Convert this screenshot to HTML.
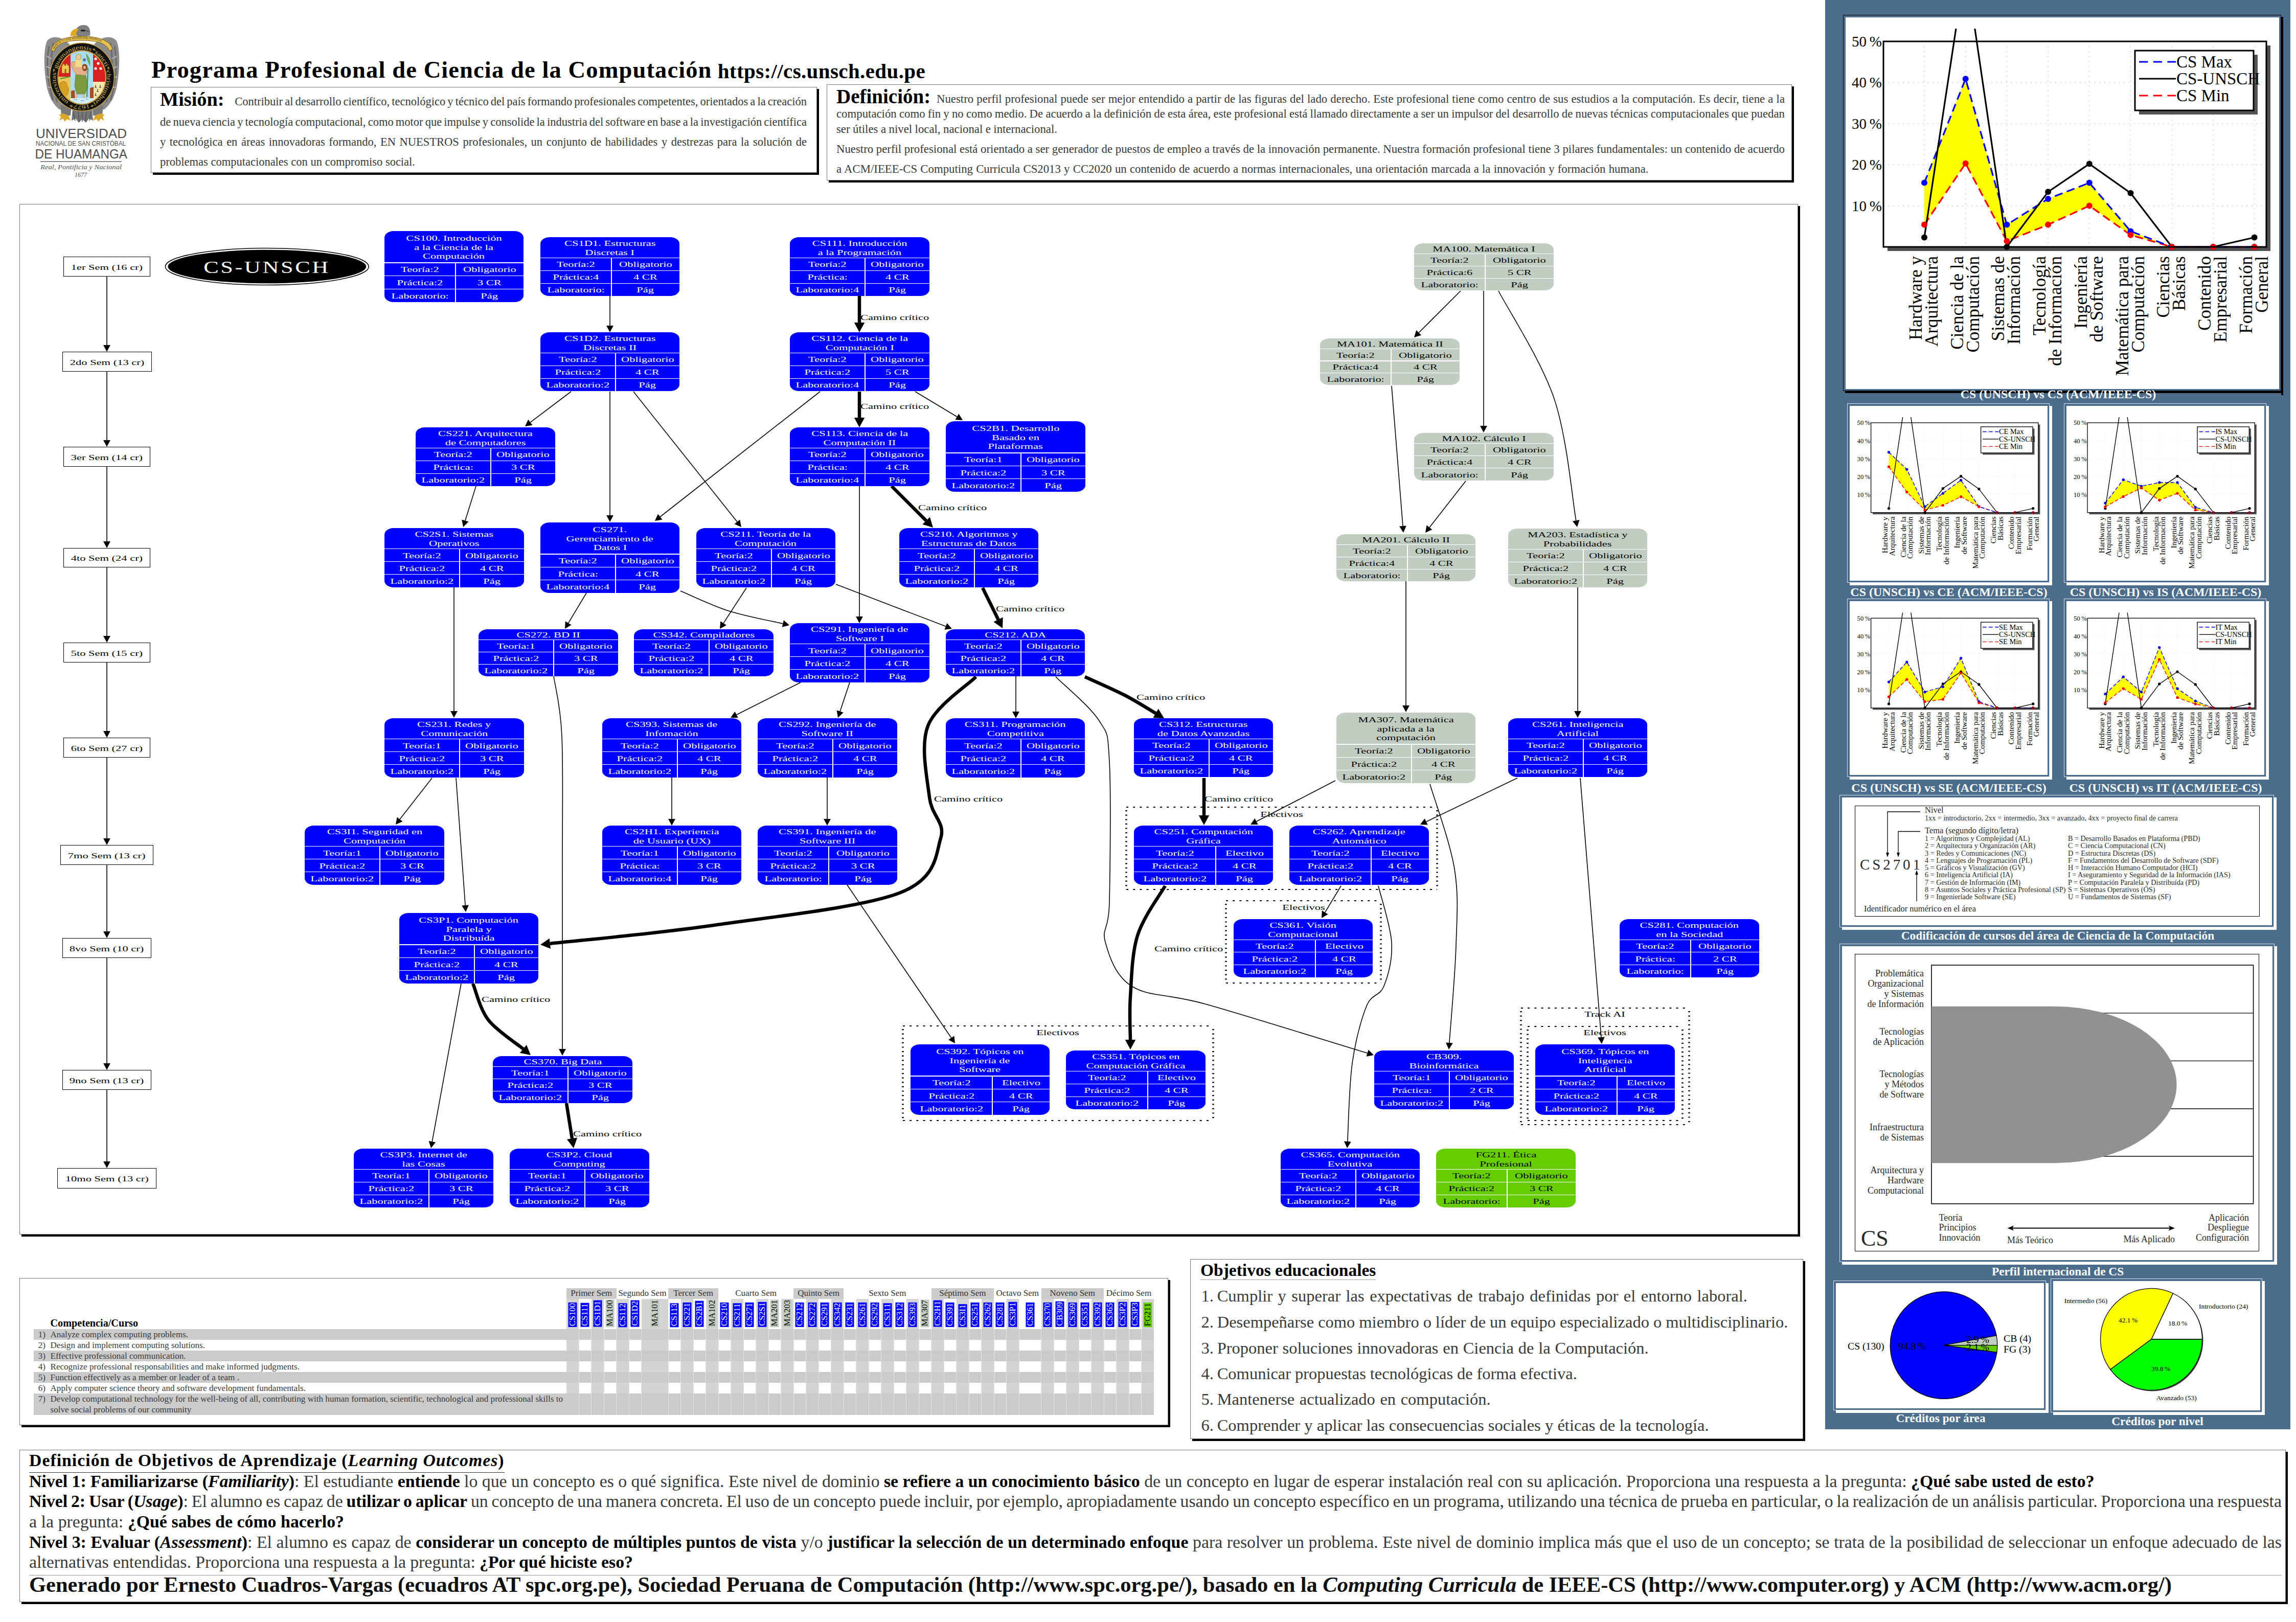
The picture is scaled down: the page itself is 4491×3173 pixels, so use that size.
<!DOCTYPE html><html><head><meta charset="utf-8"><style>
*{margin:0;padding:0;box-sizing:border-box}
html,body{width:4491px;height:3173px;background:#fff;overflow:hidden}
body{position:relative;font-family:"Liberation Serif",serif;color:#000}
b{color:#000}
.ab{position:absolute}
.nw{white-space:nowrap}
.cb{position:absolute;overflow:hidden;border-radius:18px/13px;color:#fff;font-size:14.7px;line-height:17.7px}
.sx{display:inline-block;transform:scaleX(1.53);white-space:nowrap;position:relative;top:1.5px}

.cb.g{color:#000}
.cb.v{color:#000}
.cb .hd{position:absolute;left:0;right:0;top:0;display:flex;flex-direction:column;justify-content:center;align-items:center;text-align:center}
.cb .hl{position:absolute;left:0;right:0;height:1.2px;background:#fff}
.cb .vl{position:absolute;width:1.4px;background:#fff}
.cb .cell{position:absolute;display:flex;align-items:center;justify-content:center;white-space:nowrap}
.sem{position:absolute;border:1.3px solid #000;background:#fff;display:flex;align-items:center;justify-content:center;font-size:14.7px;white-space:nowrap}
.frame{position:absolute;border:1px solid #666;background:#fff}
.shadow{position:absolute;background:#000}
.cam{position:absolute;font-size:14.7px;white-space:nowrap;line-height:1;transform:scaleX(1.53);transform-origin:0 50%}
.clab{position:absolute;font-size:14.7px;white-space:nowrap;line-height:1;transform:translate(-50%,-50%) scaleX(1.53)}
.jl{display:block;text-align:justify;text-align-last:justify;white-space:nowrap}
.ln{position:absolute;white-space:nowrap}
</style></head><body><svg class="ab" style="left:0;top:0" width="300" height="360" viewBox="0 0 300 360"><defs><path id="ribp" d="M106 97 C112 83 130 76 160 76 C190 76 208 83 214 97"/><path id="ringp" d="M134.3 198.9 A50 55 0 1 1 184.3 198.9 A50 55 0 0 1 134.3 198.9" /></defs><path d="M140 92 C128 74 104 66 92 80 C84 100 86 140 92 172 C97 192 104 204 116 214 L150 214 Z" fill="#8c8c8c"/><path d="M180 92 C192 74 216 66 228 80 C236 100 234 140 228 172 C223 192 216 204 204 214 L170 214 Z" fill="#8c8c8c"/><path d="M96 90 C90 120 92 160 104 196 M104 84 C98 118 100 160 112 200 M224 90 C230 120 228 160 216 196 M216 84 C222 118 220 160 208 200" stroke="#666" stroke-width="2.4" fill="none"/><path d="M92 110 l9 5 M91 130 l9 4 M91 150 l10 3 M93 170 l10 2 M228 110 l-9 5 M229 130 l-9 4 M229 150 l-10 3 M227 170 l-10 2" stroke="#b5b5b5" stroke-width="2.2" fill="none"/><path d="M118 206 L140 206 L138 226 L120 226 Z M180 206 L202 206 L200 226 L182 226 Z" fill="#7a7a7a"/><path d="M142 212 L180 212 L182 236 L174 232 L168 240 L161 233 L154 240 L148 232 L140 236 Z" fill="#777"/><path d="M143 218 L147 236 M153 218 L155 238 M161 218 L161 238 M169 218 L167 238 M178 218 L175 236" stroke="#555" stroke-width="1.5"/><path d="M116 224 L124 222 L134 226 L138 236 L131 233 L127 238 L123 232 L116 236 L119 229 Z" fill="#dba828"/><path d="M204 224 L196 222 L186 226 L182 236 L189 233 L193 238 L197 232 L204 236 L201 229 Z" fill="#dba828"/><path d="M148 66 C146 54 156 48 166 49 C174 50 178 58 176 70 L152 72 Z" fill="#808080"/><path d="M150 56 C142 57 137 63 138 70 L150 71 C148 66 149 61 154 58 Z" fill="#e2a620"/><path d="M157 60 C160 57 165 57 168 60 C165 62 160 62 157 60 Z" fill="#222"/><path d="M168 60 l6 2" stroke="#333" stroke-width="1"/><path d="M100 98 C104 80 126 71 160 71 C194 71 216 80 220 96 L214 100 C210 86 192 79 160 79 C128 79 110 86 106 101 Z" fill="#e6c050" stroke="#6b5010" stroke-width="0.9"/><text font-family="Liberation Serif" font-size="6" fill="#4a3800" textLength="100" lengthAdjust="spacingAndGlyphs"><textPath href="#ribp">PRIMVM VIVERE DEINDE PHILOSOPHARI</textPath></text><ellipse cx="160.5" cy="150.5" rx="63" ry="66.5" fill="#111" stroke="#c9a040" stroke-width="1.5"/><text font-family="Liberation Serif" font-size="11.5" fill="#dcb858" textLength="325" lengthAdjust="spacingAndGlyphs"><textPath href="#ringp" textLength="325" lengthAdjust="spacingAndGlyphs">universitas*guamangensis*sancti*christophori*1677*</textPath></text><ellipse cx="160.2" cy="151.5" rx="48" ry="53.5" fill="#c9a040"/><clipPath id="shc"><ellipse cx="160.2" cy="151.5" rx="45.8" ry="51.2"/></clipPath><g clip-path="url(#shc)"><rect x="110" y="95" width="30" height="57" fill="#d82020"/><rect x="110" y="150" width="30" height="60" fill="#e9c75c"/><rect x="138" y="95" width="45" height="115" fill="#a9dcf2"/><rect x="182" y="95" width="30" height="66" fill="#d82020"/><rect x="182" y="160" width="30" height="50" fill="#f6e7ad"/><path d="M121 143 L121 128 L123 128 L123 125 L126 125 L126 128 L129 128 L129 125 L132 125 L132 128 L135 128 L135 143 Z" fill="#ecc850" stroke="#8a6a10" stroke-width="0.6"/><rect x="126.5" y="135" width="3" height="8" fill="#8a6a10"/><path d="M118 162 C124 156 132 160 131 168 C136 172 134 184 128 190 C124 186 120 182 121 176 C117 172 116 166 118 162 Z" fill="#d8a020" stroke="#8a5a10" stroke-width="0.6"/><path d="M118 154 L136 150" stroke="#3a9a30" stroke-width="2"/><path d="M140 122 C146 118 156 124 164 132 L170 140 L166 150 L150 146 C143 140 139 130 140 122 Z" fill="#e6b08a" stroke="#8a5030" stroke-width="0.5"/><path d="M161 128 C163 124 170 124 171 130 C172 136 168 140 164 139 C161 137 160 132 161 128 Z" fill="#8a4a20"/><path d="M163 130 C165 128 168 129 168 132 C168 135 165 136 163 134 Z" fill="#eab898"/><path d="M148 146 L168 148 L172 170 L166 184 L150 184 L146 168 Z" fill="#7b9a3e" stroke="#4a6a20" stroke-width="0.5"/><path d="M151 184 L149 196 M163 184 L165 196" stroke="#e6b08a" stroke-width="3.5"/><path d="M139 178 L146 176 L147 200 L139 200 Z M176 172 L183 170 L183 200 L176 200 Z" fill="#a0502a"/><rect x="138" y="192" width="45" height="12" fill="#d2eefa"/><path d="M145 195 h6 M158 197 h7 M168 194 h5" stroke="#5a8a9a" stroke-width="1"/><circle cx="153.5" cy="111.5" r="5.2" fill="none" stroke="#d8a830" stroke-width="1.5"/><circle cx="153.5" cy="112" r="3.6" fill="#f0c8a0"/><path d="M148 117 L159 117 L161 131 L147 131 Z" fill="#f2dc8a"/><circle cx="165" cy="117" r="3" fill="#3a70c0" stroke="#c8a030" stroke-width="0.8"/><path d="M172 133 L170 190" stroke="#4a8a3a" stroke-width="2"/><path d="M168 104 C174 110 178 118 176 130 C172 122 169 114 168 104 Z" fill="#6aaa50"/><circle cx="187" cy="115" r="2.6" fill="#fff"/><circle cx="197" cy="115" r="2.6" fill="#fff"/><circle cx="192" cy="124" r="2.6" fill="#fff"/><circle cx="187" cy="134" r="2.6" fill="#fff"/><circle cx="197" cy="134" r="2.6" fill="#fff"/><path d="M187 166 l0 4 M187 170 l-2 2 M187 170 l2 2" stroke="#111" stroke-width="1"/><path d="M196 166 l0 4 M196 170 l-2 2 M196 170 l2 2" stroke="#111" stroke-width="1"/><path d="M191 174 l0 4 M191 178 l-2 2 M191 178 l2 2" stroke="#111" stroke-width="1"/><path d="M187 182 l0 4 M187 186 l-2 2 M187 186 l2 2" stroke="#111" stroke-width="1"/><path d="M197 182 l0 4 M197 186 l-2 2 M197 186 l2 2" stroke="#111" stroke-width="1"/><path d="M192 190 l0 4 M192 194 l-2 2 M192 194 l2 2" stroke="#111" stroke-width="1"/></g><text x="70" y="270" textLength="178" lengthAdjust="spacingAndGlyphs" font-family="Liberation Sans" font-size="26.5" fill="#4d4d4d">UNIVERSIDAD</text><text x="70" y="285.3" textLength="176" lengthAdjust="spacingAndGlyphs" font-family="Liberation Sans" font-size="12.5" fill="#4d4d4d">NACIONAL DE SAN CRISTÓBAL</text><text x="68.6" y="310" textLength="180.4" lengthAdjust="spacingAndGlyphs" font-family="Liberation Sans" font-size="25" fill="#4d4d4d">DE HUAMANGA</text><rect x="79" y="315.3" width="159" height="1.6" fill="#6a6a6a"/><text x="79" y="331" textLength="159" lengthAdjust="spacingAndGlyphs" font-family="Liberation Serif" font-style="italic" font-size="13.5" fill="#555">Real, Pontificia y Nacional</text><text x="158" y="345.5" text-anchor="middle" font-family="Liberation Serif" font-style="italic" font-size="12" fill="#555">1677</text></svg>
<div class="ln" style="left:296px;top:114.1px;font-weight:bold;font-size:46.5px;line-height:46.5px"><span id="ls_title" style="display:inline-block;letter-spacing:1.117px">Programa Profesional de Ciencia de la Computación</span></div>
<div class="ln" style="left:1403.7px;top:118.7px;font-weight:bold;font-size:41px;line-height:41px"><span id="ls_url0" style="display:inline-block;letter-spacing:0.383px">https://cs.unsch.edu.pe</span></div>
<div class="ab" style="left:1598px;top:174px;width:4px;height:168px;background:#000"></div>
<div class="ab" style="left:299px;top:338px;width:1303px;height:4px;background:#000"></div>
<div class="ab" style="left:295px;top:170px;width:1303px;height:168px;border:1px solid #777;background:#fff"></div>
<div class="ln" style="left:313px;top:174.92374999999998px;font-weight:bold;font-size:38.3px;line-height:38.3px"><span>Misión:</span></div>
<div class="ln" style="left:459.3px;top:188.2px;font-size:22.5px;line-height:22.5px;color:#3a3a3a"><span id="mis0" style="display:inline-block;word-spacing:-1.518px">Contribuir al desarrollo científico, tecnológico y técnico del país formando profesionales competentes, orientados a la creación</span></div>
<div class="ln" style="left:313px;top:227.5px;font-size:22.5px;line-height:22.5px;color:#3a3a3a"><span id="mis1" style="display:inline-block;word-spacing:-1.467px">de nueva ciencia y tecnología computacional, como motor que impulse y consolide la industria del software en base a la investigación científica</span></div>
<div class="ln" style="left:313px;top:266.9px;font-size:22.5px;line-height:22.5px;color:#3a3a3a"><span id="mis2" style="display:inline-block;word-spacing:1.964px">y tecnológica en áreas innovadoras formando, EN NUESTROS profesionales, un conjunto de habilidades y destrezas para la solución de</span></div>
<div class="ln" style="left:313px;top:306.3px;font-size:22.5px;line-height:22.5px;color:#3a3a3a"><span id="mis3" style="display:inline-block;word-spacing:0.072px">problemas computacionales con un compromiso social.</span></div>
<div class="ab" style="left:3505px;top:169px;width:4px;height:188px;background:#000"></div>
<div class="ab" style="left:1621px;top:353px;width:1888px;height:4px;background:#000"></div>
<div class="ab" style="left:1617px;top:165px;width:1888px;height:188px;border:1px solid #777;background:#fff"></div>
<div class="ln" style="left:1636px;top:169.3375px;font-weight:bold;font-size:39px;line-height:39px"><span>Definición:</span></div>
<div class="ln" style="left:1832px;top:182.9px;font-size:22.8px;line-height:22.8px;color:#3a3a3a"><span id="def0" style="display:inline-block;word-spacing:0.405px">Nuestro perfil profesional puede ser mejor entendido a partir de las figuras del lado derecho. Este profesional tiene como centro de sus estudios a la computación. Es decir, tiene a la</span></div>
<div class="ln" style="left:1636px;top:212.2px;font-size:22.8px;line-height:22.8px;color:#3a3a3a"><span id="def1" style="display:inline-block;word-spacing:-0.502px">computación como fin y no como medio. De acuerdo a la definición de esta área, este profesional está llamado directamente a ser un impulsor del desarrollo de nuevas técnicas computacionales que puedan</span></div>
<div class="ln" style="left:1636px;top:241.5px;font-size:22.8px;line-height:22.8px;color:#3a3a3a"><span id="def2" style="display:inline-block;word-spacing:-0.230px">ser útiles a nivel local, nacional e internacional.</span></div>
<div class="ln" style="left:1636px;top:280.9px;font-size:22.8px;line-height:22.8px;color:#3a3a3a"><span id="def3" style="display:inline-block;word-spacing:-0.058px">Nuestro perfil profesional está orientado a ser generador de puestos de empleo a través de la innovación permanente. Nuestra formación profesional tiene 3 pilares fundamentales: un contenido de acuerdo</span></div>
<div class="ln" style="left:1636px;top:320.4px;font-size:22.8px;line-height:22.8px;color:#3a3a3a"><span id="def4" style="display:inline-block;word-spacing:0.493px">a ACM/IEEE-CS Computing Curricula CS2013 y CC2020 un contenido de acuerdo a normas internacionales, una orientación marcada a la innovación y formación humana.</span></div>
<div class="ab" style="left:3517px;top:403px;width:4px;height:2016px;background:#000"></div>
<div class="ab" style="left:42px;top:2415px;width:3479px;height:4px;background:#000"></div>
<div class="ab" style="left:38px;top:399px;width:3479px;height:2016px;border:1px solid #777;background:#fff"></div>
<svg class="ab" style="left:0;top:0" width="4491" height="3173"><line x1="2203" y1="1579" x2="2811" y2="1579" stroke="#000" stroke-width="2.2" stroke-dasharray="4 9.2"/><line x1="2203" y1="1740" x2="2811" y2="1740" stroke="#000" stroke-width="2.2" stroke-dasharray="4 9.2"/><line x1="2203" y1="1585" x2="2203" y2="1740" stroke="#000" stroke-width="3.6" stroke-dasharray="2.2 6.4"/><line x1="2811" y1="1585" x2="2811" y2="1740" stroke="#000" stroke-width="3.6" stroke-dasharray="2.2 6.4"/><line x1="2398" y1="1762" x2="2701" y2="1762" stroke="#000" stroke-width="2.2" stroke-dasharray="4 9.2"/><line x1="2398" y1="1923" x2="2701" y2="1923" stroke="#000" stroke-width="2.2" stroke-dasharray="4 9.2"/><line x1="2398" y1="1768" x2="2398" y2="1923" stroke="#000" stroke-width="3.6" stroke-dasharray="2.2 6.4"/><line x1="2701" y1="1768" x2="2701" y2="1923" stroke="#000" stroke-width="3.6" stroke-dasharray="2.2 6.4"/><line x1="1766" y1="2007" x2="2373" y2="2007" stroke="#000" stroke-width="2.2" stroke-dasharray="4 9.2"/><line x1="1766" y1="2192" x2="2373" y2="2192" stroke="#000" stroke-width="2.2" stroke-dasharray="4 9.2"/><line x1="1766" y1="2013" x2="1766" y2="2192" stroke="#000" stroke-width="3.6" stroke-dasharray="2.2 6.4"/><line x1="2373" y1="2013" x2="2373" y2="2192" stroke="#000" stroke-width="3.6" stroke-dasharray="2.2 6.4"/><line x1="2975" y1="1972" x2="3304" y2="1972" stroke="#000" stroke-width="2.2" stroke-dasharray="4 9.2"/><line x1="2975" y1="2200" x2="3304" y2="2200" stroke="#000" stroke-width="2.2" stroke-dasharray="4 9.2"/><line x1="2975" y1="1978" x2="2975" y2="2200" stroke="#000" stroke-width="3.6" stroke-dasharray="2.2 6.4"/><line x1="3304" y1="1978" x2="3304" y2="2200" stroke="#000" stroke-width="3.6" stroke-dasharray="2.2 6.4"/><line x1="2988" y1="2008" x2="3291" y2="2008" stroke="#000" stroke-width="2.2" stroke-dasharray="4 9.2"/><line x1="2988" y1="2192" x2="3291" y2="2192" stroke="#000" stroke-width="2.2" stroke-dasharray="4 9.2"/><line x1="2988" y1="2014" x2="2988" y2="2192" stroke="#000" stroke-width="3.6" stroke-dasharray="2.2 6.4"/><line x1="3291" y1="2014" x2="3291" y2="2192" stroke="#000" stroke-width="3.6" stroke-dasharray="2.2 6.4"/><path d="M209.0 541.0 L209.0 675.0" fill="none" stroke="#000" stroke-width="1.6"/><polygon points="209.0,688.0 202.1,675.0 215.9,675.0" fill="#000"/><path d="M209.0 727.0 L209.0 861.0" fill="none" stroke="#000" stroke-width="1.6"/><polygon points="209.0,874.0 202.1,861.0 215.9,861.0" fill="#000"/><path d="M209.0 913.0 L209.0 1059.0" fill="none" stroke="#000" stroke-width="1.6"/><polygon points="209.0,1072.0 202.1,1059.0 215.9,1059.0" fill="#000"/><path d="M209.0 1110.0 L209.0 1244.0" fill="none" stroke="#000" stroke-width="1.6"/><polygon points="209.0,1257.0 202.1,1244.0 215.9,1244.0" fill="#000"/><path d="M209.0 1296.0 L209.0 1430.0" fill="none" stroke="#000" stroke-width="1.6"/><polygon points="209.0,1443.0 202.1,1430.0 215.9,1430.0" fill="#000"/><path d="M209.0 1482.0 L209.0 1640.0" fill="none" stroke="#000" stroke-width="1.6"/><polygon points="209.0,1653.0 202.1,1640.0 215.9,1640.0" fill="#000"/><path d="M209.0 1692.0 L209.0 1822.0" fill="none" stroke="#000" stroke-width="1.6"/><polygon points="209.0,1835.0 202.1,1822.0 215.9,1822.0" fill="#000"/><path d="M209.0 1874.0 L209.0 2080.0" fill="none" stroke="#000" stroke-width="1.6"/><polygon points="209.0,2093.0 202.1,2080.0 215.9,2080.0" fill="#000"/><path d="M209.0 2132.0 L209.0 2272.0" fill="none" stroke="#000" stroke-width="1.6"/><polygon points="209.0,2285.0 202.1,2272.0 215.9,2272.0" fill="#000"/><path d="M1193.0 579.0 L1193.0 637.0" fill="none" stroke="#000" stroke-width="1.6"/><polygon points="1193.0,650.0 1186.1,637.0 1199.9,637.0" fill="#000"/><path d="M1681.0 579.0 L1681.0 631.0" fill="none" stroke="#000" stroke-width="6.5"/><polygon points="1681.0,650.0 1670.8,631.0 1691.2,631.0" fill="#000"/><path d="M1117.0 766.0 L1037.4 826.2" fill="none" stroke="#000" stroke-width="1.6"/><polygon points="1027.0,834.0 1033.2,820.7 1041.5,831.7" fill="#000"/><path d="M1193.0 766.0 L1193.0 1008.0" fill="none" stroke="#000" stroke-width="1.6"/><polygon points="1193.0,1021.0 1186.1,1008.0 1199.9,1008.0" fill="#000"/><path d="M1239.0 766.0 L1441.9 1020.8" fill="none" stroke="#000" stroke-width="1.6"/><polygon points="1450.0,1031.0 1436.5,1025.1 1447.3,1016.5" fill="#000"/><path d="M1604.0 766.0 L1291.2 1011.0" fill="none" stroke="#000" stroke-width="1.6"/><polygon points="1281.0,1019.0 1287.0,1005.6 1295.5,1016.4" fill="#000"/><path d="M1681.0 766.0 L1681.0 817.0" fill="none" stroke="#000" stroke-width="6.5"/><polygon points="1681.0,836.0 1670.8,817.0 1691.2,817.0" fill="#000"/><path d="M1790.0 766.0 L1871.9 815.3" fill="none" stroke="#000" stroke-width="1.6"/><polygon points="1883.0,822.0 1868.3,821.2 1875.4,809.4" fill="#000"/><path d="M1744.0 951.0 L1811.6 1018.6" fill="none" stroke="#000" stroke-width="6.5"/><polygon points="1825.0,1032.0 1804.4,1025.8 1818.8,1011.4" fill="#000"/><path d="M1681.0 951.0 L1681.0 1206.0" fill="none" stroke="#000" stroke-width="1.6"/><polygon points="1681.0,1219.0 1674.1,1206.0 1687.9,1206.0" fill="#000"/><path d="M931.0 951.0 L909.9 1018.6" fill="none" stroke="#000" stroke-width="1.6"/><polygon points="906.0,1031.0 903.3,1016.5 916.5,1020.6" fill="#000"/><path d="M888.0 1149.0 L888.0 1391.0" fill="none" stroke="#000" stroke-width="1.6"/><polygon points="888.0,1404.0 881.1,1391.0 894.9,1391.0" fill="#000"/><path d="M1147.0 1160.0 L1111.7 1218.9" fill="none" stroke="#000" stroke-width="1.6"/><polygon points="1105.0,1230.0 1105.8,1215.3 1117.6,1222.4" fill="#000"/><path d="M1331.0 1156.0 C1346.7 1162.5 1391.6 1184.3 1425.0 1195.0 C1458.4 1205.7 1513.6 1215.9 1531.3 1220.0" fill="none" stroke="#000" stroke-width="1.6"/><polygon points="1544.0,1223.0 1529.8,1226.7 1532.9,1213.3" fill="#000"/><path d="M1460.0 1150.0 L1415.1 1219.1" fill="none" stroke="#000" stroke-width="1.6"/><polygon points="1408.0,1230.0 1409.3,1215.3 1420.9,1222.9" fill="#000"/><path d="M1635.0 1143.0 L1849.9 1225.3" fill="none" stroke="#000" stroke-width="1.6"/><polygon points="1862.0,1230.0 1847.4,1231.8 1852.3,1218.9" fill="#000"/><path d="M1922.0 1150.0 L1952.6 1212.0" fill="none" stroke="#000" stroke-width="6.5"/><polygon points="1961.0,1229.0 1943.4,1216.5 1961.7,1207.4" fill="#000"/><path d="M1083.0 1323.0 C1085.7 1342.5 1096.2 1377.2 1099.0 1440.0 C1101.8 1502.8 1099.8 1598.0 1100.0 1700.0 C1100.2 1802.0 1100.0 1993.3 1100.0 2052.0" fill="none" stroke="#000" stroke-width="1.6"/><polygon points="1100.0,2065.0 1093.1,2052.0 1106.9,2052.0" fill="#000"/><path d="M1566.0 1335.0 L1440.6 1398.2" fill="none" stroke="#000" stroke-width="1.6"/><polygon points="1429.0,1404.0 1437.5,1392.0 1443.7,1404.3" fill="#000"/><path d="M1662.0 1335.0 L1643.1 1391.7" fill="none" stroke="#000" stroke-width="1.6"/><polygon points="1639.0,1404.0 1636.6,1389.5 1649.7,1393.8" fill="#000"/><path d="M1987.0 1323.0 L1987.0 1392.0" fill="none" stroke="#000" stroke-width="1.6"/><polygon points="1987.0,1405.0 1980.1,1392.0 1993.9,1392.0" fill="#000"/><path d="M2122.0 1324.0 C2135.0 1330.0 2176.9 1348.1 2200.0 1360.0 C2223.1 1371.9 2250.5 1389.5 2260.6 1395.4" fill="none" stroke="#000" stroke-width="6.5"/><polygon points="2277.0,1405.0 2255.4,1404.2 2265.7,1386.6" fill="#000"/><path d="M1909.0 1324.0 C1893.3 1340.0 1830.2 1380.7 1815.0 1420.0 C1799.8 1459.3 1813.8 1523.3 1818.0 1560.0 C1822.2 1596.7 1849.8 1608.8 1840.0 1640.0 C1830.2 1671.2 1833.0 1718.7 1759.0 1747.0 C1685.0 1775.3 1509.9 1793.5 1396.0 1810.0 C1282.1 1826.5 1129.2 1839.9 1075.9 1845.9" fill="none" stroke="#000" stroke-width="6.5"/><polygon points="1057.0,1848.0 1074.7,1835.7 1077.0,1856.0" fill="#000"/><path d="M2065.0 1324.0 C2079.2 1338.3 2132.5 1382.3 2150.0 1410.0 C2167.5 1437.7 2166.7 1431.0 2170.0 1490.0 C2173.3 1549.0 2171.3 1705.2 2170.0 1764.0 C2168.7 1822.8 2154.5 1815.3 2162.0 1843.0 C2169.5 1870.7 2181.8 1909.7 2215.0 1930.0 C2248.2 1950.3 2284.4 1943.3 2361.0 1965.0 C2437.6 1986.7 2622.3 2044.4 2674.6 2060.2" fill="none" stroke="#000" stroke-width="1.6"/><polygon points="2687.0,2064.0 2672.6,2066.8 2676.6,2053.6" fill="#000"/><path d="M845.0 1522.0 L782.0 1602.8" fill="none" stroke="#000" stroke-width="1.6"/><polygon points="774.0,1613.0 776.6,1598.5 787.4,1607.0" fill="#000"/><path d="M892.0 1522.0 L910.1 1771.0" fill="none" stroke="#000" stroke-width="1.6"/><polygon points="911.0,1784.0 903.2,1771.5 916.9,1770.5" fill="#000"/><path d="M1314.0 1521.0 L1314.0 1602.0" fill="none" stroke="#000" stroke-width="1.6"/><polygon points="1314.0,1615.0 1307.1,1602.0 1320.9,1602.0" fill="#000"/><path d="M1618.0 1521.0 L1618.0 1602.0" fill="none" stroke="#000" stroke-width="1.6"/><polygon points="1618.0,1615.0 1611.1,1602.0 1624.9,1602.0" fill="#000"/><path d="M1657.0 1731.0 L1860.7 2030.3" fill="none" stroke="#000" stroke-width="1.6"/><polygon points="1868.0,2041.0 1855.0,2034.1 1866.4,2026.4" fill="#000"/><path d="M2355.0 1522.0 L2355.0 1595.0" fill="none" stroke="#000" stroke-width="6.5"/><polygon points="2355.0,1614.0 2344.8,1595.0 2365.2,1595.0" fill="#000"/><path d="M2612.0 1527.0 L2457.5 1607.0" fill="none" stroke="#000" stroke-width="1.6"/><polygon points="2446.0,1613.0 2454.4,1600.9 2460.7,1613.1" fill="#000"/><path d="M2968.0 1522.0 L2789.7 1607.4" fill="none" stroke="#000" stroke-width="1.6"/><polygon points="2778.0,1613.0 2786.7,1601.2 2792.7,1613.6" fill="#000"/><path d="M3091.0 1522.0 L3132.0 2029.0" fill="none" stroke="#000" stroke-width="1.6"/><polygon points="3133.0,2042.0 3125.1,2029.6 3138.8,2028.5" fill="#000"/><path d="M2797.0 1534.0 C2805.0 1561.7 2836.5 1647.3 2845.0 1700.0 C2853.5 1752.7 2849.7 1793.3 2848.0 1850.0 C2846.3 1906.7 2837.1 2008.4 2834.9 2040.0" fill="none" stroke="#000" stroke-width="1.6"/><polygon points="2834.0,2053.0 2828.0,2039.6 2841.8,2040.5" fill="#000"/><path d="M2279.0 1733.0 C2270.0 1749.2 2236.3 1793.8 2225.0 1830.0 C2213.7 1866.2 2213.3 1916.0 2211.0 1950.0 C2208.7 1984.0 2211.0 2020.0 2211.0 2034.0" fill="none" stroke="#000" stroke-width="6.5"/><polygon points="2211.0,2053.0 2200.8,2034.0 2221.2,2034.0" fill="#000"/><path d="M2623.0 1733.0 L2591.7 1784.9" fill="none" stroke="#000" stroke-width="1.6"/><polygon points="2585.0,1796.0 2585.8,1781.3 2597.6,1788.4" fill="#000"/><path d="M2696.0 1733.0 C2700.3 1751.5 2720.2 1811.3 2722.0 1844.0 C2723.8 1876.7 2715.2 1908.3 2707.0 1929.0 C2698.8 1949.7 2683.3 1942.8 2673.0 1968.0 C2662.7 1993.2 2651.2 2035.8 2645.0 2080.0 C2638.8 2124.2 2637.3 2207.5 2635.8 2233.0" fill="none" stroke="#000" stroke-width="1.6"/><polygon points="2635.0,2246.0 2628.9,2232.6 2642.7,2233.4" fill="#000"/><path d="M925.0 1924.0 C930.0 1935.8 938.6 1973.7 955.0 1995.0 C971.4 2016.3 1012.0 2042.4 1023.4 2051.9" fill="none" stroke="#000" stroke-width="6.5"/><polygon points="1038.0,2064.0 1016.9,2059.7 1029.9,2044.0" fill="#000"/><path d="M902.0 1924.0 L845.3 2233.2" fill="none" stroke="#000" stroke-width="1.6"/><polygon points="843.0,2246.0 838.6,2232.0 852.1,2234.5" fill="#000"/><path d="M1108.0 2158.0 L1119.0 2227.2" fill="none" stroke="#000" stroke-width="6.5"/><polygon points="1122.0,2246.0 1108.9,2228.8 1129.1,2225.6" fill="#000"/><path d="M2857.0 569.0 L2775.2 650.8" fill="none" stroke="#000" stroke-width="1.6"/><polygon points="2766.0,660.0 2770.3,645.9 2780.1,655.7" fill="#000"/><path d="M2902.0 569.0 L2902.0 833.0" fill="none" stroke="#000" stroke-width="1.6"/><polygon points="2902.0,846.0 2895.1,833.0 2908.9,833.0" fill="#000"/><path d="M2931.0 569.0 C2949.2 604.2 3014.7 705.1 3040.0 780.0 C3065.3 854.9 3075.6 978.5 3082.7 1018.2" fill="none" stroke="#000" stroke-width="1.6"/><polygon points="3085.0,1031.0 3075.9,1019.4 3089.5,1017.0" fill="#000"/><path d="M2722.0 755.0 L2744.0 1029.0" fill="none" stroke="#000" stroke-width="1.6"/><polygon points="2745.0,1042.0 2737.1,1029.6 2750.8,1028.5" fill="#000"/><path d="M2867.0 941.0 L2796.0 1031.8" fill="none" stroke="#000" stroke-width="1.6"/><polygon points="2788.0,1042.0 2790.6,1027.5 2801.4,1036.0" fill="#000"/><path d="M2750.0 1137.0 L2750.0 1380.0" fill="none" stroke="#000" stroke-width="1.6"/><polygon points="2750.0,1393.0 2743.1,1380.0 2756.9,1380.0" fill="#000"/><path d="M3086.0 1149.0 L3086.0 1391.0" fill="none" stroke="#000" stroke-width="1.6"/><polygon points="3086.0,1404.0 3079.1,1391.0 3092.9,1391.0" fill="#000"/><ellipse cx="522.3" cy="521.5" rx="199" ry="36" fill="#fff" stroke="#000" stroke-width="1.5"/><ellipse cx="522.3" cy="521.5" rx="193.9" ry="32.8" fill="#000"/></svg>
<div class="ln" style="left:322px;top:505.7px;width:400px;text-align:center;color:#fff;font-size:34px;line-height:34px;letter-spacing:2.8px;transform:scaleX(1.3)"><span>CS-UNSCH</span></div>
<div class="sem" style="left:124px;top:502px;width:170px;height:39px"><span class="sx">1er Sem (16 cr)</span></div>
<div class="sem" style="left:122px;top:688px;width:175px;height:39px"><span class="sx">2do Sem (13 cr)</span></div>
<div class="sem" style="left:124px;top:874px;width:170px;height:39px"><span class="sx">3er Sem (14 cr)</span></div>
<div class="sem" style="left:124px;top:1072px;width:170px;height:38px"><span class="sx">4to Sem (24 cr)</span></div>
<div class="sem" style="left:124px;top:1257px;width:170px;height:39px"><span class="sx">5to Sem (15 cr)</span></div>
<div class="sem" style="left:124px;top:1443px;width:170px;height:39px"><span class="sx">6to Sem (27 cr)</span></div>
<div class="sem" style="left:118px;top:1653px;width:182px;height:39px"><span class="sx">7mo Sem (13 cr)</span></div>
<div class="sem" style="left:122px;top:1835px;width:174px;height:39px"><span class="sx">8vo Sem (10 cr)</span></div>
<div class="sem" style="left:122px;top:2093px;width:174px;height:39px"><span class="sx">9no Sem (13 cr)</span></div>
<div class="sem" style="left:112px;top:2285px;width:194px;height:40px"><span class="sx">10mo Sem (13 cr)</span></div>
<div class="cb b" style="left:752px;top:452px;width:272px;height:139px;background:#0000ff"><div class="hd" style="height:62.0px"><div class="nw"><span class="sx">CS100. Introducción</span></div><div class="nw"><span class="sx">a la Ciencia de la</span></div><div class="nw"><span class="sx">Computación</span></div></div><div class="hl" style="top:61.4px"></div><div class="hl" style="top:87.1px"></div><div class="hl" style="top:112.7px"></div><div class="vl" style="left:138.3px;top:62.0px;height:77.0px"></div><div class="cell" style="left:0;top:62.0px;width:139px;height:25.7px"><span class="sx">Teoría:2</span></div><div class="cell" style="left:139px;top:62.0px;width:133px;height:25.7px"><span class="sx">Obligatorio</span></div><div class="cell" style="left:0;top:87.7px;width:139px;height:25.7px"><span class="sx">Práctica:2</span></div><div class="cell" style="left:139px;top:87.7px;width:133px;height:25.7px"><span class="sx">3 CR</span></div><div class="cell" style="left:0;top:113.3px;width:139px;height:25.7px"><span class="sx">Laboratorio:</span></div><div class="cell" style="left:139px;top:113.3px;width:133px;height:25.7px"><span class="sx">Pág</span></div></div>
<div class="cb b" style="left:1057px;top:464px;width:272px;height:115px;background:#0000ff"><div class="hd" style="height:40.3px"><div class="nw"><span class="sx">CS1D1. Estructuras</span></div><div class="nw"><span class="sx">Discretas I</span></div></div><div class="hl" style="top:39.7px"></div><div class="hl" style="top:64.6px"></div><div class="hl" style="top:89.5px"></div><div class="vl" style="left:138.3px;top:40.3px;height:74.7px"></div><div class="cell" style="left:0;top:40.3px;width:139px;height:24.9px"><span class="sx">Teoría:2</span></div><div class="cell" style="left:139px;top:40.3px;width:133px;height:24.9px"><span class="sx">Obligatorio</span></div><div class="cell" style="left:0;top:65.2px;width:139px;height:24.9px"><span class="sx">Práctica:4</span></div><div class="cell" style="left:139px;top:65.2px;width:133px;height:24.9px"><span class="sx">4 CR</span></div><div class="cell" style="left:0;top:90.1px;width:139px;height:24.9px"><span class="sx">Laboratorio:</span></div><div class="cell" style="left:139px;top:90.1px;width:133px;height:24.9px"><span class="sx">Pág</span></div></div>
<div class="cb b" style="left:1545px;top:464px;width:273px;height:115px;background:#0000ff"><div class="hd" style="height:40.3px"><div class="nw"><span class="sx">CS111. Introducción</span></div><div class="nw"><span class="sx">a la Programación</span></div></div><div class="hl" style="top:39.7px"></div><div class="hl" style="top:64.6px"></div><div class="hl" style="top:89.5px"></div><div class="vl" style="left:146.3px;top:40.3px;height:74.7px"></div><div class="cell" style="left:0;top:40.3px;width:147px;height:24.9px"><span class="sx">Teoría:2</span></div><div class="cell" style="left:147px;top:40.3px;width:126px;height:24.9px"><span class="sx">Obligatorio</span></div><div class="cell" style="left:0;top:65.2px;width:147px;height:24.9px"><span class="sx">Práctica:</span></div><div class="cell" style="left:147px;top:65.2px;width:126px;height:24.9px"><span class="sx">4 CR</span></div><div class="cell" style="left:0;top:90.1px;width:147px;height:24.9px"><span class="sx">Laboratorio:4</span></div><div class="cell" style="left:147px;top:90.1px;width:126px;height:24.9px"><span class="sx">Pág</span></div></div>
<div class="cb g" style="left:2766px;top:476px;width:273px;height:92px;background:#c1cdc1"><div class="hd" style="height:20.5px"><div class="nw"><span class="sx">MA100. Matemática I</span></div></div><div class="hl" style="top:19.9px"></div><div class="hl" style="top:43.7px"></div><div class="hl" style="top:67.6px"></div><div class="vl" style="left:138.3px;top:20.5px;height:71.5px"></div><div class="cell" style="left:0;top:20.5px;width:139px;height:23.8px"><span class="sx">Teoría:2</span></div><div class="cell" style="left:139px;top:20.5px;width:134px;height:23.8px"><span class="sx">Obligatorio</span></div><div class="cell" style="left:0;top:44.3px;width:139px;height:23.8px"><span class="sx">Práctica:6</span></div><div class="cell" style="left:139px;top:44.3px;width:134px;height:23.8px"><span class="sx">5 CR</span></div><div class="cell" style="left:0;top:68.2px;width:139px;height:23.8px"><span class="sx">Laboratorio:</span></div><div class="cell" style="left:139px;top:68.2px;width:134px;height:23.8px"><span class="sx">Pág</span></div></div>
<div class="cb b" style="left:1057px;top:650px;width:272px;height:115px;background:#0000ff"><div class="hd" style="height:40.3px"><div class="nw"><span class="sx">CS1D2. Estructuras</span></div><div class="nw"><span class="sx">Discretas II</span></div></div><div class="hl" style="top:39.7px"></div><div class="hl" style="top:64.6px"></div><div class="hl" style="top:89.5px"></div><div class="vl" style="left:146.3px;top:40.3px;height:74.7px"></div><div class="cell" style="left:0;top:40.3px;width:147px;height:24.9px"><span class="sx">Teoría:2</span></div><div class="cell" style="left:147px;top:40.3px;width:125px;height:24.9px"><span class="sx">Obligatorio</span></div><div class="cell" style="left:0;top:65.2px;width:147px;height:24.9px"><span class="sx">Práctica:2</span></div><div class="cell" style="left:147px;top:65.2px;width:125px;height:24.9px"><span class="sx">4 CR</span></div><div class="cell" style="left:0;top:90.1px;width:147px;height:24.9px"><span class="sx">Laboratorio:2</span></div><div class="cell" style="left:147px;top:90.1px;width:125px;height:24.9px"><span class="sx">Pág</span></div></div>
<div class="cb b" style="left:1545px;top:650px;width:273px;height:115px;background:#0000ff"><div class="hd" style="height:40.3px"><div class="nw"><span class="sx">CS112. Ciencia de la</span></div><div class="nw"><span class="sx">Computación I</span></div></div><div class="hl" style="top:39.7px"></div><div class="hl" style="top:64.6px"></div><div class="hl" style="top:89.5px"></div><div class="vl" style="left:146.3px;top:40.3px;height:74.7px"></div><div class="cell" style="left:0;top:40.3px;width:147px;height:24.9px"><span class="sx">Teoría:2</span></div><div class="cell" style="left:147px;top:40.3px;width:126px;height:24.9px"><span class="sx">Obligatorio</span></div><div class="cell" style="left:0;top:65.2px;width:147px;height:24.9px"><span class="sx">Práctica:2</span></div><div class="cell" style="left:147px;top:65.2px;width:126px;height:24.9px"><span class="sx">5 CR</span></div><div class="cell" style="left:0;top:90.1px;width:147px;height:24.9px"><span class="sx">Laboratorio:4</span></div><div class="cell" style="left:147px;top:90.1px;width:126px;height:24.9px"><span class="sx">Pág</span></div></div>
<div class="cb g" style="left:2582px;top:662px;width:273px;height:91px;background:#c1cdc1"><div class="hd" style="height:20.5px"><div class="nw"><span class="sx">MA101. Matemática II</span></div></div><div class="hl" style="top:19.9px"></div><div class="hl" style="top:43.4px"></div><div class="hl" style="top:66.9px"></div><div class="vl" style="left:138.3px;top:20.5px;height:70.5px"></div><div class="cell" style="left:0;top:20.5px;width:139px;height:23.5px"><span class="sx">Teoría:2</span></div><div class="cell" style="left:139px;top:20.5px;width:134px;height:23.5px"><span class="sx">Obligatorio</span></div><div class="cell" style="left:0;top:44.0px;width:139px;height:23.5px"><span class="sx">Práctica:4</span></div><div class="cell" style="left:139px;top:44.0px;width:134px;height:23.5px"><span class="sx">4 CR</span></div><div class="cell" style="left:0;top:67.5px;width:139px;height:23.5px"><span class="sx">Laboratorio:</span></div><div class="cell" style="left:139px;top:67.5px;width:134px;height:23.5px"><span class="sx">Pág</span></div></div>
<div class="cb b" style="left:813px;top:836px;width:273px;height:115px;background:#0000ff"><div class="hd" style="height:40.3px"><div class="nw"><span class="sx">CS221. Arquitectura</span></div><div class="nw"><span class="sx">de Computadores</span></div></div><div class="hl" style="top:39.7px"></div><div class="hl" style="top:64.6px"></div><div class="hl" style="top:89.5px"></div><div class="vl" style="left:146.3px;top:40.3px;height:74.7px"></div><div class="cell" style="left:0;top:40.3px;width:147px;height:24.9px"><span class="sx">Teoría:2</span></div><div class="cell" style="left:147px;top:40.3px;width:126px;height:24.9px"><span class="sx">Obligatorio</span></div><div class="cell" style="left:0;top:65.2px;width:147px;height:24.9px"><span class="sx">Práctica:</span></div><div class="cell" style="left:147px;top:65.2px;width:126px;height:24.9px"><span class="sx">3 CR</span></div><div class="cell" style="left:0;top:90.1px;width:147px;height:24.9px"><span class="sx">Laboratorio:2</span></div><div class="cell" style="left:147px;top:90.1px;width:126px;height:24.9px"><span class="sx">Pág</span></div></div>
<div class="cb b" style="left:1545px;top:836px;width:273px;height:115px;background:#0000ff"><div class="hd" style="height:40.3px"><div class="nw"><span class="sx">CS113. Ciencia de la</span></div><div class="nw"><span class="sx">Computación II</span></div></div><div class="hl" style="top:39.7px"></div><div class="hl" style="top:64.6px"></div><div class="hl" style="top:89.5px"></div><div class="vl" style="left:146.3px;top:40.3px;height:74.7px"></div><div class="cell" style="left:0;top:40.3px;width:147px;height:24.9px"><span class="sx">Teoría:2</span></div><div class="cell" style="left:147px;top:40.3px;width:126px;height:24.9px"><span class="sx">Obligatorio</span></div><div class="cell" style="left:0;top:65.2px;width:147px;height:24.9px"><span class="sx">Práctica:</span></div><div class="cell" style="left:147px;top:65.2px;width:126px;height:24.9px"><span class="sx">4 CR</span></div><div class="cell" style="left:0;top:90.1px;width:147px;height:24.9px"><span class="sx">Laboratorio:4</span></div><div class="cell" style="left:147px;top:90.1px;width:126px;height:24.9px"><span class="sx">Pág</span></div></div>
<div class="cb b" style="left:1850px;top:824px;width:273px;height:138px;background:#0000ff"><div class="hd" style="height:62.0px"><div class="nw"><span class="sx">CS2B1. Desarrollo</span></div><div class="nw"><span class="sx">Basado en</span></div><div class="nw"><span class="sx">Plataformas</span></div></div><div class="hl" style="top:61.4px"></div><div class="hl" style="top:86.7px"></div><div class="hl" style="top:112.1px"></div><div class="vl" style="left:146.3px;top:62.0px;height:76.0px"></div><div class="cell" style="left:0;top:62.0px;width:147px;height:25.3px"><span class="sx">Teoría:1</span></div><div class="cell" style="left:147px;top:62.0px;width:126px;height:25.3px"><span class="sx">Obligatorio</span></div><div class="cell" style="left:0;top:87.3px;width:147px;height:25.3px"><span class="sx">Práctica:2</span></div><div class="cell" style="left:147px;top:87.3px;width:126px;height:25.3px"><span class="sx">3 CR</span></div><div class="cell" style="left:0;top:112.7px;width:147px;height:25.3px"><span class="sx">Laboratorio:2</span></div><div class="cell" style="left:147px;top:112.7px;width:126px;height:25.3px"><span class="sx">Pág</span></div></div>
<div class="cb g" style="left:2766px;top:847px;width:273px;height:93px;background:#c1cdc1"><div class="hd" style="height:20.5px"><div class="nw"><span class="sx">MA102. Cálculo I</span></div></div><div class="hl" style="top:19.9px"></div><div class="hl" style="top:44.1px"></div><div class="hl" style="top:68.2px"></div><div class="vl" style="left:138.3px;top:20.5px;height:72.5px"></div><div class="cell" style="left:0;top:20.5px;width:139px;height:24.2px"><span class="sx">Teoría:2</span></div><div class="cell" style="left:139px;top:20.5px;width:134px;height:24.2px"><span class="sx">Obligatorio</span></div><div class="cell" style="left:0;top:44.7px;width:139px;height:24.2px"><span class="sx">Práctica:4</span></div><div class="cell" style="left:139px;top:44.7px;width:134px;height:24.2px"><span class="sx">4 CR</span></div><div class="cell" style="left:0;top:68.8px;width:139px;height:24.2px"><span class="sx">Laboratorio:</span></div><div class="cell" style="left:139px;top:68.8px;width:134px;height:24.2px"><span class="sx">Pág</span></div></div>
<div class="cb b" style="left:752px;top:1033px;width:273px;height:116px;background:#0000ff"><div class="hd" style="height:40.3px"><div class="nw"><span class="sx">CS2S1. Sistemas</span></div><div class="nw"><span class="sx">Operativos</span></div></div><div class="hl" style="top:39.7px"></div><div class="hl" style="top:64.9px"></div><div class="hl" style="top:90.2px"></div><div class="vl" style="left:146.3px;top:40.3px;height:75.7px"></div><div class="cell" style="left:0;top:40.3px;width:147px;height:25.2px"><span class="sx">Teoría:2</span></div><div class="cell" style="left:147px;top:40.3px;width:126px;height:25.2px"><span class="sx">Obligatorio</span></div><div class="cell" style="left:0;top:65.5px;width:147px;height:25.2px"><span class="sx">Práctica:2</span></div><div class="cell" style="left:147px;top:65.5px;width:126px;height:25.2px"><span class="sx">4 CR</span></div><div class="cell" style="left:0;top:90.8px;width:147px;height:25.2px"><span class="sx">Laboratorio:2</span></div><div class="cell" style="left:147px;top:90.8px;width:126px;height:25.2px"><span class="sx">Pág</span></div></div>
<div class="cb b" style="left:1057px;top:1022px;width:272px;height:138px;background:#0000ff"><div class="hd" style="height:62.0px"><div class="nw"><span class="sx">CS271.</span></div><div class="nw"><span class="sx">Gerenciamiento de</span></div><div class="nw"><span class="sx">Datos I</span></div></div><div class="hl" style="top:61.4px"></div><div class="hl" style="top:86.7px"></div><div class="hl" style="top:112.1px"></div><div class="vl" style="left:146.3px;top:62.0px;height:76.0px"></div><div class="cell" style="left:0;top:62.0px;width:147px;height:25.3px"><span class="sx">Teoría:2</span></div><div class="cell" style="left:147px;top:62.0px;width:125px;height:25.3px"><span class="sx">Obligatorio</span></div><div class="cell" style="left:0;top:87.3px;width:147px;height:25.3px"><span class="sx">Práctica:</span></div><div class="cell" style="left:147px;top:87.3px;width:125px;height:25.3px"><span class="sx">4 CR</span></div><div class="cell" style="left:0;top:112.7px;width:147px;height:25.3px"><span class="sx">Laboratorio:4</span></div><div class="cell" style="left:147px;top:112.7px;width:125px;height:25.3px"><span class="sx">Pág</span></div></div>
<div class="cb b" style="left:1362px;top:1033px;width:272px;height:116px;background:#0000ff"><div class="hd" style="height:40.3px"><div class="nw"><span class="sx">CS211. Teoría de la</span></div><div class="nw"><span class="sx">Computación</span></div></div><div class="hl" style="top:39.7px"></div><div class="hl" style="top:64.9px"></div><div class="hl" style="top:90.2px"></div><div class="vl" style="left:146.3px;top:40.3px;height:75.7px"></div><div class="cell" style="left:0;top:40.3px;width:147px;height:25.2px"><span class="sx">Teoría:2</span></div><div class="cell" style="left:147px;top:40.3px;width:125px;height:25.2px"><span class="sx">Obligatorio</span></div><div class="cell" style="left:0;top:65.5px;width:147px;height:25.2px"><span class="sx">Práctica:2</span></div><div class="cell" style="left:147px;top:65.5px;width:125px;height:25.2px"><span class="sx">4 CR</span></div><div class="cell" style="left:0;top:90.8px;width:147px;height:25.2px"><span class="sx">Laboratorio:2</span></div><div class="cell" style="left:147px;top:90.8px;width:125px;height:25.2px"><span class="sx">Pág</span></div></div>
<div class="cb b" style="left:1759px;top:1033px;width:272px;height:116px;background:#0000ff"><div class="hd" style="height:40.3px"><div class="nw"><span class="sx">CS210. Algoritmos y</span></div><div class="nw"><span class="sx">Estructuras de Datos</span></div></div><div class="hl" style="top:39.7px"></div><div class="hl" style="top:64.9px"></div><div class="hl" style="top:90.2px"></div><div class="vl" style="left:146.3px;top:40.3px;height:75.7px"></div><div class="cell" style="left:0;top:40.3px;width:147px;height:25.2px"><span class="sx">Teoría:2</span></div><div class="cell" style="left:147px;top:40.3px;width:125px;height:25.2px"><span class="sx">Obligatorio</span></div><div class="cell" style="left:0;top:65.5px;width:147px;height:25.2px"><span class="sx">Práctica:2</span></div><div class="cell" style="left:147px;top:65.5px;width:125px;height:25.2px"><span class="sx">4 CR</span></div><div class="cell" style="left:0;top:90.8px;width:147px;height:25.2px"><span class="sx">Laboratorio:2</span></div><div class="cell" style="left:147px;top:90.8px;width:125px;height:25.2px"><span class="sx">Pág</span></div></div>
<div class="cb g" style="left:2614px;top:1045px;width:272px;height:92px;background:#c1cdc1"><div class="hd" style="height:20.5px"><div class="nw"><span class="sx">MA201. Cálculo II</span></div></div><div class="hl" style="top:19.9px"></div><div class="hl" style="top:43.7px"></div><div class="hl" style="top:67.6px"></div><div class="vl" style="left:138.3px;top:20.5px;height:71.5px"></div><div class="cell" style="left:0;top:20.5px;width:139px;height:23.8px"><span class="sx">Teoría:2</span></div><div class="cell" style="left:139px;top:20.5px;width:133px;height:23.8px"><span class="sx">Obligatorio</span></div><div class="cell" style="left:0;top:44.3px;width:139px;height:23.8px"><span class="sx">Práctica:4</span></div><div class="cell" style="left:139px;top:44.3px;width:133px;height:23.8px"><span class="sx">4 CR</span></div><div class="cell" style="left:0;top:68.2px;width:139px;height:23.8px"><span class="sx">Laboratorio:</span></div><div class="cell" style="left:139px;top:68.2px;width:133px;height:23.8px"><span class="sx">Pág</span></div></div>
<div class="cb g" style="left:2950px;top:1034px;width:272px;height:115px;background:#c1cdc1"><div class="hd" style="height:40.3px"><div class="nw"><span class="sx">MA203. Estadística y</span></div><div class="nw"><span class="sx">Probabilidades</span></div></div><div class="hl" style="top:39.7px"></div><div class="hl" style="top:64.6px"></div><div class="hl" style="top:89.5px"></div><div class="vl" style="left:146.3px;top:40.3px;height:74.7px"></div><div class="cell" style="left:0;top:40.3px;width:147px;height:24.9px"><span class="sx">Teoría:2</span></div><div class="cell" style="left:147px;top:40.3px;width:125px;height:24.9px"><span class="sx">Obligatorio</span></div><div class="cell" style="left:0;top:65.2px;width:147px;height:24.9px"><span class="sx">Práctica:2</span></div><div class="cell" style="left:147px;top:65.2px;width:125px;height:24.9px"><span class="sx">4 CR</span></div><div class="cell" style="left:0;top:90.1px;width:147px;height:24.9px"><span class="sx">Laboratorio:2</span></div><div class="cell" style="left:147px;top:90.1px;width:125px;height:24.9px"><span class="sx">Pág</span></div></div>
<div class="cb b" style="left:936px;top:1231px;width:273px;height:92px;background:#0000ff"><div class="hd" style="height:20.5px"><div class="nw"><span class="sx">CS272. BD II</span></div></div><div class="hl" style="top:19.9px"></div><div class="hl" style="top:43.7px"></div><div class="hl" style="top:67.6px"></div><div class="vl" style="left:146.3px;top:20.5px;height:71.5px"></div><div class="cell" style="left:0;top:20.5px;width:147px;height:23.8px"><span class="sx">Teoría:1</span></div><div class="cell" style="left:147px;top:20.5px;width:126px;height:23.8px"><span class="sx">Obligatorio</span></div><div class="cell" style="left:0;top:44.3px;width:147px;height:23.8px"><span class="sx">Práctica:2</span></div><div class="cell" style="left:147px;top:44.3px;width:126px;height:23.8px"><span class="sx">3 CR</span></div><div class="cell" style="left:0;top:68.2px;width:147px;height:23.8px"><span class="sx">Laboratorio:2</span></div><div class="cell" style="left:147px;top:68.2px;width:126px;height:23.8px"><span class="sx">Pág</span></div></div>
<div class="cb b" style="left:1240px;top:1231px;width:273px;height:92px;background:#0000ff"><div class="hd" style="height:20.5px"><div class="nw"><span class="sx">CS342. Compiladores</span></div></div><div class="hl" style="top:19.9px"></div><div class="hl" style="top:43.7px"></div><div class="hl" style="top:67.6px"></div><div class="vl" style="left:146.3px;top:20.5px;height:71.5px"></div><div class="cell" style="left:0;top:20.5px;width:147px;height:23.8px"><span class="sx">Teoría:2</span></div><div class="cell" style="left:147px;top:20.5px;width:126px;height:23.8px"><span class="sx">Obligatorio</span></div><div class="cell" style="left:0;top:44.3px;width:147px;height:23.8px"><span class="sx">Práctica:2</span></div><div class="cell" style="left:147px;top:44.3px;width:126px;height:23.8px"><span class="sx">4 CR</span></div><div class="cell" style="left:0;top:68.2px;width:147px;height:23.8px"><span class="sx">Laboratorio:2</span></div><div class="cell" style="left:147px;top:68.2px;width:126px;height:23.8px"><span class="sx">Pág</span></div></div>
<div class="cb b" style="left:1545px;top:1219px;width:273px;height:116px;background:#0000ff"><div class="hd" style="height:40.3px"><div class="nw"><span class="sx">CS291. Ingeniería de</span></div><div class="nw"><span class="sx">Software I</span></div></div><div class="hl" style="top:39.7px"></div><div class="hl" style="top:64.9px"></div><div class="hl" style="top:90.2px"></div><div class="vl" style="left:146.3px;top:40.3px;height:75.7px"></div><div class="cell" style="left:0;top:40.3px;width:147px;height:25.2px"><span class="sx">Teoría:2</span></div><div class="cell" style="left:147px;top:40.3px;width:126px;height:25.2px"><span class="sx">Obligatorio</span></div><div class="cell" style="left:0;top:65.5px;width:147px;height:25.2px"><span class="sx">Práctica:2</span></div><div class="cell" style="left:147px;top:65.5px;width:126px;height:25.2px"><span class="sx">4 CR</span></div><div class="cell" style="left:0;top:90.8px;width:147px;height:25.2px"><span class="sx">Laboratorio:2</span></div><div class="cell" style="left:147px;top:90.8px;width:126px;height:25.2px"><span class="sx">Pág</span></div></div>
<div class="cb b" style="left:1850px;top:1231px;width:272px;height:92px;background:#0000ff"><div class="hd" style="height:20.5px"><div class="nw"><span class="sx">CS212. ADA</span></div></div><div class="hl" style="top:19.9px"></div><div class="hl" style="top:43.7px"></div><div class="hl" style="top:67.6px"></div><div class="vl" style="left:146.3px;top:20.5px;height:71.5px"></div><div class="cell" style="left:0;top:20.5px;width:147px;height:23.8px"><span class="sx">Teoría:2</span></div><div class="cell" style="left:147px;top:20.5px;width:125px;height:23.8px"><span class="sx">Obligatorio</span></div><div class="cell" style="left:0;top:44.3px;width:147px;height:23.8px"><span class="sx">Práctica:2</span></div><div class="cell" style="left:147px;top:44.3px;width:125px;height:23.8px"><span class="sx">4 CR</span></div><div class="cell" style="left:0;top:68.2px;width:147px;height:23.8px"><span class="sx">Laboratorio:2</span></div><div class="cell" style="left:147px;top:68.2px;width:125px;height:23.8px"><span class="sx">Pág</span></div></div>
<div class="cb b" style="left:752px;top:1405px;width:273px;height:116px;background:#0000ff"><div class="hd" style="height:40.3px"><div class="nw"><span class="sx">CS231. Redes y</span></div><div class="nw"><span class="sx">Comunicación</span></div></div><div class="hl" style="top:39.7px"></div><div class="hl" style="top:64.9px"></div><div class="hl" style="top:90.2px"></div><div class="vl" style="left:146.3px;top:40.3px;height:75.7px"></div><div class="cell" style="left:0;top:40.3px;width:147px;height:25.2px"><span class="sx">Teoría:1</span></div><div class="cell" style="left:147px;top:40.3px;width:126px;height:25.2px"><span class="sx">Obligatorio</span></div><div class="cell" style="left:0;top:65.5px;width:147px;height:25.2px"><span class="sx">Práctica:2</span></div><div class="cell" style="left:147px;top:65.5px;width:126px;height:25.2px"><span class="sx">3 CR</span></div><div class="cell" style="left:0;top:90.8px;width:147px;height:25.2px"><span class="sx">Laboratorio:2</span></div><div class="cell" style="left:147px;top:90.8px;width:126px;height:25.2px"><span class="sx">Pág</span></div></div>
<div class="cb b" style="left:1178px;top:1405px;width:272px;height:116px;background:#0000ff"><div class="hd" style="height:40.3px"><div class="nw"><span class="sx">CS393. Sistemas de</span></div><div class="nw"><span class="sx">Infomación</span></div></div><div class="hl" style="top:39.7px"></div><div class="hl" style="top:64.9px"></div><div class="hl" style="top:90.2px"></div><div class="vl" style="left:146.3px;top:40.3px;height:75.7px"></div><div class="cell" style="left:0;top:40.3px;width:147px;height:25.2px"><span class="sx">Teoría:2</span></div><div class="cell" style="left:147px;top:40.3px;width:125px;height:25.2px"><span class="sx">Obligatorio</span></div><div class="cell" style="left:0;top:65.5px;width:147px;height:25.2px"><span class="sx">Práctica:2</span></div><div class="cell" style="left:147px;top:65.5px;width:125px;height:25.2px"><span class="sx">4 CR</span></div><div class="cell" style="left:0;top:90.8px;width:147px;height:25.2px"><span class="sx">Laboratorio:2</span></div><div class="cell" style="left:147px;top:90.8px;width:125px;height:25.2px"><span class="sx">Pág</span></div></div>
<div class="cb b" style="left:1482px;top:1405px;width:273px;height:116px;background:#0000ff"><div class="hd" style="height:40.3px"><div class="nw"><span class="sx">CS292. Ingeniería de</span></div><div class="nw"><span class="sx">Software II</span></div></div><div class="hl" style="top:39.7px"></div><div class="hl" style="top:64.9px"></div><div class="hl" style="top:90.2px"></div><div class="vl" style="left:146.3px;top:40.3px;height:75.7px"></div><div class="cell" style="left:0;top:40.3px;width:147px;height:25.2px"><span class="sx">Teoría:2</span></div><div class="cell" style="left:147px;top:40.3px;width:126px;height:25.2px"><span class="sx">Obligatorio</span></div><div class="cell" style="left:0;top:65.5px;width:147px;height:25.2px"><span class="sx">Práctica:2</span></div><div class="cell" style="left:147px;top:65.5px;width:126px;height:25.2px"><span class="sx">4 CR</span></div><div class="cell" style="left:0;top:90.8px;width:147px;height:25.2px"><span class="sx">Laboratorio:2</span></div><div class="cell" style="left:147px;top:90.8px;width:126px;height:25.2px"><span class="sx">Pág</span></div></div>
<div class="cb b" style="left:1850px;top:1405px;width:272px;height:116px;background:#0000ff"><div class="hd" style="height:40.3px"><div class="nw"><span class="sx">CS311. Programación</span></div><div class="nw"><span class="sx">Competitiva</span></div></div><div class="hl" style="top:39.7px"></div><div class="hl" style="top:64.9px"></div><div class="hl" style="top:90.2px"></div><div class="vl" style="left:146.3px;top:40.3px;height:75.7px"></div><div class="cell" style="left:0;top:40.3px;width:147px;height:25.2px"><span class="sx">Teoría:2</span></div><div class="cell" style="left:147px;top:40.3px;width:125px;height:25.2px"><span class="sx">Obligatorio</span></div><div class="cell" style="left:0;top:65.5px;width:147px;height:25.2px"><span class="sx">Práctica:2</span></div><div class="cell" style="left:147px;top:65.5px;width:125px;height:25.2px"><span class="sx">4 CR</span></div><div class="cell" style="left:0;top:90.8px;width:147px;height:25.2px"><span class="sx">Laboratorio:2</span></div><div class="cell" style="left:147px;top:90.8px;width:125px;height:25.2px"><span class="sx">Pág</span></div></div>
<div class="cb b" style="left:2218px;top:1405px;width:272px;height:115px;background:#0000ff"><div class="hd" style="height:40.3px"><div class="nw"><span class="sx">CS312. Estructuras</span></div><div class="nw"><span class="sx">de Datos Avanzadas</span></div></div><div class="hl" style="top:39.7px"></div><div class="hl" style="top:64.6px"></div><div class="hl" style="top:89.5px"></div><div class="vl" style="left:146.3px;top:40.3px;height:74.7px"></div><div class="cell" style="left:0;top:40.3px;width:147px;height:24.9px"><span class="sx">Teoría:2</span></div><div class="cell" style="left:147px;top:40.3px;width:125px;height:24.9px"><span class="sx">Obligatorio</span></div><div class="cell" style="left:0;top:65.2px;width:147px;height:24.9px"><span class="sx">Práctica:2</span></div><div class="cell" style="left:147px;top:65.2px;width:125px;height:24.9px"><span class="sx">4 CR</span></div><div class="cell" style="left:0;top:90.1px;width:147px;height:24.9px"><span class="sx">Laboratorio:2</span></div><div class="cell" style="left:147px;top:90.1px;width:125px;height:24.9px"><span class="sx">Pág</span></div></div>
<div class="cb g" style="left:2614px;top:1394px;width:272px;height:138px;background:#c1cdc1"><div class="hd" style="height:62.0px"><div class="nw"><span class="sx">MA307. Matemática</span></div><div class="nw"><span class="sx">aplicada a la</span></div><div class="nw"><span class="sx">computación</span></div></div><div class="hl" style="top:61.4px"></div><div class="hl" style="top:86.7px"></div><div class="hl" style="top:112.1px"></div><div class="vl" style="left:146.3px;top:62.0px;height:76.0px"></div><div class="cell" style="left:0;top:62.0px;width:147px;height:25.3px"><span class="sx">Teoría:2</span></div><div class="cell" style="left:147px;top:62.0px;width:125px;height:25.3px"><span class="sx">Obligatorio</span></div><div class="cell" style="left:0;top:87.3px;width:147px;height:25.3px"><span class="sx">Práctica:2</span></div><div class="cell" style="left:147px;top:87.3px;width:125px;height:25.3px"><span class="sx">4 CR</span></div><div class="cell" style="left:0;top:112.7px;width:147px;height:25.3px"><span class="sx">Laboratorio:2</span></div><div class="cell" style="left:147px;top:112.7px;width:125px;height:25.3px"><span class="sx">Pág</span></div></div>
<div class="cb b" style="left:2950px;top:1405px;width:272px;height:115px;background:#0000ff"><div class="hd" style="height:40.3px"><div class="nw"><span class="sx">CS261. Inteligencia</span></div><div class="nw"><span class="sx">Artificial</span></div></div><div class="hl" style="top:39.7px"></div><div class="hl" style="top:64.6px"></div><div class="hl" style="top:89.5px"></div><div class="vl" style="left:146.3px;top:40.3px;height:74.7px"></div><div class="cell" style="left:0;top:40.3px;width:147px;height:24.9px"><span class="sx">Teoría:2</span></div><div class="cell" style="left:147px;top:40.3px;width:125px;height:24.9px"><span class="sx">Obligatorio</span></div><div class="cell" style="left:0;top:65.2px;width:147px;height:24.9px"><span class="sx">Práctica:2</span></div><div class="cell" style="left:147px;top:65.2px;width:125px;height:24.9px"><span class="sx">4 CR</span></div><div class="cell" style="left:0;top:90.1px;width:147px;height:24.9px"><span class="sx">Laboratorio:2</span></div><div class="cell" style="left:147px;top:90.1px;width:125px;height:24.9px"><span class="sx">Pág</span></div></div>
<div class="cb b" style="left:596px;top:1615px;width:273px;height:116px;background:#0000ff"><div class="hd" style="height:40.3px"><div class="nw"><span class="sx">CS3I1. Seguridad en</span></div><div class="nw"><span class="sx">Computación</span></div></div><div class="hl" style="top:39.7px"></div><div class="hl" style="top:64.9px"></div><div class="hl" style="top:90.2px"></div><div class="vl" style="left:146.3px;top:40.3px;height:75.7px"></div><div class="cell" style="left:0;top:40.3px;width:147px;height:25.2px"><span class="sx">Teoría:1</span></div><div class="cell" style="left:147px;top:40.3px;width:126px;height:25.2px"><span class="sx">Obligatorio</span></div><div class="cell" style="left:0;top:65.5px;width:147px;height:25.2px"><span class="sx">Práctica:2</span></div><div class="cell" style="left:147px;top:65.5px;width:126px;height:25.2px"><span class="sx">3 CR</span></div><div class="cell" style="left:0;top:90.8px;width:147px;height:25.2px"><span class="sx">Laboratorio:2</span></div><div class="cell" style="left:147px;top:90.8px;width:126px;height:25.2px"><span class="sx">Pág</span></div></div>
<div class="cb b" style="left:1178px;top:1615px;width:272px;height:116px;background:#0000ff"><div class="hd" style="height:40.3px"><div class="nw"><span class="sx">CS2H1. Experiencia</span></div><div class="nw"><span class="sx">de Usuario (UX)</span></div></div><div class="hl" style="top:39.7px"></div><div class="hl" style="top:64.9px"></div><div class="hl" style="top:90.2px"></div><div class="vl" style="left:146.3px;top:40.3px;height:75.7px"></div><div class="cell" style="left:0;top:40.3px;width:147px;height:25.2px"><span class="sx">Teoría:1</span></div><div class="cell" style="left:147px;top:40.3px;width:125px;height:25.2px"><span class="sx">Obligatorio</span></div><div class="cell" style="left:0;top:65.5px;width:147px;height:25.2px"><span class="sx">Práctica:</span></div><div class="cell" style="left:147px;top:65.5px;width:125px;height:25.2px"><span class="sx">3 CR</span></div><div class="cell" style="left:0;top:90.8px;width:147px;height:25.2px"><span class="sx">Laboratorio:4</span></div><div class="cell" style="left:147px;top:90.8px;width:125px;height:25.2px"><span class="sx">Pág</span></div></div>
<div class="cb b" style="left:1482px;top:1615px;width:273px;height:116px;background:#0000ff"><div class="hd" style="height:40.3px"><div class="nw"><span class="sx">CS391. Ingeniería de</span></div><div class="nw"><span class="sx">Software III</span></div></div><div class="hl" style="top:39.7px"></div><div class="hl" style="top:64.9px"></div><div class="hl" style="top:90.2px"></div><div class="vl" style="left:138.3px;top:40.3px;height:75.7px"></div><div class="cell" style="left:0;top:40.3px;width:139px;height:25.2px"><span class="sx">Teoría:2</span></div><div class="cell" style="left:139px;top:40.3px;width:134px;height:25.2px"><span class="sx">Obligatorio</span></div><div class="cell" style="left:0;top:65.5px;width:139px;height:25.2px"><span class="sx">Práctica:2</span></div><div class="cell" style="left:139px;top:65.5px;width:134px;height:25.2px"><span class="sx">3 CR</span></div><div class="cell" style="left:0;top:90.8px;width:139px;height:25.2px"><span class="sx">Laboratorio:</span></div><div class="cell" style="left:139px;top:90.8px;width:134px;height:25.2px"><span class="sx">Pág</span></div></div>
<div class="cb b" style="left:2218px;top:1615px;width:272px;height:116px;background:#0000ff"><div class="hd" style="height:40.3px"><div class="nw"><span class="sx">CS251. Computación</span></div><div class="nw"><span class="sx">Gráfica</span></div></div><div class="hl" style="top:39.7px"></div><div class="hl" style="top:64.9px"></div><div class="hl" style="top:90.2px"></div><div class="vl" style="left:159.3px;top:40.3px;height:75.7px"></div><div class="cell" style="left:0;top:40.3px;width:160px;height:25.2px"><span class="sx">Teoría:2</span></div><div class="cell" style="left:160px;top:40.3px;width:112px;height:25.2px"><span class="sx">Electivo</span></div><div class="cell" style="left:0;top:65.5px;width:160px;height:25.2px"><span class="sx">Práctica:2</span></div><div class="cell" style="left:160px;top:65.5px;width:112px;height:25.2px"><span class="sx">4 CR</span></div><div class="cell" style="left:0;top:90.8px;width:160px;height:25.2px"><span class="sx">Laboratorio:2</span></div><div class="cell" style="left:160px;top:90.8px;width:112px;height:25.2px"><span class="sx">Pág</span></div></div>
<div class="cb b" style="left:2522px;top:1615px;width:273px;height:116px;background:#0000ff"><div class="hd" style="height:40.3px"><div class="nw"><span class="sx">CS262. Aprendizaje</span></div><div class="nw"><span class="sx">Automático</span></div></div><div class="hl" style="top:39.7px"></div><div class="hl" style="top:64.9px"></div><div class="hl" style="top:90.2px"></div><div class="vl" style="left:159.3px;top:40.3px;height:75.7px"></div><div class="cell" style="left:0;top:40.3px;width:160px;height:25.2px"><span class="sx">Teoría:2</span></div><div class="cell" style="left:160px;top:40.3px;width:113px;height:25.2px"><span class="sx">Electivo</span></div><div class="cell" style="left:0;top:65.5px;width:160px;height:25.2px"><span class="sx">Práctica:2</span></div><div class="cell" style="left:160px;top:65.5px;width:113px;height:25.2px"><span class="sx">4 CR</span></div><div class="cell" style="left:0;top:90.8px;width:160px;height:25.2px"><span class="sx">Laboratorio:2</span></div><div class="cell" style="left:160px;top:90.8px;width:113px;height:25.2px"><span class="sx">Pág</span></div></div>
<div class="cb b" style="left:781px;top:1786px;width:272px;height:138px;background:#0000ff"><div class="hd" style="height:62.0px"><div class="nw"><span class="sx">CS3P1. Computación</span></div><div class="nw"><span class="sx">Paralela y</span></div><div class="nw"><span class="sx">Distribuída</span></div></div><div class="hl" style="top:61.4px"></div><div class="hl" style="top:86.7px"></div><div class="hl" style="top:112.1px"></div><div class="vl" style="left:146.3px;top:62.0px;height:76.0px"></div><div class="cell" style="left:0;top:62.0px;width:147px;height:25.3px"><span class="sx">Teoría:2</span></div><div class="cell" style="left:147px;top:62.0px;width:125px;height:25.3px"><span class="sx">Obligatorio</span></div><div class="cell" style="left:0;top:87.3px;width:147px;height:25.3px"><span class="sx">Práctica:2</span></div><div class="cell" style="left:147px;top:87.3px;width:125px;height:25.3px"><span class="sx">4 CR</span></div><div class="cell" style="left:0;top:112.7px;width:147px;height:25.3px"><span class="sx">Laboratorio:2</span></div><div class="cell" style="left:147px;top:112.7px;width:125px;height:25.3px"><span class="sx">Pág</span></div></div>
<div class="cb b" style="left:2413px;top:1798px;width:272px;height:114px;background:#0000ff"><div class="hd" style="height:40.3px"><div class="nw"><span class="sx">CS361. Visión</span></div><div class="nw"><span class="sx">Computacional</span></div></div><div class="hl" style="top:39.7px"></div><div class="hl" style="top:64.3px"></div><div class="hl" style="top:88.8px"></div><div class="vl" style="left:159.3px;top:40.3px;height:73.7px"></div><div class="cell" style="left:0;top:40.3px;width:160px;height:24.6px"><span class="sx">Teoría:2</span></div><div class="cell" style="left:160px;top:40.3px;width:112px;height:24.6px"><span class="sx">Electivo</span></div><div class="cell" style="left:0;top:64.9px;width:160px;height:24.6px"><span class="sx">Práctica:2</span></div><div class="cell" style="left:160px;top:64.9px;width:112px;height:24.6px"><span class="sx">4 CR</span></div><div class="cell" style="left:0;top:89.4px;width:160px;height:24.6px"><span class="sx">Laboratorio:2</span></div><div class="cell" style="left:160px;top:89.4px;width:112px;height:24.6px"><span class="sx">Pág</span></div></div>
<div class="cb b" style="left:3168px;top:1798px;width:273px;height:114px;background:#0000ff"><div class="hd" style="height:40.3px"><div class="nw"><span class="sx">CS281. Computación</span></div><div class="nw"><span class="sx">en la Sociedad</span></div></div><div class="hl" style="top:39.7px"></div><div class="hl" style="top:64.3px"></div><div class="hl" style="top:88.8px"></div><div class="vl" style="left:138.3px;top:40.3px;height:73.7px"></div><div class="cell" style="left:0;top:40.3px;width:139px;height:24.6px"><span class="sx">Teoría:2</span></div><div class="cell" style="left:139px;top:40.3px;width:134px;height:24.6px"><span class="sx">Obligatorio</span></div><div class="cell" style="left:0;top:64.9px;width:139px;height:24.6px"><span class="sx">Práctica:</span></div><div class="cell" style="left:139px;top:64.9px;width:134px;height:24.6px"><span class="sx">2 CR</span></div><div class="cell" style="left:0;top:89.4px;width:139px;height:24.6px"><span class="sx">Laboratorio:</span></div><div class="cell" style="left:139px;top:89.4px;width:134px;height:24.6px"><span class="sx">Pág</span></div></div>
<div class="cb b" style="left:964px;top:2066px;width:273px;height:92px;background:#0000ff"><div class="hd" style="height:20.5px"><div class="nw"><span class="sx">CS370. Big Data</span></div></div><div class="hl" style="top:19.9px"></div><div class="hl" style="top:43.7px"></div><div class="hl" style="top:67.6px"></div><div class="vl" style="left:146.3px;top:20.5px;height:71.5px"></div><div class="cell" style="left:0;top:20.5px;width:147px;height:23.8px"><span class="sx">Teoría:1</span></div><div class="cell" style="left:147px;top:20.5px;width:126px;height:23.8px"><span class="sx">Obligatorio</span></div><div class="cell" style="left:0;top:44.3px;width:147px;height:23.8px"><span class="sx">Práctica:2</span></div><div class="cell" style="left:147px;top:44.3px;width:126px;height:23.8px"><span class="sx">3 CR</span></div><div class="cell" style="left:0;top:68.2px;width:147px;height:23.8px"><span class="sx">Laboratorio:2</span></div><div class="cell" style="left:147px;top:68.2px;width:126px;height:23.8px"><span class="sx">Pág</span></div></div>
<div class="cb b" style="left:1781px;top:2043px;width:272px;height:138px;background:#0000ff"><div class="hd" style="height:62.0px"><div class="nw"><span class="sx">CS392. Tópicos en</span></div><div class="nw"><span class="sx">Ingeniería de</span></div><div class="nw"><span class="sx">Software</span></div></div><div class="hl" style="top:61.4px"></div><div class="hl" style="top:86.7px"></div><div class="hl" style="top:112.1px"></div><div class="vl" style="left:159.3px;top:62.0px;height:76.0px"></div><div class="cell" style="left:0;top:62.0px;width:160px;height:25.3px"><span class="sx">Teoría:2</span></div><div class="cell" style="left:160px;top:62.0px;width:112px;height:25.3px"><span class="sx">Electivo</span></div><div class="cell" style="left:0;top:87.3px;width:160px;height:25.3px"><span class="sx">Práctica:2</span></div><div class="cell" style="left:160px;top:87.3px;width:112px;height:25.3px"><span class="sx">4 CR</span></div><div class="cell" style="left:0;top:112.7px;width:160px;height:25.3px"><span class="sx">Laboratorio:2</span></div><div class="cell" style="left:160px;top:112.7px;width:112px;height:25.3px"><span class="sx">Pág</span></div></div>
<div class="cb b" style="left:2085px;top:2055px;width:273px;height:115px;background:#0000ff"><div class="hd" style="height:40.3px"><div class="nw"><span class="sx">CS351. Tópicos en</span></div><div class="nw"><span class="sx">Computación Gráfica</span></div></div><div class="hl" style="top:39.7px"></div><div class="hl" style="top:64.6px"></div><div class="hl" style="top:89.5px"></div><div class="vl" style="left:159.3px;top:40.3px;height:74.7px"></div><div class="cell" style="left:0;top:40.3px;width:160px;height:24.9px"><span class="sx">Teoría:2</span></div><div class="cell" style="left:160px;top:40.3px;width:113px;height:24.9px"><span class="sx">Electivo</span></div><div class="cell" style="left:0;top:65.2px;width:160px;height:24.9px"><span class="sx">Práctica:2</span></div><div class="cell" style="left:160px;top:65.2px;width:113px;height:24.9px"><span class="sx">4 CR</span></div><div class="cell" style="left:0;top:90.1px;width:160px;height:24.9px"><span class="sx">Laboratorio:2</span></div><div class="cell" style="left:160px;top:90.1px;width:113px;height:24.9px"><span class="sx">Pág</span></div></div>
<div class="cb b" style="left:2688px;top:2055px;width:273px;height:115px;background:#0000ff"><div class="hd" style="height:40.3px"><div class="nw"><span class="sx">CB309.</span></div><div class="nw"><span class="sx">Bioinformática</span></div></div><div class="hl" style="top:39.7px"></div><div class="hl" style="top:64.6px"></div><div class="hl" style="top:89.5px"></div><div class="vl" style="left:146.3px;top:40.3px;height:74.7px"></div><div class="cell" style="left:0;top:40.3px;width:147px;height:24.9px"><span class="sx">Teoría:1</span></div><div class="cell" style="left:147px;top:40.3px;width:126px;height:24.9px"><span class="sx">Obligatorio</span></div><div class="cell" style="left:0;top:65.2px;width:147px;height:24.9px"><span class="sx">Práctica:</span></div><div class="cell" style="left:147px;top:65.2px;width:126px;height:24.9px"><span class="sx">2 CR</span></div><div class="cell" style="left:0;top:90.1px;width:147px;height:24.9px"><span class="sx">Laboratorio:2</span></div><div class="cell" style="left:147px;top:90.1px;width:126px;height:24.9px"><span class="sx">Pág</span></div></div>
<div class="cb b" style="left:3003px;top:2043px;width:273px;height:138px;background:#0000ff"><div class="hd" style="height:62.0px"><div class="nw"><span class="sx">CS369. Tópicos en</span></div><div class="nw"><span class="sx">Inteligencia</span></div><div class="nw"><span class="sx">Artificial</span></div></div><div class="hl" style="top:61.4px"></div><div class="hl" style="top:86.7px"></div><div class="hl" style="top:112.1px"></div><div class="vl" style="left:159.3px;top:62.0px;height:76.0px"></div><div class="cell" style="left:0;top:62.0px;width:160px;height:25.3px"><span class="sx">Teoría:2</span></div><div class="cell" style="left:160px;top:62.0px;width:113px;height:25.3px"><span class="sx">Electivo</span></div><div class="cell" style="left:0;top:87.3px;width:160px;height:25.3px"><span class="sx">Práctica:2</span></div><div class="cell" style="left:160px;top:87.3px;width:113px;height:25.3px"><span class="sx">4 CR</span></div><div class="cell" style="left:0;top:112.7px;width:160px;height:25.3px"><span class="sx">Laboratorio:2</span></div><div class="cell" style="left:160px;top:112.7px;width:113px;height:25.3px"><span class="sx">Pág</span></div></div>
<div class="cb b" style="left:692px;top:2247px;width:273px;height:115px;background:#0000ff"><div class="hd" style="height:40.3px"><div class="nw"><span class="sx">CS3P3. Internet de</span></div><div class="nw"><span class="sx">las Cosas</span></div></div><div class="hl" style="top:39.7px"></div><div class="hl" style="top:64.6px"></div><div class="hl" style="top:89.5px"></div><div class="vl" style="left:146.3px;top:40.3px;height:74.7px"></div><div class="cell" style="left:0;top:40.3px;width:147px;height:24.9px"><span class="sx">Teoría:1</span></div><div class="cell" style="left:147px;top:40.3px;width:126px;height:24.9px"><span class="sx">Obligatorio</span></div><div class="cell" style="left:0;top:65.2px;width:147px;height:24.9px"><span class="sx">Práctica:2</span></div><div class="cell" style="left:147px;top:65.2px;width:126px;height:24.9px"><span class="sx">3 CR</span></div><div class="cell" style="left:0;top:90.1px;width:147px;height:24.9px"><span class="sx">Laboratorio:2</span></div><div class="cell" style="left:147px;top:90.1px;width:126px;height:24.9px"><span class="sx">Pág</span></div></div>
<div class="cb b" style="left:997px;top:2247px;width:273px;height:115px;background:#0000ff"><div class="hd" style="height:40.3px"><div class="nw"><span class="sx">CS3P2. Cloud</span></div><div class="nw"><span class="sx">Computing</span></div></div><div class="hl" style="top:39.7px"></div><div class="hl" style="top:64.6px"></div><div class="hl" style="top:89.5px"></div><div class="vl" style="left:146.3px;top:40.3px;height:74.7px"></div><div class="cell" style="left:0;top:40.3px;width:147px;height:24.9px"><span class="sx">Teoría:1</span></div><div class="cell" style="left:147px;top:40.3px;width:126px;height:24.9px"><span class="sx">Obligatorio</span></div><div class="cell" style="left:0;top:65.2px;width:147px;height:24.9px"><span class="sx">Práctica:2</span></div><div class="cell" style="left:147px;top:65.2px;width:126px;height:24.9px"><span class="sx">3 CR</span></div><div class="cell" style="left:0;top:90.1px;width:147px;height:24.9px"><span class="sx">Laboratorio:2</span></div><div class="cell" style="left:147px;top:90.1px;width:126px;height:24.9px"><span class="sx">Pág</span></div></div>
<div class="cb b" style="left:2505px;top:2247px;width:272px;height:115px;background:#0000ff"><div class="hd" style="height:40.3px"><div class="nw"><span class="sx">CS365. Computación</span></div><div class="nw"><span class="sx">Evolutiva</span></div></div><div class="hl" style="top:39.7px"></div><div class="hl" style="top:64.6px"></div><div class="hl" style="top:89.5px"></div><div class="vl" style="left:146.3px;top:40.3px;height:74.7px"></div><div class="cell" style="left:0;top:40.3px;width:147px;height:24.9px"><span class="sx">Teoría:2</span></div><div class="cell" style="left:147px;top:40.3px;width:125px;height:24.9px"><span class="sx">Obligatorio</span></div><div class="cell" style="left:0;top:65.2px;width:147px;height:24.9px"><span class="sx">Práctica:2</span></div><div class="cell" style="left:147px;top:65.2px;width:125px;height:24.9px"><span class="sx">4 CR</span></div><div class="cell" style="left:0;top:90.1px;width:147px;height:24.9px"><span class="sx">Laboratorio:2</span></div><div class="cell" style="left:147px;top:90.1px;width:125px;height:24.9px"><span class="sx">Pág</span></div></div>
<div class="cb v" style="left:2809px;top:2247px;width:273px;height:115px;background:#66cd00"><div class="hd" style="height:40.3px"><div class="nw"><span class="sx">FG211. Ética</span></div><div class="nw"><span class="sx">Profesional</span></div></div><div class="hl" style="top:39.7px"></div><div class="hl" style="top:64.6px"></div><div class="hl" style="top:89.5px"></div><div class="vl" style="left:138.3px;top:40.3px;height:74.7px"></div><div class="cell" style="left:0;top:40.3px;width:139px;height:24.9px"><span class="sx">Teoría:2</span></div><div class="cell" style="left:139px;top:40.3px;width:134px;height:24.9px"><span class="sx">Obligatorio</span></div><div class="cell" style="left:0;top:65.2px;width:139px;height:24.9px"><span class="sx">Práctica:2</span></div><div class="cell" style="left:139px;top:65.2px;width:134px;height:24.9px"><span class="sx">3 CR</span></div><div class="cell" style="left:0;top:90.1px;width:139px;height:24.9px"><span class="sx">Laboratorio:</span></div><div class="cell" style="left:139px;top:90.1px;width:134px;height:24.9px"><span class="sx">Pág</span></div></div>
<div class="clab" style="left:2507px;top:1593px">Electivos</div>
<div class="clab" style="left:2550px;top:1775px">Electivos</div>
<div class="clab" style="left:2069px;top:2020px">Electivos</div>
<div class="clab" style="left:3139px;top:1984px">Track AI</div>
<div class="clab" style="left:3139px;top:2020px">Electivos</div>
<div class="cam" style="left:1683px;top:614px">Camino crítico</div>
<div class="cam" style="left:1683px;top:788px">Camino crítico</div>
<div class="cam" style="left:1796px;top:986px">Camino crítico</div>
<div class="cam" style="left:1948px;top:1184px">Camino crítico</div>
<div class="cam" style="left:2223px;top:1357px">Camino crítico</div>
<div class="cam" style="left:1827px;top:1556px">Camino crítico</div>
<div class="cam" style="left:2356px;top:1556px">Camino crítico</div>
<div class="cam" style="left:2258px;top:1849px">Camino crítico</div>
<div class="cam" style="left:942px;top:1948px">Camino crítico</div>
<div class="cam" style="left:1121px;top:2211px">Camino crítico</div>
<div class="ab" style="left:2285px;top:2504px;width:4px;height:288px;background:#000"></div>
<div class="ab" style="left:42px;top:2788px;width:2247px;height:4px;background:#000"></div>
<div class="ab" style="left:38px;top:2500px;width:2247px;height:288px;border:1px solid #777;background:#fff"></div>
<div class="ab" style="left:66px;top:2600px;width:2191.0px;height:21px;background:#cbcbcb"></div>
<div class="ab" style="left:66px;top:2642px;width:2191.0px;height:21px;background:#cbcbcb"></div>
<div class="ab" style="left:66px;top:2684px;width:2191.0px;height:21px;background:#cbcbcb"></div>
<div class="ab" style="left:66px;top:2726px;width:2191.0px;height:42px;background:#cbcbcb"></div>
<div class="ab" style="left:1107.7px;top:2540.5px;width:24.5px;height:59.5px;background:#d4d4d4"></div>
<div class="ab" style="left:1107.7px;top:2621px;width:24.5px;height:21px;background:#d4d4d4"></div>
<div class="ab" style="left:1107.7px;top:2663px;width:24.5px;height:21px;background:#d4d4d4"></div>
<div class="ab" style="left:1107.7px;top:2705px;width:24.5px;height:21px;background:#d4d4d4"></div>
<div class="ab" style="left:1156.7px;top:2540.5px;width:24.5px;height:59.5px;background:#d4d4d4"></div>
<div class="ab" style="left:1156.7px;top:2621px;width:24.5px;height:21px;background:#d4d4d4"></div>
<div class="ab" style="left:1156.7px;top:2663px;width:24.5px;height:21px;background:#d4d4d4"></div>
<div class="ab" style="left:1156.7px;top:2705px;width:24.5px;height:21px;background:#d4d4d4"></div>
<div class="ab" style="left:1205.7px;top:2540.5px;width:24.5px;height:59.5px;background:#d4d4d4"></div>
<div class="ab" style="left:1205.7px;top:2621px;width:24.5px;height:21px;background:#d4d4d4"></div>
<div class="ab" style="left:1205.7px;top:2663px;width:24.5px;height:21px;background:#d4d4d4"></div>
<div class="ab" style="left:1205.7px;top:2705px;width:24.5px;height:21px;background:#d4d4d4"></div>
<div class="ab" style="left:1254.7px;top:2540.5px;width:52.4px;height:59.5px;background:#d4d4d4"></div>
<div class="ab" style="left:1254.7px;top:2621px;width:52.4px;height:21px;background:#d4d4d4"></div>
<div class="ab" style="left:1254.7px;top:2663px;width:52.4px;height:21px;background:#d4d4d4"></div>
<div class="ab" style="left:1254.7px;top:2705px;width:52.4px;height:21px;background:#d4d4d4"></div>
<div class="ab" style="left:1331.6px;top:2540.5px;width:24.5px;height:59.5px;background:#d4d4d4"></div>
<div class="ab" style="left:1331.6px;top:2621px;width:24.5px;height:21px;background:#d4d4d4"></div>
<div class="ab" style="left:1331.6px;top:2663px;width:24.5px;height:21px;background:#d4d4d4"></div>
<div class="ab" style="left:1331.6px;top:2705px;width:24.5px;height:21px;background:#d4d4d4"></div>
<div class="ab" style="left:1380.6px;top:2540.5px;width:24.5px;height:59.5px;background:#d4d4d4"></div>
<div class="ab" style="left:1380.6px;top:2621px;width:24.5px;height:21px;background:#d4d4d4"></div>
<div class="ab" style="left:1380.6px;top:2663px;width:24.5px;height:21px;background:#d4d4d4"></div>
<div class="ab" style="left:1380.6px;top:2705px;width:24.5px;height:21px;background:#d4d4d4"></div>
<div class="ab" style="left:1429.6px;top:2540.5px;width:24.5px;height:59.5px;background:#d4d4d4"></div>
<div class="ab" style="left:1429.6px;top:2621px;width:24.5px;height:21px;background:#d4d4d4"></div>
<div class="ab" style="left:1429.6px;top:2663px;width:24.5px;height:21px;background:#d4d4d4"></div>
<div class="ab" style="left:1429.6px;top:2705px;width:24.5px;height:21px;background:#d4d4d4"></div>
<div class="ab" style="left:1478.6px;top:2540.5px;width:24.5px;height:59.5px;background:#d4d4d4"></div>
<div class="ab" style="left:1478.6px;top:2621px;width:24.5px;height:21px;background:#d4d4d4"></div>
<div class="ab" style="left:1478.6px;top:2663px;width:24.5px;height:21px;background:#d4d4d4"></div>
<div class="ab" style="left:1478.6px;top:2705px;width:24.5px;height:21px;background:#d4d4d4"></div>
<div class="ab" style="left:1527.6px;top:2540.5px;width:24.5px;height:59.5px;background:#d4d4d4"></div>
<div class="ab" style="left:1527.6px;top:2621px;width:24.5px;height:21px;background:#d4d4d4"></div>
<div class="ab" style="left:1527.6px;top:2663px;width:24.5px;height:21px;background:#d4d4d4"></div>
<div class="ab" style="left:1527.6px;top:2705px;width:24.5px;height:21px;background:#d4d4d4"></div>
<div class="ab" style="left:1576.6px;top:2540.5px;width:24.5px;height:59.5px;background:#d4d4d4"></div>
<div class="ab" style="left:1576.6px;top:2621px;width:24.5px;height:21px;background:#d4d4d4"></div>
<div class="ab" style="left:1576.6px;top:2663px;width:24.5px;height:21px;background:#d4d4d4"></div>
<div class="ab" style="left:1576.6px;top:2705px;width:24.5px;height:21px;background:#d4d4d4"></div>
<div class="ab" style="left:1625.6px;top:2540.5px;width:24.5px;height:59.5px;background:#d4d4d4"></div>
<div class="ab" style="left:1625.6px;top:2621px;width:24.5px;height:21px;background:#d4d4d4"></div>
<div class="ab" style="left:1625.6px;top:2663px;width:24.5px;height:21px;background:#d4d4d4"></div>
<div class="ab" style="left:1625.6px;top:2705px;width:24.5px;height:21px;background:#d4d4d4"></div>
<div class="ab" style="left:1674.6px;top:2540.5px;width:24.5px;height:59.5px;background:#d4d4d4"></div>
<div class="ab" style="left:1674.6px;top:2621px;width:24.5px;height:21px;background:#d4d4d4"></div>
<div class="ab" style="left:1674.6px;top:2663px;width:24.5px;height:21px;background:#d4d4d4"></div>
<div class="ab" style="left:1674.6px;top:2705px;width:24.5px;height:21px;background:#d4d4d4"></div>
<div class="ab" style="left:1723.6px;top:2540.5px;width:24.5px;height:59.5px;background:#d4d4d4"></div>
<div class="ab" style="left:1723.6px;top:2621px;width:24.5px;height:21px;background:#d4d4d4"></div>
<div class="ab" style="left:1723.6px;top:2663px;width:24.5px;height:21px;background:#d4d4d4"></div>
<div class="ab" style="left:1723.6px;top:2705px;width:24.5px;height:21px;background:#d4d4d4"></div>
<div class="ab" style="left:1772.6px;top:2540.5px;width:24.5px;height:59.5px;background:#d4d4d4"></div>
<div class="ab" style="left:1772.6px;top:2621px;width:24.5px;height:21px;background:#d4d4d4"></div>
<div class="ab" style="left:1772.6px;top:2663px;width:24.5px;height:21px;background:#d4d4d4"></div>
<div class="ab" style="left:1772.6px;top:2705px;width:24.5px;height:21px;background:#d4d4d4"></div>
<div class="ab" style="left:1821.6px;top:2540.5px;width:24.5px;height:59.5px;background:#d4d4d4"></div>
<div class="ab" style="left:1821.6px;top:2621px;width:24.5px;height:21px;background:#d4d4d4"></div>
<div class="ab" style="left:1821.6px;top:2663px;width:24.5px;height:21px;background:#d4d4d4"></div>
<div class="ab" style="left:1821.6px;top:2705px;width:24.5px;height:21px;background:#d4d4d4"></div>
<div class="ab" style="left:1870.6px;top:2540.5px;width:24.5px;height:59.5px;background:#d4d4d4"></div>
<div class="ab" style="left:1870.6px;top:2621px;width:24.5px;height:21px;background:#d4d4d4"></div>
<div class="ab" style="left:1870.6px;top:2663px;width:24.5px;height:21px;background:#d4d4d4"></div>
<div class="ab" style="left:1870.6px;top:2705px;width:24.5px;height:21px;background:#d4d4d4"></div>
<div class="ab" style="left:1919.6px;top:2540.5px;width:24.5px;height:59.5px;background:#d4d4d4"></div>
<div class="ab" style="left:1919.6px;top:2621px;width:24.5px;height:21px;background:#d4d4d4"></div>
<div class="ab" style="left:1919.6px;top:2663px;width:24.5px;height:21px;background:#d4d4d4"></div>
<div class="ab" style="left:1919.6px;top:2705px;width:24.5px;height:21px;background:#d4d4d4"></div>
<div class="ab" style="left:1968.6px;top:2540.5px;width:24.5px;height:59.5px;background:#d4d4d4"></div>
<div class="ab" style="left:1968.6px;top:2621px;width:24.5px;height:21px;background:#d4d4d4"></div>
<div class="ab" style="left:1968.6px;top:2663px;width:24.5px;height:21px;background:#d4d4d4"></div>
<div class="ab" style="left:1968.6px;top:2705px;width:24.5px;height:21px;background:#d4d4d4"></div>
<div class="ab" style="left:2036.5px;top:2540.5px;width:24.5px;height:59.5px;background:#d4d4d4"></div>
<div class="ab" style="left:2036.5px;top:2621px;width:24.5px;height:21px;background:#d4d4d4"></div>
<div class="ab" style="left:2036.5px;top:2663px;width:24.5px;height:21px;background:#d4d4d4"></div>
<div class="ab" style="left:2036.5px;top:2705px;width:24.5px;height:21px;background:#d4d4d4"></div>
<div class="ab" style="left:2085.5px;top:2540.5px;width:24.5px;height:59.5px;background:#d4d4d4"></div>
<div class="ab" style="left:2085.5px;top:2621px;width:24.5px;height:21px;background:#d4d4d4"></div>
<div class="ab" style="left:2085.5px;top:2663px;width:24.5px;height:21px;background:#d4d4d4"></div>
<div class="ab" style="left:2085.5px;top:2705px;width:24.5px;height:21px;background:#d4d4d4"></div>
<div class="ab" style="left:2134.5px;top:2540.5px;width:24.5px;height:59.5px;background:#d4d4d4"></div>
<div class="ab" style="left:2134.5px;top:2621px;width:24.5px;height:21px;background:#d4d4d4"></div>
<div class="ab" style="left:2134.5px;top:2663px;width:24.5px;height:21px;background:#d4d4d4"></div>
<div class="ab" style="left:2134.5px;top:2705px;width:24.5px;height:21px;background:#d4d4d4"></div>
<div class="ab" style="left:2183.5px;top:2540.5px;width:24.5px;height:59.5px;background:#d4d4d4"></div>
<div class="ab" style="left:2183.5px;top:2621px;width:24.5px;height:21px;background:#d4d4d4"></div>
<div class="ab" style="left:2183.5px;top:2663px;width:24.5px;height:21px;background:#d4d4d4"></div>
<div class="ab" style="left:2183.5px;top:2705px;width:24.5px;height:21px;background:#d4d4d4"></div>
<div class="ab" style="left:2232.5px;top:2540.5px;width:24.5px;height:59.5px;background:#d4d4d4"></div>
<div class="ab" style="left:2232.5px;top:2621px;width:24.5px;height:21px;background:#d4d4d4"></div>
<div class="ab" style="left:2232.5px;top:2663px;width:24.5px;height:21px;background:#d4d4d4"></div>
<div class="ab" style="left:2232.5px;top:2705px;width:24.5px;height:21px;background:#d4d4d4"></div>
<div class="ab" style="left:1131.9px;top:2600px;width:0.6px;height:168px;background:#e4e4e4"></div>
<div class="ab" style="left:1156.4px;top:2600px;width:0.6px;height:168px;background:#e4e4e4"></div>
<div class="ab" style="left:1180.9px;top:2600px;width:0.6px;height:168px;background:#e4e4e4"></div>
<div class="ab" style="left:1205.4px;top:2600px;width:0.6px;height:168px;background:#e4e4e4"></div>
<div class="ab" style="left:1229.9px;top:2600px;width:0.6px;height:168px;background:#e4e4e4"></div>
<div class="ab" style="left:1254.4px;top:2600px;width:0.6px;height:168px;background:#e4e4e4"></div>
<div class="ab" style="left:1306.8px;top:2600px;width:0.6px;height:168px;background:#e4e4e4"></div>
<div class="ab" style="left:1331.3px;top:2600px;width:0.6px;height:168px;background:#e4e4e4"></div>
<div class="ab" style="left:1355.8px;top:2600px;width:0.6px;height:168px;background:#e4e4e4"></div>
<div class="ab" style="left:1380.3px;top:2600px;width:0.6px;height:168px;background:#e4e4e4"></div>
<div class="ab" style="left:1404.8px;top:2600px;width:0.6px;height:168px;background:#e4e4e4"></div>
<div class="ab" style="left:1429.3px;top:2600px;width:0.6px;height:168px;background:#e4e4e4"></div>
<div class="ab" style="left:1453.8px;top:2600px;width:0.6px;height:168px;background:#e4e4e4"></div>
<div class="ab" style="left:1478.3px;top:2600px;width:0.6px;height:168px;background:#e4e4e4"></div>
<div class="ab" style="left:1502.8px;top:2600px;width:0.6px;height:168px;background:#e4e4e4"></div>
<div class="ab" style="left:1527.3px;top:2600px;width:0.6px;height:168px;background:#e4e4e4"></div>
<div class="ab" style="left:1551.8px;top:2600px;width:0.6px;height:168px;background:#e4e4e4"></div>
<div class="ab" style="left:1576.3px;top:2600px;width:0.6px;height:168px;background:#e4e4e4"></div>
<div class="ab" style="left:1600.8px;top:2600px;width:0.6px;height:168px;background:#e4e4e4"></div>
<div class="ab" style="left:1625.3px;top:2600px;width:0.6px;height:168px;background:#e4e4e4"></div>
<div class="ab" style="left:1649.8px;top:2600px;width:0.6px;height:168px;background:#e4e4e4"></div>
<div class="ab" style="left:1674.3px;top:2600px;width:0.6px;height:168px;background:#e4e4e4"></div>
<div class="ab" style="left:1698.8px;top:2600px;width:0.6px;height:168px;background:#e4e4e4"></div>
<div class="ab" style="left:1723.3px;top:2600px;width:0.6px;height:168px;background:#e4e4e4"></div>
<div class="ab" style="left:1747.8px;top:2600px;width:0.6px;height:168px;background:#e4e4e4"></div>
<div class="ab" style="left:1772.3px;top:2600px;width:0.6px;height:168px;background:#e4e4e4"></div>
<div class="ab" style="left:1796.8px;top:2600px;width:0.6px;height:168px;background:#e4e4e4"></div>
<div class="ab" style="left:1821.3px;top:2600px;width:0.6px;height:168px;background:#e4e4e4"></div>
<div class="ab" style="left:1845.8px;top:2600px;width:0.6px;height:168px;background:#e4e4e4"></div>
<div class="ab" style="left:1870.3px;top:2600px;width:0.6px;height:168px;background:#e4e4e4"></div>
<div class="ab" style="left:1894.8px;top:2600px;width:0.6px;height:168px;background:#e4e4e4"></div>
<div class="ab" style="left:1919.3px;top:2600px;width:0.6px;height:168px;background:#e4e4e4"></div>
<div class="ab" style="left:1943.8px;top:2600px;width:0.6px;height:168px;background:#e4e4e4"></div>
<div class="ab" style="left:1968.3px;top:2600px;width:0.6px;height:168px;background:#e4e4e4"></div>
<div class="ab" style="left:1992.8px;top:2600px;width:0.6px;height:168px;background:#e4e4e4"></div>
<div class="ab" style="left:2036.2px;top:2600px;width:0.6px;height:168px;background:#e4e4e4"></div>
<div class="ab" style="left:2060.7px;top:2600px;width:0.6px;height:168px;background:#e4e4e4"></div>
<div class="ab" style="left:2085.2px;top:2600px;width:0.6px;height:168px;background:#e4e4e4"></div>
<div class="ab" style="left:2109.7px;top:2600px;width:0.6px;height:168px;background:#e4e4e4"></div>
<div class="ab" style="left:2134.2px;top:2600px;width:0.6px;height:168px;background:#e4e4e4"></div>
<div class="ab" style="left:2158.7px;top:2600px;width:0.6px;height:168px;background:#e4e4e4"></div>
<div class="ab" style="left:2183.2px;top:2600px;width:0.6px;height:168px;background:#e4e4e4"></div>
<div class="ab" style="left:2207.7px;top:2600px;width:0.6px;height:168px;background:#e4e4e4"></div>
<div class="ab" style="left:2232.2px;top:2600px;width:0.6px;height:168px;background:#e4e4e4"></div>
<div class="ab" style="left:1107.7px;top:2520px;width:98.0px;height:20.5px;background:#cbcbcb"></div>
<div class="ab nw" style="left:1107.7px;top:2520px;width:98.0px;height:20.5px;line-height:20.5px;text-align:center;font-size:17px;color:#333">Primer Sem</div>
<div class="ab nw" style="left:1205.7px;top:2520px;width:101.4px;height:20.5px;line-height:20.5px;text-align:center;font-size:17px;color:#333">Segundo Sem</div>
<div class="ab" style="left:1307.1px;top:2520px;width:98.0px;height:20.5px;background:#cbcbcb"></div>
<div class="ab nw" style="left:1307.1px;top:2520px;width:98.0px;height:20.5px;line-height:20.5px;text-align:center;font-size:17px;color:#333">Tercer Sem</div>
<div class="ab nw" style="left:1405.1px;top:2520px;width:147.0px;height:20.5px;line-height:20.5px;text-align:center;font-size:17px;color:#333">Cuarto Sem</div>
<div class="ab" style="left:1552.1px;top:2520px;width:98.0px;height:20.5px;background:#cbcbcb"></div>
<div class="ab nw" style="left:1552.1px;top:2520px;width:98.0px;height:20.5px;line-height:20.5px;text-align:center;font-size:17px;color:#333">Quinto Sem</div>
<div class="ab nw" style="left:1650.1px;top:2520px;width:171.5px;height:20.5px;line-height:20.5px;text-align:center;font-size:17px;color:#333">Sexto Sem</div>
<div class="ab" style="left:1821.6px;top:2520px;width:122.5px;height:20.5px;background:#cbcbcb"></div>
<div class="ab nw" style="left:1821.6px;top:2520px;width:122.5px;height:20.5px;line-height:20.5px;text-align:center;font-size:17px;color:#333">Séptimo Sem</div>
<div class="ab nw" style="left:1944.1px;top:2520px;width:92.4px;height:20.5px;line-height:20.5px;text-align:center;font-size:17px;color:#333">Octavo Sem</div>
<div class="ab" style="left:2036.5px;top:2520px;width:122.5px;height:20.5px;background:#cbcbcb"></div>
<div class="ab nw" style="left:2036.5px;top:2520px;width:122.5px;height:20.5px;line-height:20.5px;text-align:center;font-size:17px;color:#333">Noveno Sem</div>
<div class="ab nw" style="left:2159.0px;top:2520px;width:98.0px;height:20.5px;line-height:20.5px;text-align:center;font-size:17px;color:#333">Décimo Sem</div>
<div class="ab nw" style="left:1111.7px;bottom:577px;width:16.5px;writing-mode:vertical-rl;transform:rotate(180deg);background:#0000ff;color:#fff;font-size:16.5px;line-height:16.5px;padding:2px 0 1px 0;text-align:center">CS100</div>
<div class="ab nw" style="left:1136.2px;bottom:577px;width:16.5px;writing-mode:vertical-rl;transform:rotate(180deg);background:#0000ff;color:#fff;font-size:16.5px;line-height:16.5px;padding:2px 0 1px 0;text-align:center">CS111</div>
<div class="ab nw" style="left:1160.7px;bottom:577px;width:16.5px;writing-mode:vertical-rl;transform:rotate(180deg);background:#0000ff;color:#fff;font-size:16.5px;line-height:16.5px;padding:2px 0 1px 0;text-align:center">CS1D1</div>
<div class="ab nw" style="left:1185.2px;bottom:577px;width:16.5px;writing-mode:vertical-rl;transform:rotate(180deg);background:#c1cdc1;color:#000;font-size:16.5px;line-height:16.5px;padding:2px 0 1px 0;text-align:center">MA100</div>
<div class="ab nw" style="left:1209.7px;bottom:577px;width:16.5px;writing-mode:vertical-rl;transform:rotate(180deg);background:#0000ff;color:#fff;font-size:16.5px;line-height:16.5px;padding:2px 0 1px 0;text-align:center">CS112</div>
<div class="ab nw" style="left:1234.2px;bottom:577px;width:16.5px;writing-mode:vertical-rl;transform:rotate(180deg);background:#0000ff;color:#fff;font-size:16.5px;line-height:16.5px;padding:2px 0 1px 0;text-align:center">CS1D2</div>
<div class="ab nw" style="left:1272.7px;bottom:577px;width:16.5px;writing-mode:vertical-rl;transform:rotate(180deg);background:#c1cdc1;color:#000;font-size:16.5px;line-height:16.5px;padding:2px 0 1px 0;text-align:center">MA101</div>
<div class="ab nw" style="left:1311.1px;bottom:577px;width:16.5px;writing-mode:vertical-rl;transform:rotate(180deg);background:#0000ff;color:#fff;font-size:16.5px;line-height:16.5px;padding:2px 0 1px 0;text-align:center">CS113</div>
<div class="ab nw" style="left:1335.6px;bottom:577px;width:16.5px;writing-mode:vertical-rl;transform:rotate(180deg);background:#0000ff;color:#fff;font-size:16.5px;line-height:16.5px;padding:2px 0 1px 0;text-align:center">CS221</div>
<div class="ab nw" style="left:1360.1px;bottom:577px;width:16.5px;writing-mode:vertical-rl;transform:rotate(180deg);background:#0000ff;color:#fff;font-size:16.5px;line-height:16.5px;padding:2px 0 1px 0;text-align:center">CS2B1</div>
<div class="ab nw" style="left:1384.6px;bottom:577px;width:16.5px;writing-mode:vertical-rl;transform:rotate(180deg);background:#c1cdc1;color:#000;font-size:16.5px;line-height:16.5px;padding:2px 0 1px 0;text-align:center">MA102</div>
<div class="ab nw" style="left:1409.1px;bottom:577px;width:16.5px;writing-mode:vertical-rl;transform:rotate(180deg);background:#0000ff;color:#fff;font-size:16.5px;line-height:16.5px;padding:2px 0 1px 0;text-align:center">CS210</div>
<div class="ab nw" style="left:1433.6px;bottom:577px;width:16.5px;writing-mode:vertical-rl;transform:rotate(180deg);background:#0000ff;color:#fff;font-size:16.5px;line-height:16.5px;padding:2px 0 1px 0;text-align:center">CS211</div>
<div class="ab nw" style="left:1458.1px;bottom:577px;width:16.5px;writing-mode:vertical-rl;transform:rotate(180deg);background:#0000ff;color:#fff;font-size:16.5px;line-height:16.5px;padding:2px 0 1px 0;text-align:center">CS271</div>
<div class="ab nw" style="left:1482.6px;bottom:577px;width:16.5px;writing-mode:vertical-rl;transform:rotate(180deg);background:#0000ff;color:#fff;font-size:16.5px;line-height:16.5px;padding:2px 0 1px 0;text-align:center">CS2S1</div>
<div class="ab nw" style="left:1507.1px;bottom:577px;width:16.5px;writing-mode:vertical-rl;transform:rotate(180deg);background:#c1cdc1;color:#000;font-size:16.5px;line-height:16.5px;padding:2px 0 1px 0;text-align:center">MA201</div>
<div class="ab nw" style="left:1531.6px;bottom:577px;width:16.5px;writing-mode:vertical-rl;transform:rotate(180deg);background:#c1cdc1;color:#000;font-size:16.5px;line-height:16.5px;padding:2px 0 1px 0;text-align:center">MA203</div>
<div class="ab nw" style="left:1556.1px;bottom:577px;width:16.5px;writing-mode:vertical-rl;transform:rotate(180deg);background:#0000ff;color:#fff;font-size:16.5px;line-height:16.5px;padding:2px 0 1px 0;text-align:center">CS212</div>
<div class="ab nw" style="left:1580.6px;bottom:577px;width:16.5px;writing-mode:vertical-rl;transform:rotate(180deg);background:#0000ff;color:#fff;font-size:16.5px;line-height:16.5px;padding:2px 0 1px 0;text-align:center">CS272</div>
<div class="ab nw" style="left:1605.1px;bottom:577px;width:16.5px;writing-mode:vertical-rl;transform:rotate(180deg);background:#0000ff;color:#fff;font-size:16.5px;line-height:16.5px;padding:2px 0 1px 0;text-align:center">CS291</div>
<div class="ab nw" style="left:1629.6px;bottom:577px;width:16.5px;writing-mode:vertical-rl;transform:rotate(180deg);background:#0000ff;color:#fff;font-size:16.5px;line-height:16.5px;padding:2px 0 1px 0;text-align:center">CS342</div>
<div class="ab nw" style="left:1654.1px;bottom:577px;width:16.5px;writing-mode:vertical-rl;transform:rotate(180deg);background:#0000ff;color:#fff;font-size:16.5px;line-height:16.5px;padding:2px 0 1px 0;text-align:center">CS231</div>
<div class="ab nw" style="left:1678.6px;bottom:577px;width:16.5px;writing-mode:vertical-rl;transform:rotate(180deg);background:#0000ff;color:#fff;font-size:16.5px;line-height:16.5px;padding:2px 0 1px 0;text-align:center">CS261</div>
<div class="ab nw" style="left:1703.1px;bottom:577px;width:16.5px;writing-mode:vertical-rl;transform:rotate(180deg);background:#0000ff;color:#fff;font-size:16.5px;line-height:16.5px;padding:2px 0 1px 0;text-align:center">CS292</div>
<div class="ab nw" style="left:1727.6px;bottom:577px;width:16.5px;writing-mode:vertical-rl;transform:rotate(180deg);background:#0000ff;color:#fff;font-size:16.5px;line-height:16.5px;padding:2px 0 1px 0;text-align:center">CS311</div>
<div class="ab nw" style="left:1752.1px;bottom:577px;width:16.5px;writing-mode:vertical-rl;transform:rotate(180deg);background:#0000ff;color:#fff;font-size:16.5px;line-height:16.5px;padding:2px 0 1px 0;text-align:center">CS312</div>
<div class="ab nw" style="left:1776.6px;bottom:577px;width:16.5px;writing-mode:vertical-rl;transform:rotate(180deg);background:#0000ff;color:#fff;font-size:16.5px;line-height:16.5px;padding:2px 0 1px 0;text-align:center">CS393</div>
<div class="ab nw" style="left:1801.1px;bottom:577px;width:16.5px;writing-mode:vertical-rl;transform:rotate(180deg);background:#c1cdc1;color:#000;font-size:16.5px;line-height:16.5px;padding:2px 0 1px 0;text-align:center">MA307</div>
<div class="ab nw" style="left:1825.6px;bottom:577px;width:16.5px;writing-mode:vertical-rl;transform:rotate(180deg);background:#0000ff;color:#fff;font-size:16.5px;line-height:16.5px;padding:2px 0 1px 0;text-align:center">CS2H1</div>
<div class="ab nw" style="left:1850.1px;bottom:577px;width:16.5px;writing-mode:vertical-rl;transform:rotate(180deg);background:#0000ff;color:#fff;font-size:16.5px;line-height:16.5px;padding:2px 0 1px 0;text-align:center">CS391</div>
<div class="ab nw" style="left:1874.6px;bottom:577px;width:16.5px;writing-mode:vertical-rl;transform:rotate(180deg);background:#0000ff;color:#fff;font-size:16.5px;line-height:16.5px;padding:2px 0 1px 0;text-align:center">CS3I1</div>
<div class="ab nw" style="left:1899.1px;bottom:577px;width:16.5px;writing-mode:vertical-rl;transform:rotate(180deg);background:#0000ff;color:#fff;font-size:16.5px;line-height:16.5px;padding:2px 0 1px 0;text-align:center">CS251</div>
<div class="ab nw" style="left:1923.6px;bottom:577px;width:16.5px;writing-mode:vertical-rl;transform:rotate(180deg);background:#0000ff;color:#fff;font-size:16.5px;line-height:16.5px;padding:2px 0 1px 0;text-align:center">CS262</div>
<div class="ab nw" style="left:1948.1px;bottom:577px;width:16.5px;writing-mode:vertical-rl;transform:rotate(180deg);background:#0000ff;color:#fff;font-size:16.5px;line-height:16.5px;padding:2px 0 1px 0;text-align:center">CS281</div>
<div class="ab nw" style="left:1972.6px;bottom:577px;width:16.5px;writing-mode:vertical-rl;transform:rotate(180deg);background:#0000ff;color:#fff;font-size:16.5px;line-height:16.5px;padding:2px 0 1px 0;text-align:center">CS3P1</div>
<div class="ab nw" style="left:2006.6px;bottom:577px;width:16.5px;writing-mode:vertical-rl;transform:rotate(180deg);background:#0000ff;color:#fff;font-size:16.5px;line-height:16.5px;padding:2px 0 1px 0;text-align:center">CS361</div>
<div class="ab nw" style="left:2040.5px;bottom:577px;width:16.5px;writing-mode:vertical-rl;transform:rotate(180deg);background:#0000ff;color:#fff;font-size:16.5px;line-height:16.5px;padding:2px 0 1px 0;text-align:center">CS370</div>
<div class="ab nw" style="left:2065.0px;bottom:577px;width:16.5px;writing-mode:vertical-rl;transform:rotate(180deg);background:#0000ff;color:#fff;font-size:16.5px;line-height:16.5px;padding:2px 0 1px 0;text-align:center">CB309</div>
<div class="ab nw" style="left:2089.5px;bottom:577px;width:16.5px;writing-mode:vertical-rl;transform:rotate(180deg);background:#0000ff;color:#fff;font-size:16.5px;line-height:16.5px;padding:2px 0 1px 0;text-align:center">CS369</div>
<div class="ab nw" style="left:2114.0px;bottom:577px;width:16.5px;writing-mode:vertical-rl;transform:rotate(180deg);background:#0000ff;color:#fff;font-size:16.5px;line-height:16.5px;padding:2px 0 1px 0;text-align:center">CS351</div>
<div class="ab nw" style="left:2138.5px;bottom:577px;width:16.5px;writing-mode:vertical-rl;transform:rotate(180deg);background:#0000ff;color:#fff;font-size:16.5px;line-height:16.5px;padding:2px 0 1px 0;text-align:center">CS392</div>
<div class="ab nw" style="left:2163.0px;bottom:577px;width:16.5px;writing-mode:vertical-rl;transform:rotate(180deg);background:#0000ff;color:#fff;font-size:16.5px;line-height:16.5px;padding:2px 0 1px 0;text-align:center">CS365</div>
<div class="ab nw" style="left:2187.5px;bottom:577px;width:16.5px;writing-mode:vertical-rl;transform:rotate(180deg);background:#0000ff;color:#fff;font-size:16.5px;line-height:16.5px;padding:2px 0 1px 0;text-align:center">CS3P2</div>
<div class="ab nw" style="left:2212.0px;bottom:577px;width:16.5px;writing-mode:vertical-rl;transform:rotate(180deg);background:#0000ff;color:#fff;font-size:16.5px;line-height:16.5px;padding:2px 0 1px 0;text-align:center">CS3P3</div>
<div class="ab nw" style="left:2236.5px;bottom:577px;width:16.5px;writing-mode:vertical-rl;transform:rotate(180deg);background:#66cd00;color:#000;font-size:16.5px;line-height:16.5px;padding:2px 0 1px 0;text-align:center">FG211</div>
<div class="ab nw" style="left:98.5px;top:2578px;font-weight:bold;font-size:20.2px;line-height:20px">Competencia/Curso</div>
<div class="ab nw" style="left:60px;top:2600px;width:29px;text-align:right;font-size:17.1px;line-height:21px;color:#3a3a3a">1)</div>
<div class="ab nw" style="left:98.5px;top:2600px;font-size:17.1px;line-height:21px;color:#3a3a3a">Analyze complex computing problems.</div>
<div class="ab nw" style="left:60px;top:2621px;width:29px;text-align:right;font-size:17.1px;line-height:21px;color:#3a3a3a">2)</div>
<div class="ab nw" style="left:98.5px;top:2621px;font-size:17.1px;line-height:21px;color:#3a3a3a">Design and implement computing solutions.</div>
<div class="ab nw" style="left:60px;top:2642px;width:29px;text-align:right;font-size:17.1px;line-height:21px;color:#3a3a3a">3)</div>
<div class="ab nw" style="left:98.5px;top:2642px;font-size:17.1px;line-height:21px;color:#3a3a3a">Effective professional communication.</div>
<div class="ab nw" style="left:60px;top:2663px;width:29px;text-align:right;font-size:17.1px;line-height:21px;color:#3a3a3a">4)</div>
<div class="ab nw" style="left:98.5px;top:2663px;font-size:17.1px;line-height:21px;color:#3a3a3a">Recognize professional responsabilities and make informed judgments.</div>
<div class="ab nw" style="left:60px;top:2684px;width:29px;text-align:right;font-size:17.1px;line-height:21px;color:#3a3a3a">5)</div>
<div class="ab nw" style="left:98.5px;top:2684px;font-size:17.1px;line-height:21px;color:#3a3a3a">Function effectively as a member or leader of a team .</div>
<div class="ab nw" style="left:60px;top:2705px;width:29px;text-align:right;font-size:17.1px;line-height:21px;color:#3a3a3a">6)</div>
<div class="ab nw" style="left:98.5px;top:2705px;font-size:17.1px;line-height:21px;color:#3a3a3a">Apply computer science theory and software development fundamentals.</div>
<div class="ab nw" style="left:60px;top:2726px;width:29px;text-align:right;font-size:17.1px;line-height:21px;color:#3a3a3a">7)</div>
<div class="ab nw" style="left:98.5px;top:2726px;font-size:17.1px;line-height:21px;color:#3a3a3a">Develop computational technology for the well-being of all, contributing with human formation, scientific, technological and professional skills to</div>
<div class="ab nw" style="left:98.5px;top:2747px;font-size:17.1px;line-height:21px;color:#3a3a3a">solve social problems of our community</div>
<div class="ab" style="left:3527px;top:2467px;width:4px;height:352px;background:#000"></div>
<div class="ab" style="left:2332px;top:2815px;width:1199px;height:4px;background:#000"></div>
<div class="ab" style="left:2328px;top:2463px;width:1199px;height:352px;border:1px solid #777;background:#fff"></div>
<div class="ab nw" style="left:2348px;top:2468px;font-weight:bold;font-size:33.5px;line-height:34px">Objetivos educacionales</div>
<div class="ab" style="left:2348px;top:2502.5px;width:343px;height:1px;background:#999"></div>
<div class="ab nw" style="left:2349.4px;top:2517.3px;font-size:32.5px;line-height:37.375px;color:#3a3a3a">1.</div>
<div class="ab nw" style="left:2380.7px;top:2517.3px;font-size:32.5px;line-height:37.375px;color:#3a3a3a"><span id="obj0" style="display:inline-block;word-spacing:2.402px">Cumplir y superar las expectativas de trabajo definidas por el entorno laboral.</span></div>
<div class="ab nw" style="left:2349.4px;top:2568.3px;font-size:32.5px;line-height:37.375px;color:#3a3a3a">2.</div>
<div class="ab nw" style="left:2380.7px;top:2568.3px;font-size:32.5px;line-height:37.375px;color:#3a3a3a"><span id="obj1" style="display:inline-block;word-spacing:-0.153px">Desempeñarse como miembro o líder de un equipo especializado o multidisciplinario.</span></div>
<div class="ab nw" style="left:2349.4px;top:2618.8px;font-size:32.5px;line-height:37.375px;color:#3a3a3a">3.</div>
<div class="ab nw" style="left:2380.7px;top:2618.8px;font-size:32.5px;line-height:37.375px;color:#3a3a3a"><span id="obj2" style="display:inline-block;word-spacing:0.658px">Proponer soluciones innovadoras en Ciencia de la Computación.</span></div>
<div class="ab nw" style="left:2349.4px;top:2669.3px;font-size:32.5px;line-height:37.375px;color:#3a3a3a">4.</div>
<div class="ab nw" style="left:2380.7px;top:2669.3px;font-size:32.5px;line-height:37.375px;color:#3a3a3a"><span id="obj3" style="display:inline-block;word-spacing:-0.321px">Comunicar propuestas tecnológicas de forma efectiva.</span></div>
<div class="ab nw" style="left:2349.4px;top:2719.3px;font-size:32.5px;line-height:37.375px;color:#3a3a3a">5.</div>
<div class="ab nw" style="left:2380.7px;top:2719.3px;font-size:32.5px;line-height:37.375px;color:#3a3a3a"><span id="obj4" style="display:inline-block;word-spacing:1.464px">Mantenerse actualizado en computación.</span></div>
<div class="ab nw" style="left:2349.4px;top:2769.8px;font-size:32.5px;line-height:37.375px;color:#3a3a3a">6.</div>
<div class="ab nw" style="left:2380.7px;top:2769.8px;font-size:32.5px;line-height:37.375px;color:#3a3a3a"><span id="obj5" style="display:inline-block;word-spacing:0.092px">Comprender y aplicar las consecuencias sociales y éticas de la tecnología.</span></div>
<div class="ab" style="left:4471px;top:2840px;width:4px;height:298px;background:#000"></div>
<div class="ab" style="left:42px;top:3134px;width:4433px;height:4px;background:#000"></div>
<div class="ab" style="left:38px;top:2836px;width:4433px;height:298px;border:1px solid #777;background:#fff"></div>
<div class="ab nw" style="left:57px;top:2838.2px;font-size:33.8px;line-height:38.86999999999999px;color:#3a3a3a"><span id="lo0" style="display:inline-block;word-spacing:-0.142px"><b style="letter-spacing:1px">Definición de Objetivos de Aprendizaje (<i>Learning Outcomes</i>)</b></span></div>
<div class="ab" style="left:57px;top:2880px;width:930px;height:1px;background:#333"></div>
<div class="ab nw" style="left:57px;top:2878.7px;font-size:33.8px;line-height:38.86999999999999px;color:#3a3a3a"><span id="lo1" style="display:inline-block;word-spacing:-0.034px"><b>Nivel 1: Familiarizarse (<i>Familiarity</i>)</b>: El estudiante <b>entiende</b> lo que un concepto es o qué significa. Este nivel de dominio <b>se refiere a un conocimiento básico</b> de un concepto en lugar de esperar instalación real con su aplicación. Proporciona una respuesta a la pregunta: <b>¿Qué sabe usted de esto?</b></span></div>
<div class="ab nw" style="left:57px;top:2917.9px;font-size:33.8px;line-height:38.86999999999999px;color:#3a3a3a"><span id="lo2" style="display:inline-block;word-spacing:-1.581px"><b>Nivel 2: Usar (<i>Usage</i>)</b>: El alumno es capaz de <b>utilizar o aplicar</b> un concepto de una manera concreta. El uso de un concepto puede incluir, por ejemplo, apropiadamente usando un concepto específico en un programa, utilizando una técnica de prueba en particular, o la realización de un análisis particular. Proporciona una respuesta</span></div>
<div class="ab nw" style="left:57px;top:2957.7px;font-size:33.8px;line-height:38.86999999999999px;color:#3a3a3a"><span id="lo3" style="display:inline-block;word-spacing:0.172px">a la pregunta: <b>¿Qué sabes de cómo hacerlo?</b></span></div>
<div class="ab nw" style="left:57px;top:2998.2px;font-size:33.8px;line-height:38.86999999999999px;color:#3a3a3a"><span id="lo4" style="display:inline-block;word-spacing:0.127px"><b>Nivel 3: Evaluar (<i>Assessment</i>)</b>: El alumno es capaz de <b>considerar un concepto de múltiples puntos de vista</b> y/o <b>justificar la selección de un determinado enfoque</b> para resolver un problema. Este nivel de dominio implica más que el uso de un concepto; se trata de la posibilidad de seleccionar un enfoque adecuado de las</span></div>
<div class="ab nw" style="left:57px;top:3037.2px;font-size:33.8px;line-height:38.86999999999999px;color:#3a3a3a"><span id="lo5" style="display:inline-block;word-spacing:-0.256px">alternativas entendidas. Proporciona una respuesta a la pregunta: <b>¿Por qué hiciste eso?</b></span></div>
<div class="ab" style="left:57px;top:3081px;width:4406px;height:1px;background:#999"></div>
<div class="ab nw" style="left:57px;top:3076.2px;font-size:42.5px;line-height:48.87499999999999px;font-weight:bold;color:#111"><span id="gen0" style="display:inline-block;word-spacing:-0.170px">Generado por Ernesto Cuadros-Vargas (ecuadros AT spc.org.pe), Sociedad Peruana de Computación (http://www.spc.org.pe/), basado en la <i>Computing Curricula</i> de IEEE-CS (http://www.computer.org) y ACM (http://www.acm.org/)</span></div>
<div class="ab" style="left:3570px;top:0;width:910px;height:2795.5px;background:#4b6d8b"></div>
<div class="ab" style="left:4462px;top:33px;width:4px;height:740px;background:#000"></div>
<div class="ab" style="left:3609px;top:765px;width:857px;height:4px;background:#000"></div>
<div class="ab" style="left:3605px;top:29px;width:857px;height:736px;border:1px solid #000;background:#4b6d8b"></div>
<div class="ab" style="left:3609.5px;top:33.5px;width:848.0px;height:727.0px;background:#fff"></div>
<div class="ab" style="left:4009px;top:794px;width:4.5px;height:351px;background:#fff"></div>
<div class="ab" style="left:3618px;top:1140px;width:396px;height:4.5px;background:#fff"></div>
<div class="ab" style="left:3613px;top:789px;width:396px;height:351px;border:1px solid #d8e2ec"></div>
<div class="ab" style="left:3617.5px;top:793.5px;width:387.0px;height:342.0px;background:#fff"></div>
<div class="ab" style="left:4433px;top:794px;width:4.5px;height:351px;background:#fff"></div>
<div class="ab" style="left:4042px;top:1140px;width:396px;height:4.5px;background:#fff"></div>
<div class="ab" style="left:4037px;top:789px;width:396px;height:351px;border:1px solid #d8e2ec"></div>
<div class="ab" style="left:4041.5px;top:793.5px;width:387.0px;height:342.0px;background:#fff"></div>
<div class="ab" style="left:4009px;top:1176px;width:4.5px;height:349px;background:#fff"></div>
<div class="ab" style="left:3618px;top:1520px;width:396px;height:4.5px;background:#fff"></div>
<div class="ab" style="left:3613px;top:1171px;width:396px;height:349px;border:1px solid #d8e2ec"></div>
<div class="ab" style="left:3617.5px;top:1175.5px;width:387.0px;height:340.0px;background:#fff"></div>
<div class="ab" style="left:4433px;top:1176px;width:4.5px;height:349px;background:#fff"></div>
<div class="ab" style="left:4042px;top:1520px;width:396px;height:4.5px;background:#fff"></div>
<div class="ab" style="left:4037px;top:1171px;width:396px;height:349px;border:1px solid #d8e2ec"></div>
<div class="ab" style="left:4041.5px;top:1175.5px;width:387.0px;height:340.0px;background:#fff"></div>
<div class="ab" style="left:4448px;top:1560px;width:4.5px;height:259px;background:#fff"></div>
<div class="ab" style="left:3603px;top:1814px;width:850px;height:4.5px;background:#fff"></div>
<div class="ab" style="left:3598px;top:1555px;width:850px;height:259px;border:1px solid #d8e2ec"></div>
<div class="ab" style="left:3602.5px;top:1559.5px;width:841.0px;height:250.0px;background:#fff"></div>
<div class="ab" style="left:4449px;top:1851px;width:4.5px;height:623px;background:#fff"></div>
<div class="ab" style="left:3603px;top:2469px;width:851px;height:4.5px;background:#fff"></div>
<div class="ab" style="left:3598px;top:1846px;width:851px;height:623px;border:1px solid #d8e2ec"></div>
<div class="ab" style="left:3602.5px;top:1850.5px;width:842.0px;height:614.0px;background:#fff"></div>
<div class="ab" style="left:4002px;top:2510px;width:4.5px;height:254px;background:#fff"></div>
<div class="ab" style="left:3591px;top:2759px;width:416px;height:4.5px;background:#fff"></div>
<div class="ab" style="left:3586px;top:2505px;width:416px;height:254px;border:1px solid #d8e2ec"></div>
<div class="ab" style="left:3590.5px;top:2509.5px;width:407.0px;height:245.0px;background:#fff"></div>
<div class="ab" style="left:4425px;top:2506px;width:4.5px;height:262px;background:#fff"></div>
<div class="ab" style="left:4016px;top:2763px;width:414px;height:4.5px;background:#fff"></div>
<div class="ab" style="left:4011px;top:2501px;width:414px;height:262px;border:1px solid #d8e2ec"></div>
<div class="ab" style="left:4015.5px;top:2505.5px;width:405.0px;height:253.0px;background:#fff"></div>
<svg class="ab" style="left:0;top:0" width="4491" height="3173"><g transform="translate(3684.00 81.00) scale(1.0000)"><defs><clipPath id="c0"><rect x="-120" y="-25" width="900" height="700"/></clipPath></defs><rect x="8" y="8" width="749.0" height="402.0" fill="#505050"/><rect x="0" y="0" width="749.0" height="402.0" fill="#fff"/><line x1="80.0" y1="0" x2="80.0" y2="402.0" stroke="#c8c8c8" stroke-width="1.6" stroke-dasharray="1.6 8"/><line x1="160.7" y1="0" x2="160.7" y2="402.0" stroke="#c8c8c8" stroke-width="1.6" stroke-dasharray="1.6 8"/><line x1="241.4" y1="0" x2="241.4" y2="402.0" stroke="#c8c8c8" stroke-width="1.6" stroke-dasharray="1.6 8"/><line x1="322.1" y1="0" x2="322.1" y2="402.0" stroke="#c8c8c8" stroke-width="1.6" stroke-dasharray="1.6 8"/><line x1="402.8" y1="0" x2="402.8" y2="402.0" stroke="#c8c8c8" stroke-width="1.6" stroke-dasharray="1.6 8"/><line x1="483.5" y1="0" x2="483.5" y2="402.0" stroke="#c8c8c8" stroke-width="1.6" stroke-dasharray="1.6 8"/><line x1="564.2" y1="0" x2="564.2" y2="402.0" stroke="#c8c8c8" stroke-width="1.6" stroke-dasharray="1.6 8"/><line x1="644.9" y1="0" x2="644.9" y2="402.0" stroke="#c8c8c8" stroke-width="1.6" stroke-dasharray="1.6 8"/><line x1="725.6" y1="0" x2="725.6" y2="402.0" stroke="#c8c8c8" stroke-width="1.6" stroke-dasharray="1.6 8"/><line x1="0" y1="321.6" x2="749.0" y2="321.6" stroke="#c8c8c8" stroke-width="1.6" stroke-dasharray="1.6 8"/><line x1="0" y1="241.2" x2="749.0" y2="241.2" stroke="#c8c8c8" stroke-width="1.6" stroke-dasharray="1.6 8"/><line x1="0" y1="160.8" x2="749.0" y2="160.8" stroke="#c8c8c8" stroke-width="1.6" stroke-dasharray="1.6 8"/><line x1="0" y1="80.4" x2="749.0" y2="80.4" stroke="#c8c8c8" stroke-width="1.6" stroke-dasharray="1.6 8"/><polygon points="80.0,276.6 160.7,73.2 241.4,358.6 322.1,307.9 402.8,276.6 483.5,371.4 564.2,402.0 644.9,402.0 725.6,402.0 725.6,402.0 644.9,402.0 564.2,402.0 483.5,378.7 402.8,321.6 322.1,358.6 241.4,390.7 160.7,238.8 80.0,358.6" fill="#ffff00"/><g clip-path="url(#c0)"><polyline points="80.0,358.6 160.7,238.8 241.4,390.7 322.1,358.6 402.8,321.6 483.5,378.7 564.2,402.0 644.9,402.0 725.6,402.0" fill="none" stroke="#ff0000" stroke-width="3.2" stroke-dasharray="16 9"/><polyline points="80.0,276.6 160.7,73.2 241.4,358.6 322.1,307.9 402.8,276.6 483.5,371.4 564.2,402.0 644.9,402.0 725.6,402.0" fill="none" stroke="#0000ff" stroke-width="3.2" stroke-dasharray="16 9"/><polyline points="80.0,383.5 160.7,-148.7 241.4,402.0 322.1,294.3 402.8,239.6 483.5,296.7 564.2,402.0 644.9,402.0 725.6,383.5" fill="none" stroke="#000" stroke-width="3.2"/></g><circle cx="80.0" cy="383.5" r="6" fill="#000"/><circle cx="241.4" cy="402.0" r="6" fill="#000"/><circle cx="322.1" cy="294.3" r="6" fill="#000"/><circle cx="402.8" cy="239.6" r="6" fill="#000"/><circle cx="483.5" cy="296.7" r="6" fill="#000"/><circle cx="564.2" cy="402.0" r="6" fill="#000"/><circle cx="644.9" cy="402.0" r="6" fill="#000"/><circle cx="725.6" cy="383.5" r="6" fill="#000"/><circle cx="80.0" cy="276.6" r="6" fill="#0000ff"/><circle cx="160.7" cy="73.2" r="6" fill="#0000ff"/><circle cx="241.4" cy="358.6" r="6" fill="#0000ff"/><circle cx="322.1" cy="307.9" r="6" fill="#0000ff"/><circle cx="402.8" cy="276.6" r="6" fill="#0000ff"/><circle cx="483.5" cy="371.4" r="6" fill="#0000ff"/><circle cx="564.2" cy="402.0" r="6" fill="#0000ff"/><circle cx="644.9" cy="402.0" r="6" fill="#0000ff"/><circle cx="725.6" cy="402.0" r="6" fill="#0000ff"/><circle cx="80.0" cy="358.6" r="6" fill="#ff0000"/><circle cx="160.7" cy="238.8" r="6" fill="#ff0000"/><circle cx="241.4" cy="390.7" r="6" fill="#ff0000"/><circle cx="322.1" cy="358.6" r="6" fill="#ff0000"/><circle cx="402.8" cy="321.6" r="6" fill="#ff0000"/><circle cx="483.5" cy="378.7" r="6" fill="#ff0000"/><circle cx="564.2" cy="402.0" r="6" fill="#ff0000"/><circle cx="644.9" cy="402.0" r="6" fill="#ff0000"/><circle cx="725.6" cy="402.0" r="6" fill="#ff0000"/><rect x="0" y="0" width="749.0" height="402.0" fill="none" stroke="#000" stroke-width="3"/><text x="-3" y="331.6" text-anchor="end" font-size="29" font-family="Liberation Serif">10&#8201;%</text><text x="-3" y="251.2" text-anchor="end" font-size="29" font-family="Liberation Serif">20&#8201;%</text><text x="-3" y="170.8" text-anchor="end" font-size="29" font-family="Liberation Serif">30&#8201;%</text><text x="-3" y="90.4" text-anchor="end" font-size="29" font-family="Liberation Serif">40&#8201;%</text><text x="-3" y="10.0" text-anchor="end" font-size="29" font-family="Liberation Serif">50&#8201;%</text><text transform="translate(75.0 420.0) rotate(-90)" text-anchor="end" font-size="35" font-family="Liberation Serif">Hardware y</text><text transform="translate(106.0 420.0) rotate(-90)" text-anchor="end" font-size="35" font-family="Liberation Serif">Arquitectura</text><text transform="translate(155.7 420.0) rotate(-90)" text-anchor="end" font-size="35" font-family="Liberation Serif">Ciencia de la</text><text transform="translate(186.7 420.0) rotate(-90)" text-anchor="end" font-size="35" font-family="Liberation Serif">Computación</text><text transform="translate(236.4 420.0) rotate(-90)" text-anchor="end" font-size="35" font-family="Liberation Serif">Sistemas de</text><text transform="translate(267.4 420.0) rotate(-90)" text-anchor="end" font-size="35" font-family="Liberation Serif">Información</text><text transform="translate(317.1 420.0) rotate(-90)" text-anchor="end" font-size="35" font-family="Liberation Serif">Tecnología</text><text transform="translate(348.1 420.0) rotate(-90)" text-anchor="end" font-size="35" font-family="Liberation Serif">de Información</text><text transform="translate(397.8 420.0) rotate(-90)" text-anchor="end" font-size="35" font-family="Liberation Serif">Ingeniería</text><text transform="translate(428.8 420.0) rotate(-90)" text-anchor="end" font-size="35" font-family="Liberation Serif">de Software</text><text transform="translate(478.5 420.0) rotate(-90)" text-anchor="end" font-size="35" font-family="Liberation Serif">Matemática para</text><text transform="translate(509.5 420.0) rotate(-90)" text-anchor="end" font-size="35" font-family="Liberation Serif">Computación</text><text transform="translate(559.2 420.0) rotate(-90)" text-anchor="end" font-size="35" font-family="Liberation Serif">Ciencias</text><text transform="translate(590.2 420.0) rotate(-90)" text-anchor="end" font-size="35" font-family="Liberation Serif">Básicas</text><text transform="translate(639.9 420.0) rotate(-90)" text-anchor="end" font-size="35" font-family="Liberation Serif">Contenido</text><text transform="translate(670.9 420.0) rotate(-90)" text-anchor="end" font-size="35" font-family="Liberation Serif">Empresarial</text><text transform="translate(720.6 420.0) rotate(-90)" text-anchor="end" font-size="35" font-family="Liberation Serif">Formación</text><text transform="translate(751.6 420.0) rotate(-90)" text-anchor="end" font-size="35" font-family="Liberation Serif">General</text><rect x="500" y="26" width="232" height="117" fill="#555"/><rect x="492" y="18" width="232" height="117" fill="#fff" stroke="#000" stroke-width="3"/><line x1="500" y1="40.0" x2="572" y2="40.0" stroke="#0000ff" stroke-width="3" stroke-dasharray="17.3 10.4"/><text x="573" y="51.0" font-size="33" font-family="Liberation Serif">CS Max</text><line x1="500" y1="73.0" x2="572" y2="73.0" stroke="#000" stroke-width="3"/><text x="573" y="84.0" font-size="33" font-family="Liberation Serif">CS-UNSCH</text><line x1="500" y1="106.0" x2="572" y2="106.0" stroke="#ff0000" stroke-width="3" stroke-dasharray="17.3 10.4"/><text x="573" y="117.0" font-size="33" font-family="Liberation Serif">CS Min</text></g><g transform="translate(3659.60 827.00) scale(0.4370)"><defs><clipPath id="c1"><rect x="-120" y="-25" width="900" height="700"/></clipPath></defs><rect x="8" y="8" width="749.0" height="402.0" fill="#505050"/><rect x="0" y="0" width="749.0" height="402.0" fill="#fff"/><line x1="80.0" y1="0" x2="80.0" y2="402.0" stroke="#c8c8c8" stroke-width="1.6" stroke-dasharray="1.6 8"/><line x1="160.7" y1="0" x2="160.7" y2="402.0" stroke="#c8c8c8" stroke-width="1.6" stroke-dasharray="1.6 8"/><line x1="241.4" y1="0" x2="241.4" y2="402.0" stroke="#c8c8c8" stroke-width="1.6" stroke-dasharray="1.6 8"/><line x1="322.1" y1="0" x2="322.1" y2="402.0" stroke="#c8c8c8" stroke-width="1.6" stroke-dasharray="1.6 8"/><line x1="402.8" y1="0" x2="402.8" y2="402.0" stroke="#c8c8c8" stroke-width="1.6" stroke-dasharray="1.6 8"/><line x1="483.5" y1="0" x2="483.5" y2="402.0" stroke="#c8c8c8" stroke-width="1.6" stroke-dasharray="1.6 8"/><line x1="564.2" y1="0" x2="564.2" y2="402.0" stroke="#c8c8c8" stroke-width="1.6" stroke-dasharray="1.6 8"/><line x1="644.9" y1="0" x2="644.9" y2="402.0" stroke="#c8c8c8" stroke-width="1.6" stroke-dasharray="1.6 8"/><line x1="725.6" y1="0" x2="725.6" y2="402.0" stroke="#c8c8c8" stroke-width="1.6" stroke-dasharray="1.6 8"/><line x1="0" y1="321.6" x2="749.0" y2="321.6" stroke="#c8c8c8" stroke-width="1.6" stroke-dasharray="1.6 8"/><line x1="0" y1="241.2" x2="749.0" y2="241.2" stroke="#c8c8c8" stroke-width="1.6" stroke-dasharray="1.6 8"/><line x1="0" y1="160.8" x2="749.0" y2="160.8" stroke="#c8c8c8" stroke-width="1.6" stroke-dasharray="1.6 8"/><line x1="0" y1="80.4" x2="749.0" y2="80.4" stroke="#c8c8c8" stroke-width="1.6" stroke-dasharray="1.6 8"/><polygon points="80.0,131.9 160.7,209.0 241.4,375.5 322.1,316.0 402.8,257.3 483.5,375.5 564.2,402.0 644.9,402.0 725.6,402.0 725.6,402.0 644.9,402.0 564.2,402.0 483.5,375.5 402.8,331.2 322.1,369.8 241.4,390.7 160.7,310.3 80.0,197.0" fill="#ffff00"/><g clip-path="url(#c1)"><polyline points="80.0,197.0 160.7,310.3 241.4,390.7 322.1,369.8 402.8,331.2 483.5,375.5 564.2,402.0 644.9,402.0 725.6,402.0" fill="none" stroke="#ff0000" stroke-width="3.2" stroke-dasharray="16 9"/><polyline points="80.0,131.9 160.7,209.0 241.4,375.5 322.1,316.0 402.8,257.3 483.5,375.5 564.2,402.0 644.9,402.0 725.6,402.0" fill="none" stroke="#0000ff" stroke-width="3.2" stroke-dasharray="16 9"/><polyline points="80.0,383.5 160.7,-148.7 241.4,402.0 322.1,294.3 402.8,239.6 483.5,296.7 564.2,402.0 644.9,402.0 725.6,383.5" fill="none" stroke="#000" stroke-width="3.2"/></g><circle cx="80.0" cy="383.5" r="6" fill="#000"/><circle cx="241.4" cy="402.0" r="6" fill="#000"/><circle cx="322.1" cy="294.3" r="6" fill="#000"/><circle cx="402.8" cy="239.6" r="6" fill="#000"/><circle cx="483.5" cy="296.7" r="6" fill="#000"/><circle cx="564.2" cy="402.0" r="6" fill="#000"/><circle cx="644.9" cy="402.0" r="6" fill="#000"/><circle cx="725.6" cy="383.5" r="6" fill="#000"/><circle cx="80.0" cy="131.9" r="6" fill="#0000ff"/><circle cx="160.7" cy="209.0" r="6" fill="#0000ff"/><circle cx="241.4" cy="375.5" r="6" fill="#0000ff"/><circle cx="322.1" cy="316.0" r="6" fill="#0000ff"/><circle cx="402.8" cy="257.3" r="6" fill="#0000ff"/><circle cx="483.5" cy="375.5" r="6" fill="#0000ff"/><circle cx="564.2" cy="402.0" r="6" fill="#0000ff"/><circle cx="644.9" cy="402.0" r="6" fill="#0000ff"/><circle cx="725.6" cy="402.0" r="6" fill="#0000ff"/><circle cx="80.0" cy="197.0" r="6" fill="#ff0000"/><circle cx="160.7" cy="310.3" r="6" fill="#ff0000"/><circle cx="241.4" cy="390.7" r="6" fill="#ff0000"/><circle cx="322.1" cy="369.8" r="6" fill="#ff0000"/><circle cx="402.8" cy="331.2" r="6" fill="#ff0000"/><circle cx="483.5" cy="375.5" r="6" fill="#ff0000"/><circle cx="564.2" cy="402.0" r="6" fill="#ff0000"/><circle cx="644.9" cy="402.0" r="6" fill="#ff0000"/><circle cx="725.6" cy="402.0" r="6" fill="#ff0000"/><rect x="0" y="0" width="749.0" height="402.0" fill="none" stroke="#000" stroke-width="3"/><text x="-3" y="331.6" text-anchor="end" font-size="29" font-family="Liberation Serif">10&#8201;%</text><text x="-3" y="251.2" text-anchor="end" font-size="29" font-family="Liberation Serif">20&#8201;%</text><text x="-3" y="170.8" text-anchor="end" font-size="29" font-family="Liberation Serif">30&#8201;%</text><text x="-3" y="90.4" text-anchor="end" font-size="29" font-family="Liberation Serif">40&#8201;%</text><text x="-3" y="10.0" text-anchor="end" font-size="29" font-family="Liberation Serif">50&#8201;%</text><text transform="translate(75.0 420.0) rotate(-90)" text-anchor="end" font-size="35" font-family="Liberation Serif">Hardware y</text><text transform="translate(106.0 420.0) rotate(-90)" text-anchor="end" font-size="35" font-family="Liberation Serif">Arquitectura</text><text transform="translate(155.7 420.0) rotate(-90)" text-anchor="end" font-size="35" font-family="Liberation Serif">Ciencia de la</text><text transform="translate(186.7 420.0) rotate(-90)" text-anchor="end" font-size="35" font-family="Liberation Serif">Computación</text><text transform="translate(236.4 420.0) rotate(-90)" text-anchor="end" font-size="35" font-family="Liberation Serif">Sistemas de</text><text transform="translate(267.4 420.0) rotate(-90)" text-anchor="end" font-size="35" font-family="Liberation Serif">Información</text><text transform="translate(317.1 420.0) rotate(-90)" text-anchor="end" font-size="35" font-family="Liberation Serif">Tecnología</text><text transform="translate(348.1 420.0) rotate(-90)" text-anchor="end" font-size="35" font-family="Liberation Serif">de Información</text><text transform="translate(397.8 420.0) rotate(-90)" text-anchor="end" font-size="35" font-family="Liberation Serif">Ingeniería</text><text transform="translate(428.8 420.0) rotate(-90)" text-anchor="end" font-size="35" font-family="Liberation Serif">de Software</text><text transform="translate(478.5 420.0) rotate(-90)" text-anchor="end" font-size="35" font-family="Liberation Serif">Matemática para</text><text transform="translate(509.5 420.0) rotate(-90)" text-anchor="end" font-size="35" font-family="Liberation Serif">Computación</text><text transform="translate(559.2 420.0) rotate(-90)" text-anchor="end" font-size="35" font-family="Liberation Serif">Ciencias</text><text transform="translate(590.2 420.0) rotate(-90)" text-anchor="end" font-size="35" font-family="Liberation Serif">Básicas</text><text transform="translate(639.9 420.0) rotate(-90)" text-anchor="end" font-size="35" font-family="Liberation Serif">Contenido</text><text transform="translate(670.9 420.0) rotate(-90)" text-anchor="end" font-size="35" font-family="Liberation Serif">Empresarial</text><text transform="translate(720.6 420.0) rotate(-90)" text-anchor="end" font-size="35" font-family="Liberation Serif">Formación</text><text transform="translate(751.6 420.0) rotate(-90)" text-anchor="end" font-size="35" font-family="Liberation Serif">General</text><rect x="500" y="26" width="232" height="117" fill="#555"/><rect x="492" y="18" width="232" height="117" fill="#fff" stroke="#000" stroke-width="3"/><line x1="500" y1="40.0" x2="572" y2="40.0" stroke="#0000ff" stroke-width="3" stroke-dasharray="17.3 10.4"/><text x="573" y="51.0" font-size="33" font-family="Liberation Serif">CE Max</text><line x1="500" y1="73.0" x2="572" y2="73.0" stroke="#000" stroke-width="3"/><text x="573" y="84.0" font-size="33" font-family="Liberation Serif">CS-UNSCH</text><line x1="500" y1="106.0" x2="572" y2="106.0" stroke="#ff0000" stroke-width="3" stroke-dasharray="17.3 10.4"/><text x="573" y="117.0" font-size="33" font-family="Liberation Serif">CE Min</text></g><g transform="translate(4083.00 827.00) scale(0.4370)"><defs><clipPath id="c2"><rect x="-120" y="-25" width="900" height="700"/></clipPath></defs><rect x="8" y="8" width="749.0" height="402.0" fill="#505050"/><rect x="0" y="0" width="749.0" height="402.0" fill="#fff"/><line x1="80.0" y1="0" x2="80.0" y2="402.0" stroke="#c8c8c8" stroke-width="1.6" stroke-dasharray="1.6 8"/><line x1="160.7" y1="0" x2="160.7" y2="402.0" stroke="#c8c8c8" stroke-width="1.6" stroke-dasharray="1.6 8"/><line x1="241.4" y1="0" x2="241.4" y2="402.0" stroke="#c8c8c8" stroke-width="1.6" stroke-dasharray="1.6 8"/><line x1="322.1" y1="0" x2="322.1" y2="402.0" stroke="#c8c8c8" stroke-width="1.6" stroke-dasharray="1.6 8"/><line x1="402.8" y1="0" x2="402.8" y2="402.0" stroke="#c8c8c8" stroke-width="1.6" stroke-dasharray="1.6 8"/><line x1="483.5" y1="0" x2="483.5" y2="402.0" stroke="#c8c8c8" stroke-width="1.6" stroke-dasharray="1.6 8"/><line x1="564.2" y1="0" x2="564.2" y2="402.0" stroke="#c8c8c8" stroke-width="1.6" stroke-dasharray="1.6 8"/><line x1="644.9" y1="0" x2="644.9" y2="402.0" stroke="#c8c8c8" stroke-width="1.6" stroke-dasharray="1.6 8"/><line x1="725.6" y1="0" x2="725.6" y2="402.0" stroke="#c8c8c8" stroke-width="1.6" stroke-dasharray="1.6 8"/><line x1="0" y1="321.6" x2="749.0" y2="321.6" stroke="#c8c8c8" stroke-width="1.6" stroke-dasharray="1.6 8"/><line x1="0" y1="241.2" x2="749.0" y2="241.2" stroke="#c8c8c8" stroke-width="1.6" stroke-dasharray="1.6 8"/><line x1="0" y1="160.8" x2="749.0" y2="160.8" stroke="#c8c8c8" stroke-width="1.6" stroke-dasharray="1.6 8"/><line x1="0" y1="80.4" x2="749.0" y2="80.4" stroke="#c8c8c8" stroke-width="1.6" stroke-dasharray="1.6 8"/><polygon points="80.0,359.4 160.7,254.9 241.4,283.8 322.1,267.7 402.8,267.7 483.5,378.7 564.2,402.0 644.9,402.0 725.6,402.0 725.6,402.0 644.9,402.0 564.2,402.0 483.5,390.7 402.8,316.0 322.1,346.5 241.4,291.9 160.7,330.4 80.0,376.3" fill="#ffff00"/><g clip-path="url(#c2)"><polyline points="80.0,376.3 160.7,330.4 241.4,291.9 322.1,346.5 402.8,316.0 483.5,390.7 564.2,402.0 644.9,402.0 725.6,402.0" fill="none" stroke="#ff0000" stroke-width="3.2" stroke-dasharray="16 9"/><polyline points="80.0,359.4 160.7,254.9 241.4,283.8 322.1,267.7 402.8,267.7 483.5,378.7 564.2,402.0 644.9,402.0 725.6,402.0" fill="none" stroke="#0000ff" stroke-width="3.2" stroke-dasharray="16 9"/><polyline points="80.0,383.5 160.7,-148.7 241.4,402.0 322.1,294.3 402.8,239.6 483.5,296.7 564.2,402.0 644.9,402.0 725.6,383.5" fill="none" stroke="#000" stroke-width="3.2"/></g><circle cx="80.0" cy="383.5" r="6" fill="#000"/><circle cx="241.4" cy="402.0" r="6" fill="#000"/><circle cx="322.1" cy="294.3" r="6" fill="#000"/><circle cx="402.8" cy="239.6" r="6" fill="#000"/><circle cx="483.5" cy="296.7" r="6" fill="#000"/><circle cx="564.2" cy="402.0" r="6" fill="#000"/><circle cx="644.9" cy="402.0" r="6" fill="#000"/><circle cx="725.6" cy="383.5" r="6" fill="#000"/><circle cx="80.0" cy="359.4" r="6" fill="#0000ff"/><circle cx="160.7" cy="254.9" r="6" fill="#0000ff"/><circle cx="241.4" cy="283.8" r="6" fill="#0000ff"/><circle cx="322.1" cy="267.7" r="6" fill="#0000ff"/><circle cx="402.8" cy="267.7" r="6" fill="#0000ff"/><circle cx="483.5" cy="378.7" r="6" fill="#0000ff"/><circle cx="564.2" cy="402.0" r="6" fill="#0000ff"/><circle cx="644.9" cy="402.0" r="6" fill="#0000ff"/><circle cx="725.6" cy="402.0" r="6" fill="#0000ff"/><circle cx="80.0" cy="376.3" r="6" fill="#ff0000"/><circle cx="160.7" cy="330.4" r="6" fill="#ff0000"/><circle cx="241.4" cy="291.9" r="6" fill="#ff0000"/><circle cx="322.1" cy="346.5" r="6" fill="#ff0000"/><circle cx="402.8" cy="316.0" r="6" fill="#ff0000"/><circle cx="483.5" cy="390.7" r="6" fill="#ff0000"/><circle cx="564.2" cy="402.0" r="6" fill="#ff0000"/><circle cx="644.9" cy="402.0" r="6" fill="#ff0000"/><circle cx="725.6" cy="402.0" r="6" fill="#ff0000"/><rect x="0" y="0" width="749.0" height="402.0" fill="none" stroke="#000" stroke-width="3"/><text x="-3" y="331.6" text-anchor="end" font-size="29" font-family="Liberation Serif">10&#8201;%</text><text x="-3" y="251.2" text-anchor="end" font-size="29" font-family="Liberation Serif">20&#8201;%</text><text x="-3" y="170.8" text-anchor="end" font-size="29" font-family="Liberation Serif">30&#8201;%</text><text x="-3" y="90.4" text-anchor="end" font-size="29" font-family="Liberation Serif">40&#8201;%</text><text x="-3" y="10.0" text-anchor="end" font-size="29" font-family="Liberation Serif">50&#8201;%</text><text transform="translate(75.0 420.0) rotate(-90)" text-anchor="end" font-size="35" font-family="Liberation Serif">Hardware y</text><text transform="translate(106.0 420.0) rotate(-90)" text-anchor="end" font-size="35" font-family="Liberation Serif">Arquitectura</text><text transform="translate(155.7 420.0) rotate(-90)" text-anchor="end" font-size="35" font-family="Liberation Serif">Ciencia de la</text><text transform="translate(186.7 420.0) rotate(-90)" text-anchor="end" font-size="35" font-family="Liberation Serif">Computación</text><text transform="translate(236.4 420.0) rotate(-90)" text-anchor="end" font-size="35" font-family="Liberation Serif">Sistemas de</text><text transform="translate(267.4 420.0) rotate(-90)" text-anchor="end" font-size="35" font-family="Liberation Serif">Información</text><text transform="translate(317.1 420.0) rotate(-90)" text-anchor="end" font-size="35" font-family="Liberation Serif">Tecnología</text><text transform="translate(348.1 420.0) rotate(-90)" text-anchor="end" font-size="35" font-family="Liberation Serif">de Información</text><text transform="translate(397.8 420.0) rotate(-90)" text-anchor="end" font-size="35" font-family="Liberation Serif">Ingeniería</text><text transform="translate(428.8 420.0) rotate(-90)" text-anchor="end" font-size="35" font-family="Liberation Serif">de Software</text><text transform="translate(478.5 420.0) rotate(-90)" text-anchor="end" font-size="35" font-family="Liberation Serif">Matemática para</text><text transform="translate(509.5 420.0) rotate(-90)" text-anchor="end" font-size="35" font-family="Liberation Serif">Computación</text><text transform="translate(559.2 420.0) rotate(-90)" text-anchor="end" font-size="35" font-family="Liberation Serif">Ciencias</text><text transform="translate(590.2 420.0) rotate(-90)" text-anchor="end" font-size="35" font-family="Liberation Serif">Básicas</text><text transform="translate(639.9 420.0) rotate(-90)" text-anchor="end" font-size="35" font-family="Liberation Serif">Contenido</text><text transform="translate(670.9 420.0) rotate(-90)" text-anchor="end" font-size="35" font-family="Liberation Serif">Empresarial</text><text transform="translate(720.6 420.0) rotate(-90)" text-anchor="end" font-size="35" font-family="Liberation Serif">Formación</text><text transform="translate(751.6 420.0) rotate(-90)" text-anchor="end" font-size="35" font-family="Liberation Serif">General</text><rect x="500" y="26" width="232" height="117" fill="#555"/><rect x="492" y="18" width="232" height="117" fill="#fff" stroke="#000" stroke-width="3"/><line x1="500" y1="40.0" x2="572" y2="40.0" stroke="#0000ff" stroke-width="3" stroke-dasharray="17.3 10.4"/><text x="573" y="51.0" font-size="33" font-family="Liberation Serif">IS Max</text><line x1="500" y1="73.0" x2="572" y2="73.0" stroke="#000" stroke-width="3"/><text x="573" y="84.0" font-size="33" font-family="Liberation Serif">CS-UNSCH</text><line x1="500" y1="106.0" x2="572" y2="106.0" stroke="#ff0000" stroke-width="3" stroke-dasharray="17.3 10.4"/><text x="573" y="117.0" font-size="33" font-family="Liberation Serif">IS Min</text></g><g transform="translate(3659.60 1209.30) scale(0.4370)"><defs><clipPath id="c3"><rect x="-120" y="-25" width="900" height="700"/></clipPath></defs><rect x="8" y="8" width="749.0" height="402.0" fill="#505050"/><rect x="0" y="0" width="749.0" height="402.0" fill="#fff"/><line x1="80.0" y1="0" x2="80.0" y2="402.0" stroke="#c8c8c8" stroke-width="1.6" stroke-dasharray="1.6 8"/><line x1="160.7" y1="0" x2="160.7" y2="402.0" stroke="#c8c8c8" stroke-width="1.6" stroke-dasharray="1.6 8"/><line x1="241.4" y1="0" x2="241.4" y2="402.0" stroke="#c8c8c8" stroke-width="1.6" stroke-dasharray="1.6 8"/><line x1="322.1" y1="0" x2="322.1" y2="402.0" stroke="#c8c8c8" stroke-width="1.6" stroke-dasharray="1.6 8"/><line x1="402.8" y1="0" x2="402.8" y2="402.0" stroke="#c8c8c8" stroke-width="1.6" stroke-dasharray="1.6 8"/><line x1="483.5" y1="0" x2="483.5" y2="402.0" stroke="#c8c8c8" stroke-width="1.6" stroke-dasharray="1.6 8"/><line x1="564.2" y1="0" x2="564.2" y2="402.0" stroke="#c8c8c8" stroke-width="1.6" stroke-dasharray="1.6 8"/><line x1="644.9" y1="0" x2="644.9" y2="402.0" stroke="#c8c8c8" stroke-width="1.6" stroke-dasharray="1.6 8"/><line x1="725.6" y1="0" x2="725.6" y2="402.0" stroke="#c8c8c8" stroke-width="1.6" stroke-dasharray="1.6 8"/><line x1="0" y1="321.6" x2="749.0" y2="321.6" stroke="#c8c8c8" stroke-width="1.6" stroke-dasharray="1.6 8"/><line x1="0" y1="241.2" x2="749.0" y2="241.2" stroke="#c8c8c8" stroke-width="1.6" stroke-dasharray="1.6 8"/><line x1="0" y1="160.8" x2="749.0" y2="160.8" stroke="#c8c8c8" stroke-width="1.6" stroke-dasharray="1.6 8"/><line x1="0" y1="80.4" x2="749.0" y2="80.4" stroke="#c8c8c8" stroke-width="1.6" stroke-dasharray="1.6 8"/><polygon points="80.0,285.4 160.7,196.2 241.4,330.4 322.1,307.1 402.8,179.3 483.5,373.9 564.2,402.0 644.9,402.0 725.6,402.0 725.6,402.0 644.9,402.0 564.2,402.0 483.5,378.7 402.8,245.2 322.1,363.4 241.4,373.9 160.7,274.2 80.0,352.2" fill="#ffff00"/><g clip-path="url(#c3)"><polyline points="80.0,352.2 160.7,274.2 241.4,373.9 322.1,363.4 402.8,245.2 483.5,378.7 564.2,402.0 644.9,402.0 725.6,402.0" fill="none" stroke="#ff0000" stroke-width="3.2" stroke-dasharray="16 9"/><polyline points="80.0,285.4 160.7,196.2 241.4,330.4 322.1,307.1 402.8,179.3 483.5,373.9 564.2,402.0 644.9,402.0 725.6,402.0" fill="none" stroke="#0000ff" stroke-width="3.2" stroke-dasharray="16 9"/><polyline points="80.0,383.5 160.7,-148.7 241.4,402.0 322.1,294.3 402.8,239.6 483.5,296.7 564.2,402.0 644.9,402.0 725.6,383.5" fill="none" stroke="#000" stroke-width="3.2"/></g><circle cx="80.0" cy="383.5" r="6" fill="#000"/><circle cx="241.4" cy="402.0" r="6" fill="#000"/><circle cx="322.1" cy="294.3" r="6" fill="#000"/><circle cx="402.8" cy="239.6" r="6" fill="#000"/><circle cx="483.5" cy="296.7" r="6" fill="#000"/><circle cx="564.2" cy="402.0" r="6" fill="#000"/><circle cx="644.9" cy="402.0" r="6" fill="#000"/><circle cx="725.6" cy="383.5" r="6" fill="#000"/><circle cx="80.0" cy="285.4" r="6" fill="#0000ff"/><circle cx="160.7" cy="196.2" r="6" fill="#0000ff"/><circle cx="241.4" cy="330.4" r="6" fill="#0000ff"/><circle cx="322.1" cy="307.1" r="6" fill="#0000ff"/><circle cx="402.8" cy="179.3" r="6" fill="#0000ff"/><circle cx="483.5" cy="373.9" r="6" fill="#0000ff"/><circle cx="564.2" cy="402.0" r="6" fill="#0000ff"/><circle cx="644.9" cy="402.0" r="6" fill="#0000ff"/><circle cx="725.6" cy="402.0" r="6" fill="#0000ff"/><circle cx="80.0" cy="352.2" r="6" fill="#ff0000"/><circle cx="160.7" cy="274.2" r="6" fill="#ff0000"/><circle cx="241.4" cy="373.9" r="6" fill="#ff0000"/><circle cx="322.1" cy="363.4" r="6" fill="#ff0000"/><circle cx="402.8" cy="245.2" r="6" fill="#ff0000"/><circle cx="483.5" cy="378.7" r="6" fill="#ff0000"/><circle cx="564.2" cy="402.0" r="6" fill="#ff0000"/><circle cx="644.9" cy="402.0" r="6" fill="#ff0000"/><circle cx="725.6" cy="402.0" r="6" fill="#ff0000"/><rect x="0" y="0" width="749.0" height="402.0" fill="none" stroke="#000" stroke-width="3"/><text x="-3" y="331.6" text-anchor="end" font-size="29" font-family="Liberation Serif">10&#8201;%</text><text x="-3" y="251.2" text-anchor="end" font-size="29" font-family="Liberation Serif">20&#8201;%</text><text x="-3" y="170.8" text-anchor="end" font-size="29" font-family="Liberation Serif">30&#8201;%</text><text x="-3" y="90.4" text-anchor="end" font-size="29" font-family="Liberation Serif">40&#8201;%</text><text x="-3" y="10.0" text-anchor="end" font-size="29" font-family="Liberation Serif">50&#8201;%</text><text transform="translate(75.0 420.0) rotate(-90)" text-anchor="end" font-size="35" font-family="Liberation Serif">Hardware y</text><text transform="translate(106.0 420.0) rotate(-90)" text-anchor="end" font-size="35" font-family="Liberation Serif">Arquitectura</text><text transform="translate(155.7 420.0) rotate(-90)" text-anchor="end" font-size="35" font-family="Liberation Serif">Ciencia de la</text><text transform="translate(186.7 420.0) rotate(-90)" text-anchor="end" font-size="35" font-family="Liberation Serif">Computación</text><text transform="translate(236.4 420.0) rotate(-90)" text-anchor="end" font-size="35" font-family="Liberation Serif">Sistemas de</text><text transform="translate(267.4 420.0) rotate(-90)" text-anchor="end" font-size="35" font-family="Liberation Serif">Información</text><text transform="translate(317.1 420.0) rotate(-90)" text-anchor="end" font-size="35" font-family="Liberation Serif">Tecnología</text><text transform="translate(348.1 420.0) rotate(-90)" text-anchor="end" font-size="35" font-family="Liberation Serif">de Información</text><text transform="translate(397.8 420.0) rotate(-90)" text-anchor="end" font-size="35" font-family="Liberation Serif">Ingeniería</text><text transform="translate(428.8 420.0) rotate(-90)" text-anchor="end" font-size="35" font-family="Liberation Serif">de Software</text><text transform="translate(478.5 420.0) rotate(-90)" text-anchor="end" font-size="35" font-family="Liberation Serif">Matemática para</text><text transform="translate(509.5 420.0) rotate(-90)" text-anchor="end" font-size="35" font-family="Liberation Serif">Computación</text><text transform="translate(559.2 420.0) rotate(-90)" text-anchor="end" font-size="35" font-family="Liberation Serif">Ciencias</text><text transform="translate(590.2 420.0) rotate(-90)" text-anchor="end" font-size="35" font-family="Liberation Serif">Básicas</text><text transform="translate(639.9 420.0) rotate(-90)" text-anchor="end" font-size="35" font-family="Liberation Serif">Contenido</text><text transform="translate(670.9 420.0) rotate(-90)" text-anchor="end" font-size="35" font-family="Liberation Serif">Empresarial</text><text transform="translate(720.6 420.0) rotate(-90)" text-anchor="end" font-size="35" font-family="Liberation Serif">Formación</text><text transform="translate(751.6 420.0) rotate(-90)" text-anchor="end" font-size="35" font-family="Liberation Serif">General</text><rect x="500" y="26" width="232" height="117" fill="#555"/><rect x="492" y="18" width="232" height="117" fill="#fff" stroke="#000" stroke-width="3"/><line x1="500" y1="40.0" x2="572" y2="40.0" stroke="#0000ff" stroke-width="3" stroke-dasharray="17.3 10.4"/><text x="573" y="51.0" font-size="33" font-family="Liberation Serif">SE Max</text><line x1="500" y1="73.0" x2="572" y2="73.0" stroke="#000" stroke-width="3"/><text x="573" y="84.0" font-size="33" font-family="Liberation Serif">CS-UNSCH</text><line x1="500" y1="106.0" x2="572" y2="106.0" stroke="#ff0000" stroke-width="3" stroke-dasharray="17.3 10.4"/><text x="573" y="117.0" font-size="33" font-family="Liberation Serif">SE Min</text></g><g transform="translate(4083.00 1209.30) scale(0.4370)"><defs><clipPath id="c4"><rect x="-120" y="-25" width="900" height="700"/></clipPath></defs><rect x="8" y="8" width="749.0" height="402.0" fill="#505050"/><rect x="0" y="0" width="749.0" height="402.0" fill="#fff"/><line x1="80.0" y1="0" x2="80.0" y2="402.0" stroke="#c8c8c8" stroke-width="1.6" stroke-dasharray="1.6 8"/><line x1="160.7" y1="0" x2="160.7" y2="402.0" stroke="#c8c8c8" stroke-width="1.6" stroke-dasharray="1.6 8"/><line x1="241.4" y1="0" x2="241.4" y2="402.0" stroke="#c8c8c8" stroke-width="1.6" stroke-dasharray="1.6 8"/><line x1="322.1" y1="0" x2="322.1" y2="402.0" stroke="#c8c8c8" stroke-width="1.6" stroke-dasharray="1.6 8"/><line x1="402.8" y1="0" x2="402.8" y2="402.0" stroke="#c8c8c8" stroke-width="1.6" stroke-dasharray="1.6 8"/><line x1="483.5" y1="0" x2="483.5" y2="402.0" stroke="#c8c8c8" stroke-width="1.6" stroke-dasharray="1.6 8"/><line x1="564.2" y1="0" x2="564.2" y2="402.0" stroke="#c8c8c8" stroke-width="1.6" stroke-dasharray="1.6 8"/><line x1="644.9" y1="0" x2="644.9" y2="402.0" stroke="#c8c8c8" stroke-width="1.6" stroke-dasharray="1.6 8"/><line x1="725.6" y1="0" x2="725.6" y2="402.0" stroke="#c8c8c8" stroke-width="1.6" stroke-dasharray="1.6 8"/><line x1="0" y1="321.6" x2="749.0" y2="321.6" stroke="#c8c8c8" stroke-width="1.6" stroke-dasharray="1.6 8"/><line x1="0" y1="241.2" x2="749.0" y2="241.2" stroke="#c8c8c8" stroke-width="1.6" stroke-dasharray="1.6 8"/><line x1="0" y1="160.8" x2="749.0" y2="160.8" stroke="#c8c8c8" stroke-width="1.6" stroke-dasharray="1.6 8"/><line x1="0" y1="80.4" x2="749.0" y2="80.4" stroke="#c8c8c8" stroke-width="1.6" stroke-dasharray="1.6 8"/><polygon points="80.0,339.3 160.7,262.9 241.4,330.4 322.1,131.1 402.8,315.2 483.5,370.6 564.2,402.0 644.9,402.0 725.6,402.0 725.6,402.0 644.9,402.0 564.2,402.0 483.5,384.3 402.8,355.4 322.1,184.9 241.4,363.4 160.7,315.2 80.0,378.7" fill="#ffff00"/><g clip-path="url(#c4)"><polyline points="80.0,378.7 160.7,315.2 241.4,363.4 322.1,184.9 402.8,355.4 483.5,384.3 564.2,402.0 644.9,402.0 725.6,402.0" fill="none" stroke="#ff0000" stroke-width="3.2" stroke-dasharray="16 9"/><polyline points="80.0,339.3 160.7,262.9 241.4,330.4 322.1,131.1 402.8,315.2 483.5,370.6 564.2,402.0 644.9,402.0 725.6,402.0" fill="none" stroke="#0000ff" stroke-width="3.2" stroke-dasharray="16 9"/><polyline points="80.0,383.5 160.7,-148.7 241.4,402.0 322.1,294.3 402.8,239.6 483.5,296.7 564.2,402.0 644.9,402.0 725.6,383.5" fill="none" stroke="#000" stroke-width="3.2"/></g><circle cx="80.0" cy="383.5" r="6" fill="#000"/><circle cx="241.4" cy="402.0" r="6" fill="#000"/><circle cx="322.1" cy="294.3" r="6" fill="#000"/><circle cx="402.8" cy="239.6" r="6" fill="#000"/><circle cx="483.5" cy="296.7" r="6" fill="#000"/><circle cx="564.2" cy="402.0" r="6" fill="#000"/><circle cx="644.9" cy="402.0" r="6" fill="#000"/><circle cx="725.6" cy="383.5" r="6" fill="#000"/><circle cx="80.0" cy="339.3" r="6" fill="#0000ff"/><circle cx="160.7" cy="262.9" r="6" fill="#0000ff"/><circle cx="241.4" cy="330.4" r="6" fill="#0000ff"/><circle cx="322.1" cy="131.1" r="6" fill="#0000ff"/><circle cx="402.8" cy="315.2" r="6" fill="#0000ff"/><circle cx="483.5" cy="370.6" r="6" fill="#0000ff"/><circle cx="564.2" cy="402.0" r="6" fill="#0000ff"/><circle cx="644.9" cy="402.0" r="6" fill="#0000ff"/><circle cx="725.6" cy="402.0" r="6" fill="#0000ff"/><circle cx="80.0" cy="378.7" r="6" fill="#ff0000"/><circle cx="160.7" cy="315.2" r="6" fill="#ff0000"/><circle cx="241.4" cy="363.4" r="6" fill="#ff0000"/><circle cx="322.1" cy="184.9" r="6" fill="#ff0000"/><circle cx="402.8" cy="355.4" r="6" fill="#ff0000"/><circle cx="483.5" cy="384.3" r="6" fill="#ff0000"/><circle cx="564.2" cy="402.0" r="6" fill="#ff0000"/><circle cx="644.9" cy="402.0" r="6" fill="#ff0000"/><circle cx="725.6" cy="402.0" r="6" fill="#ff0000"/><rect x="0" y="0" width="749.0" height="402.0" fill="none" stroke="#000" stroke-width="3"/><text x="-3" y="331.6" text-anchor="end" font-size="29" font-family="Liberation Serif">10&#8201;%</text><text x="-3" y="251.2" text-anchor="end" font-size="29" font-family="Liberation Serif">20&#8201;%</text><text x="-3" y="170.8" text-anchor="end" font-size="29" font-family="Liberation Serif">30&#8201;%</text><text x="-3" y="90.4" text-anchor="end" font-size="29" font-family="Liberation Serif">40&#8201;%</text><text x="-3" y="10.0" text-anchor="end" font-size="29" font-family="Liberation Serif">50&#8201;%</text><text transform="translate(75.0 420.0) rotate(-90)" text-anchor="end" font-size="35" font-family="Liberation Serif">Hardware y</text><text transform="translate(106.0 420.0) rotate(-90)" text-anchor="end" font-size="35" font-family="Liberation Serif">Arquitectura</text><text transform="translate(155.7 420.0) rotate(-90)" text-anchor="end" font-size="35" font-family="Liberation Serif">Ciencia de la</text><text transform="translate(186.7 420.0) rotate(-90)" text-anchor="end" font-size="35" font-family="Liberation Serif">Computación</text><text transform="translate(236.4 420.0) rotate(-90)" text-anchor="end" font-size="35" font-family="Liberation Serif">Sistemas de</text><text transform="translate(267.4 420.0) rotate(-90)" text-anchor="end" font-size="35" font-family="Liberation Serif">Información</text><text transform="translate(317.1 420.0) rotate(-90)" text-anchor="end" font-size="35" font-family="Liberation Serif">Tecnología</text><text transform="translate(348.1 420.0) rotate(-90)" text-anchor="end" font-size="35" font-family="Liberation Serif">de Información</text><text transform="translate(397.8 420.0) rotate(-90)" text-anchor="end" font-size="35" font-family="Liberation Serif">Ingeniería</text><text transform="translate(428.8 420.0) rotate(-90)" text-anchor="end" font-size="35" font-family="Liberation Serif">de Software</text><text transform="translate(478.5 420.0) rotate(-90)" text-anchor="end" font-size="35" font-family="Liberation Serif">Matemática para</text><text transform="translate(509.5 420.0) rotate(-90)" text-anchor="end" font-size="35" font-family="Liberation Serif">Computación</text><text transform="translate(559.2 420.0) rotate(-90)" text-anchor="end" font-size="35" font-family="Liberation Serif">Ciencias</text><text transform="translate(590.2 420.0) rotate(-90)" text-anchor="end" font-size="35" font-family="Liberation Serif">Básicas</text><text transform="translate(639.9 420.0) rotate(-90)" text-anchor="end" font-size="35" font-family="Liberation Serif">Contenido</text><text transform="translate(670.9 420.0) rotate(-90)" text-anchor="end" font-size="35" font-family="Liberation Serif">Empresarial</text><text transform="translate(720.6 420.0) rotate(-90)" text-anchor="end" font-size="35" font-family="Liberation Serif">Formación</text><text transform="translate(751.6 420.0) rotate(-90)" text-anchor="end" font-size="35" font-family="Liberation Serif">General</text><rect x="500" y="26" width="232" height="117" fill="#555"/><rect x="492" y="18" width="232" height="117" fill="#fff" stroke="#000" stroke-width="3"/><line x1="500" y1="40.0" x2="572" y2="40.0" stroke="#0000ff" stroke-width="3" stroke-dasharray="17.3 10.4"/><text x="573" y="51.0" font-size="33" font-family="Liberation Serif">IT Max</text><line x1="500" y1="73.0" x2="572" y2="73.0" stroke="#000" stroke-width="3"/><text x="573" y="84.0" font-size="33" font-family="Liberation Serif">CS-UNSCH</text><line x1="500" y1="106.0" x2="572" y2="106.0" stroke="#ff0000" stroke-width="3" stroke-dasharray="17.3 10.4"/><text x="573" y="117.0" font-size="33" font-family="Liberation Serif">IT Min</text></g></svg>
<div class="ab nw" style="left:4026px;top:771px;width:800px;margin-left:-400px;text-align:center;color:#fff;font-weight:bold;font-size:24.0px;line-height:28.799999999999997px;margin-top:-14.399999999999999px">CS (UNSCH) vs CS (ACM/IEEE-CS)</div>
<div class="ab nw" style="left:3812px;top:1158px;width:800px;margin-left:-400px;text-align:center;color:#fff;font-weight:bold;font-size:24.0px;line-height:28.799999999999997px;margin-top:-14.399999999999999px">CS (UNSCH) vs CE (ACM/IEEE-CS)</div>
<div class="ab nw" style="left:4236px;top:1158px;width:800px;margin-left:-400px;text-align:center;color:#fff;font-weight:bold;font-size:24.0px;line-height:28.799999999999997px;margin-top:-14.399999999999999px">CS (UNSCH) vs IS (ACM/IEEE-CS)</div>
<div class="ab nw" style="left:3812px;top:1541px;width:800px;margin-left:-400px;text-align:center;color:#fff;font-weight:bold;font-size:24.0px;line-height:28.799999999999997px;margin-top:-14.399999999999999px">CS (UNSCH) vs SE (ACM/IEEE-CS)</div>
<div class="ab nw" style="left:4236px;top:1541px;width:800px;margin-left:-400px;text-align:center;color:#fff;font-weight:bold;font-size:24.0px;line-height:28.799999999999997px;margin-top:-14.399999999999999px">CS (UNSCH) vs IT (ACM/IEEE-CS)</div>
<div class="ab nw" style="left:4025px;top:1831px;width:800px;margin-left:-400px;text-align:center;color:#fff;font-weight:bold;font-size:23.3px;line-height:27.96px;margin-top:-13.98px">Codificación de cursos del área de Ciencia de la Computación</div>
<div class="ab nw" style="left:4025px;top:2488px;width:800px;margin-left:-400px;text-align:center;color:#fff;font-weight:bold;font-size:23.3px;line-height:27.96px;margin-top:-13.98px">Perfil internacional de CS</div>
<div class="ab nw" style="left:3796px;top:2775px;width:800px;margin-left:-400px;text-align:center;color:#fff;font-weight:bold;font-size:23.3px;line-height:27.96px;margin-top:-13.98px">Créditos por área</div>
<div class="ab nw" style="left:4220px;top:2781px;width:800px;margin-left:-400px;text-align:center;color:#fff;font-weight:bold;font-size:23.3px;line-height:27.96px;margin-top:-13.98px">Créditos por nivel</div>
<div class="ab" style="left:3628px;top:1576px;width:792px;height:217px;border:1.3px solid #000"></div>
<svg class="ab" style="left:0;top:0" width="4491" height="3173"><path d="M3756 1588 H3692 V1670" fill="none" stroke="#000" stroke-width="1.3"/><polygon points="3692,1677 3689,1668 3695,1668"/><path d="M3756 1626.5 H3713 V1670" fill="none" stroke="#000" stroke-width="1.3"/><polygon points="3713,1677 3710,1668 3716,1668"/><path d="M3749 1763 V1709" fill="none" stroke="#000" stroke-width="1.3"/><polygon points="3749,1702 3746,1711 3752,1711"/></svg>
<div class="ab nw" style="color:#2a2a2a;left:3638px;top:1677.1px;font-size:29px;line-height:29px;letter-spacing:4.9px">CS2701</div>
<div class="ab nw" style="color:#2a2a2a;left:3765px;top:1576px;font-size:16.5px;line-height:17px">Nivel</div>
<div class="ab nw" style="color:#2a2a2a;left:3765px;top:1593px;font-size:14.2px;line-height:14px">1xx = introductorio, 2xx = intermedio, 3xx = avanzado, 4xx = proyecto final de carrera</div>
<div class="ab nw" style="color:#2a2a2a;left:3765px;top:1616px;font-size:16.5px;line-height:17px">Tema (segundo dígito/letra)</div>
<div class="ab nw" style="color:#2a2a2a;left:3765px;top:1632.7px;font-size:14.2px;line-height:14px">1 = Algoritmos y Complejidad (AL)</div>
<div class="ab nw" style="color:#2a2a2a;left:4045px;top:1632.7px;font-size:14.2px;line-height:14px">B = Desarrollo Basados en Plataforma (PBD)</div>
<div class="ab nw" style="color:#2a2a2a;left:3765px;top:1647.0px;font-size:14.2px;line-height:14px">2 = Arquitectura y Organización (AR)</div>
<div class="ab nw" style="color:#2a2a2a;left:4045px;top:1647.0px;font-size:14.2px;line-height:14px">C = Ciencia Computacional (CN)</div>
<div class="ab nw" style="color:#2a2a2a;left:3765px;top:1662.0px;font-size:14.2px;line-height:14px">3 = Redes y Comunicaciones (NC)</div>
<div class="ab nw" style="color:#2a2a2a;left:4045px;top:1662.0px;font-size:14.2px;line-height:14px">D = Estructura Discretas (DS)</div>
<div class="ab nw" style="color:#2a2a2a;left:3765px;top:1676.0px;font-size:14.2px;line-height:14px">4 = Lenguajes de Programación (PL)</div>
<div class="ab nw" style="color:#2a2a2a;left:4045px;top:1676.0px;font-size:14.2px;line-height:14px">F = Fundamentos del Desarrollo de Software (SDF)</div>
<div class="ab nw" style="color:#2a2a2a;left:3765px;top:1690.0px;font-size:14.2px;line-height:14px">5 = Gráficos y Visualización (GV)</div>
<div class="ab nw" style="color:#2a2a2a;left:4045px;top:1690.0px;font-size:14.2px;line-height:14px">H = Interacción Humano Computador (HCI)</div>
<div class="ab nw" style="color:#2a2a2a;left:3765px;top:1704.0px;font-size:14.2px;line-height:14px">6 = Inteligencia Artificial (IA)</div>
<div class="ab nw" style="color:#2a2a2a;left:4045px;top:1704.0px;font-size:14.2px;line-height:14px">I = Aseguramiento y Seguridad de la Información (IAS)</div>
<div class="ab nw" style="color:#2a2a2a;left:3765px;top:1718.7px;font-size:14.2px;line-height:14px">7 = Gestión de Información (IM)</div>
<div class="ab nw" style="color:#2a2a2a;left:4045px;top:1718.7px;font-size:14.2px;line-height:14px">P = Computación Paralela y Distribuída (PD)</div>
<div class="ab nw" style="color:#2a2a2a;left:3765px;top:1733.0px;font-size:14.2px;line-height:14px">8 = Asuntos Sociales y Práctica Profesional (SP)</div>
<div class="ab nw" style="color:#2a2a2a;left:4045px;top:1733.0px;font-size:14.2px;line-height:14px">S = Sistemas Operativos (OS)</div>
<div class="ab nw" style="color:#2a2a2a;left:3765px;top:1746.7px;font-size:14.2px;line-height:14px">9 = Ingenieríade Software (SE)</div>
<div class="ab nw" style="color:#2a2a2a;left:4045px;top:1746.7px;font-size:14.2px;line-height:14px">U = Fundamentos de Sistemas (SF)</div>
<div class="ab nw" style="color:#2a2a2a;left:3646px;top:1769px;font-size:16.5px;line-height:17px">Identificador numérico en el área</div>
<div class="ab" style="left:3628px;top:1866px;width:791px;height:582px;border:1.3px solid #000"></div>
<svg class="ab" style="left:0;top:0" width="4491" height="3173"><rect x="3778" y="1888" width="629.6" height="466.8" fill="#fff" stroke="#000" stroke-width="1.6"/><line x1="3778" y1="1981.8" x2="4407.6" y2="1981.8" stroke="#000" stroke-width="1.3"/><line x1="3778" y1="2075.4" x2="4407.6" y2="2075.4" stroke="#000" stroke-width="1.3"/><line x1="3778" y1="2169.0" x2="4407.6" y2="2169.0" stroke="#000" stroke-width="1.3"/><line x1="3778" y1="2262.0" x2="4407.6" y2="2262.0" stroke="#000" stroke-width="1.3"/><path d="M3778 1968.7 H4019 A238.5 153.3 0 0 1 4019 2275.3 H3778 Z" fill="#919191"/><line x1="3935" y1="2402.5" x2="4246" y2="2402.5" stroke="#000" stroke-width="2"/><polygon points="3926.6,2402.5 3939,2397.5 3936,2402.5 3939,2407.5"/><polygon points="4254,2402.5 4241.6,2397.5 4244.6,2402.5 4241.6,2407.5"/></svg>
<div class="ab nw" style="color:#2a2a2a;left:3563px;width:200px;text-align:right;top:1895.4px;font-size:18px;line-height:18px">Problemática</div>
<div class="ab nw" style="color:#2a2a2a;left:3563px;width:200px;text-align:right;top:1915.4px;font-size:18px;line-height:18px">Organizacional</div>
<div class="ab nw" style="color:#2a2a2a;left:3563px;width:200px;text-align:right;top:1935.4px;font-size:18px;line-height:18px">y Sistemas</div>
<div class="ab nw" style="color:#2a2a2a;left:3563px;width:200px;text-align:right;top:1955.4px;font-size:18px;line-height:18px">de Información</div>
<div class="ab nw" style="color:#2a2a2a;left:3563px;width:200px;text-align:right;top:2008.6px;font-size:18px;line-height:18px">Tecnologías</div>
<div class="ab nw" style="color:#2a2a2a;left:3563px;width:200px;text-align:right;top:2028.6px;font-size:18px;line-height:18px">de Aplicación</div>
<div class="ab nw" style="color:#2a2a2a;left:3563px;width:200px;text-align:right;top:2092.0px;font-size:18px;line-height:18px">Tecnologías</div>
<div class="ab nw" style="color:#2a2a2a;left:3563px;width:200px;text-align:right;top:2112.0px;font-size:18px;line-height:18px">y Métodos</div>
<div class="ab nw" style="color:#2a2a2a;left:3563px;width:200px;text-align:right;top:2132.0px;font-size:18px;line-height:18px">de Software</div>
<div class="ab nw" style="color:#2a2a2a;left:3563px;width:200px;text-align:right;top:2195.7px;font-size:18px;line-height:18px">Infraestructura</div>
<div class="ab nw" style="color:#2a2a2a;left:3563px;width:200px;text-align:right;top:2215.7px;font-size:18px;line-height:18px">de Sistemas</div>
<div class="ab nw" style="color:#2a2a2a;left:3563px;width:200px;text-align:right;top:2279.5px;font-size:18px;line-height:18px">Arquitectura y</div>
<div class="ab nw" style="color:#2a2a2a;left:3563px;width:200px;text-align:right;top:2299.5px;font-size:18px;line-height:18px">Hardware</div>
<div class="ab nw" style="color:#2a2a2a;left:3563px;width:200px;text-align:right;top:2319.5px;font-size:18px;line-height:18px">Computacional</div>
<div class="ab nw" style="color:#2a2a2a;left:3792.6px;top:2372.6px;font-size:18px;line-height:18px">Teoría</div>
<div class="ab nw" style="color:#2a2a2a;left:3792.6px;top:2392.3px;font-size:18px;line-height:18px">Principios</div>
<div class="ab nw" style="color:#2a2a2a;left:3792.6px;top:2412.0px;font-size:18px;line-height:18px">Innovación</div>
<div class="ab nw" style="color:#2a2a2a;left:4199px;width:200px;text-align:right;top:2372.6px;font-size:18px;line-height:18px">Aplicación</div>
<div class="ab nw" style="color:#2a2a2a;left:4199px;width:200px;text-align:right;top:2392.3px;font-size:18px;line-height:18px">Despliegue</div>
<div class="ab nw" style="color:#2a2a2a;left:4199px;width:200px;text-align:right;top:2412.0px;font-size:18px;line-height:18px">Configuración</div>
<div class="ab nw" style="color:#2a2a2a;left:3926px;top:2417.0px;font-size:18px;line-height:18px">Más Teórico</div>
<div class="ab nw" style="color:#2a2a2a;left:4054px;width:200px;text-align:right;top:2415.0px;font-size:18px;line-height:18px">Más Aplicado</div>
<div class="ab nw" style="color:#2a2a2a;left:3640px;top:2398px;font-size:44px;line-height:50px">CS</div>
<svg class="ab" style="left:0;top:0" width="4491" height="3173"><path d="M3802.0 2631.6 L3905.1 2612.7 A104.8 104.8 0 1 0 3905.9 2645.5 Z" fill="#0000ff" stroke="#000" stroke-width="1.3"/><path d="M3802.0 2631.6 L3906.8 2631.6 A104.8 104.8 0 0 0 3905.1 2612.7 Z" fill="#c1cdc1" stroke="#000" stroke-width="1.3"/><path d="M3802.0 2631.6 L3905.9 2645.5 A104.8 104.8 0 0 0 3906.8 2631.6 Z" fill="#66cd00" stroke="#000" stroke-width="1.3"/><circle cx="4210.0" cy="2622.0" r="99.5" fill="#444"/><path d="M4208.0 2620.0 L4307.5 2620.0 A99.5 99.5 0 0 0 4250.4 2530.0 Z" fill="#ffffff" stroke="#000" stroke-width="1.3"/><path d="M4208.0 2620.0 L4250.4 2530.0 A99.5 99.5 0 0 0 4127.9 2679.0 Z" fill="#ffff00" stroke="#000" stroke-width="1.3"/><path d="M4208.0 2620.0 L4127.9 2679.0 A99.5 99.5 0 0 0 4307.5 2620.0 Z" fill="#00ff00" stroke="#000" stroke-width="1.3"/></svg>
<div class="ab nw" style="left:3614.0px;top:2622.2px;font-size:19.7px;line-height:23.639999999999997px">CS (130)</div>
<div class="ab nw" style="left:3713.0px;top:2622.2px;font-size:19.7px;line-height:23.639999999999997px">94.8&#8201;%</div>
<div class="ab nw" style="left:3919.0px;top:2607.2px;font-size:19.7px;line-height:23.639999999999997px">CB (4)</div>
<div class="ab nw" style="left:3919.0px;top:2627.6px;font-size:19.7px;line-height:23.639999999999997px">FG (3)</div>
<div class="ab nw" style="left:3846.0px;top:2609.2px;font-size:19.7px;line-height:23.639999999999997px">2.9&#8201;%</div>
<div class="ab nw" style="left:3846.0px;top:2624.2px;font-size:19.7px;line-height:23.639999999999997px">2.1&#8201;%</div>
<div class="ab nw" style="left:4037.7px;top:2537.0px;font-size:13.4px;line-height:16.08px">Intermedio (56)</div>
<div class="ab nw" style="left:4301.0px;top:2548.0px;font-size:13.4px;line-height:16.08px">Introductorio (24)</div>
<div class="ab nw" style="left:4217.7px;top:2726.6px;font-size:13.4px;line-height:16.08px">Avanzado (53)</div>
<div class="ab nw" style="left:4144.0px;top:2575.0px;font-size:13.4px;line-height:16.08px">42.1&#8201;%</div>
<div class="ab nw" style="left:4241.0px;top:2581.0px;font-size:13.4px;line-height:16.08px">18.0&#8201;%</div>
<div class="ab nw" style="left:4208.0px;top:2670.0px;font-size:13.4px;line-height:16.08px">39.8&#8201;%</div></body></html>
